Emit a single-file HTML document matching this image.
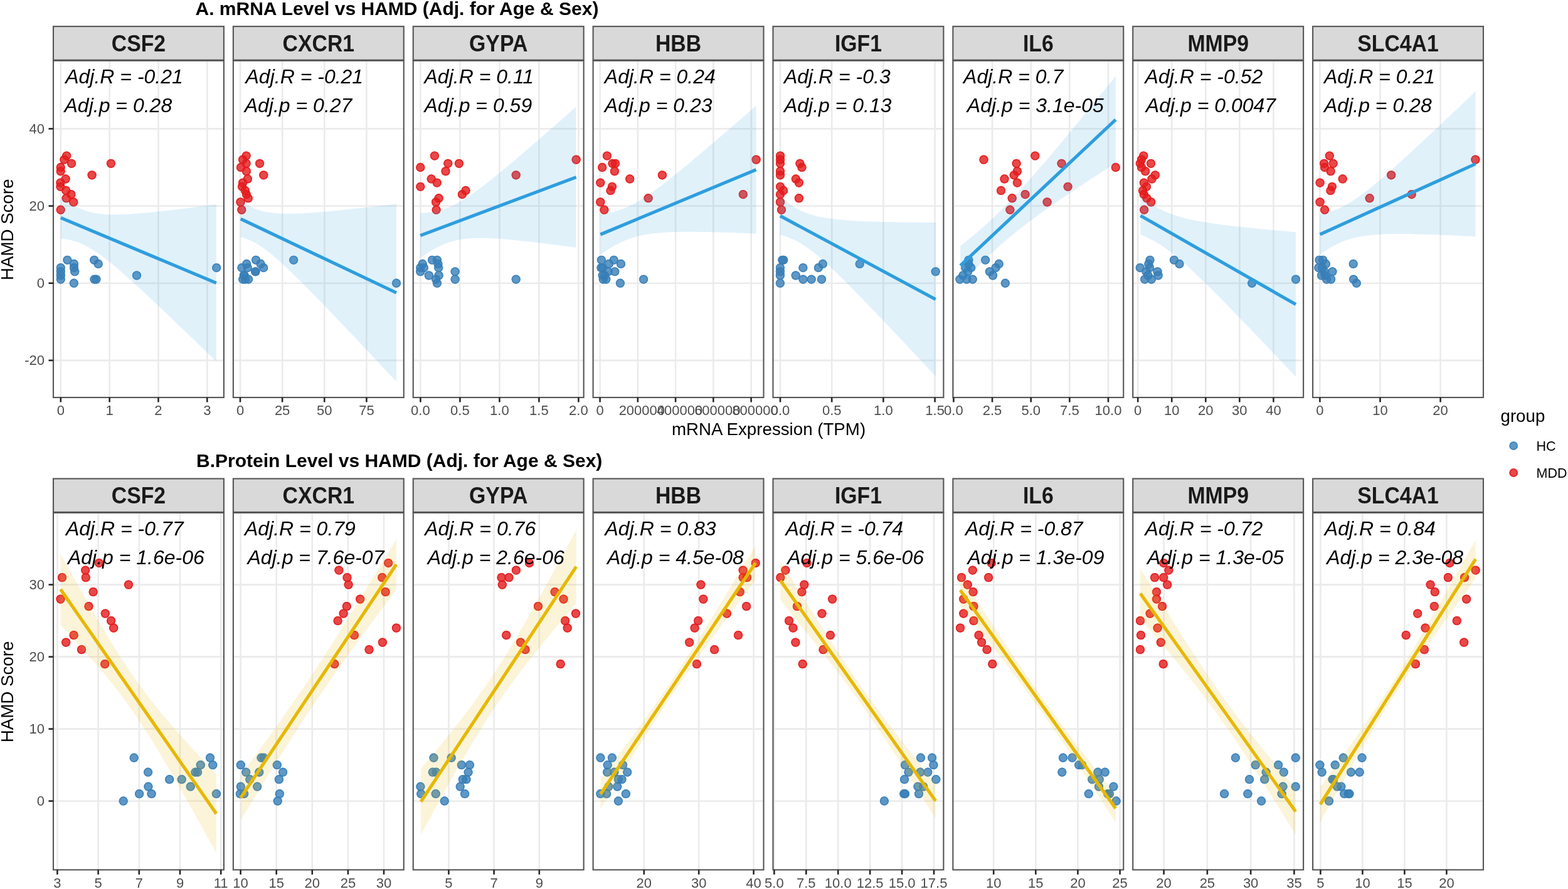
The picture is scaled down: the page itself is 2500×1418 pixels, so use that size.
<!DOCTYPE html><html><head><meta charset="utf-8"><title>mRNA and Protein Level vs HAMD</title><style>html,body{margin:0;padding:0;background:#fff;overflow:hidden}svg{display:block}text{font-family:"Liberation Sans",Arial,Helvetica,sans-serif}</style></head><body>
<svg width="2500" height="1418" viewBox="0 0 2500 1418">
<rect width="2500" height="1418" fill="#fff"/>
<text x="311.5" y="24.2" font-size="30" font-weight="bold" fill="#000">A. mRNA Level vs HAMD (Adj. for Age &amp; Sex)</text>
<text x="313" y="745" font-size="30" font-weight="bold" fill="#000">B.Protein Level vs HAMD (Adj. for Age &amp; Sex)</text>
<clipPath id="cA0"><rect x="85" y="96.8" width="271.9" height="537.2"/></clipPath>
<rect x="85" y="96.8" width="271.9" height="537.2" fill="#fff"/>
<g clip-path="url(#cA0)">
<line x1="85" x2="356.9" y1="205.38" y2="205.38" stroke="#EBEBEB" stroke-width="2.6"/>
<line x1="85" x2="356.9" y1="328.54" y2="328.54" stroke="#EBEBEB" stroke-width="2.6"/>
<line x1="85" x2="356.9" y1="451.7" y2="451.7" stroke="#EBEBEB" stroke-width="2.6"/>
<line x1="85" x2="356.9" y1="574.86" y2="574.86" stroke="#EBEBEB" stroke-width="2.6"/>
<line x1="96.8" x2="96.8" y1="96.8" y2="634" stroke="#EBEBEB" stroke-width="2.6"/>
<line x1="174.63" x2="174.63" y1="96.8" y2="634" stroke="#EBEBEB" stroke-width="2.6"/>
<line x1="252.46" x2="252.46" y1="96.8" y2="634" stroke="#EBEBEB" stroke-width="2.6"/>
<line x1="330.29" x2="330.29" y1="96.8" y2="634" stroke="#EBEBEB" stroke-width="2.6"/>
<circle cx="106.2" cy="248.49" r="7.1" fill="#E41A1C" fill-opacity="0.8"/><circle cx="106.2" cy="248.49" r="6.25" fill="none" stroke="#E41A1C" stroke-opacity="0.8" stroke-width="1.7"/>
<circle cx="102.4" cy="254.64" r="7.1" fill="#E41A1C" fill-opacity="0.8"/><circle cx="102.4" cy="254.64" r="6.25" fill="none" stroke="#E41A1C" stroke-opacity="0.8" stroke-width="1.7"/>
<circle cx="114" cy="260.8" r="7.1" fill="#E41A1C" fill-opacity="0.8"/><circle cx="114" cy="260.8" r="6.25" fill="none" stroke="#E41A1C" stroke-opacity="0.8" stroke-width="1.7"/>
<circle cx="176.9" cy="260.8" r="7.1" fill="#E41A1C" fill-opacity="0.8"/><circle cx="176.9" cy="260.8" r="6.25" fill="none" stroke="#E41A1C" stroke-opacity="0.8" stroke-width="1.7"/>
<circle cx="96.7" cy="266.96" r="7.1" fill="#E41A1C" fill-opacity="0.8"/><circle cx="96.7" cy="266.96" r="6.25" fill="none" stroke="#E41A1C" stroke-opacity="0.8" stroke-width="1.7"/>
<circle cx="96.7" cy="273.12" r="7.1" fill="#E41A1C" fill-opacity="0.8"/><circle cx="96.7" cy="273.12" r="6.25" fill="none" stroke="#E41A1C" stroke-opacity="0.8" stroke-width="1.7"/>
<circle cx="146.6" cy="279.28" r="7.1" fill="#E41A1C" fill-opacity="0.8"/><circle cx="146.6" cy="279.28" r="6.25" fill="none" stroke="#E41A1C" stroke-opacity="0.8" stroke-width="1.7"/>
<circle cx="104.6" cy="285.43" r="7.1" fill="#E41A1C" fill-opacity="0.8"/><circle cx="104.6" cy="285.43" r="6.25" fill="none" stroke="#E41A1C" stroke-opacity="0.8" stroke-width="1.7"/>
<circle cx="96.4" cy="291.59" r="7.1" fill="#E41A1C" fill-opacity="0.8"/><circle cx="96.4" cy="291.59" r="6.25" fill="none" stroke="#E41A1C" stroke-opacity="0.8" stroke-width="1.7"/>
<circle cx="96.4" cy="297.75" r="7.1" fill="#E41A1C" fill-opacity="0.8"/><circle cx="96.4" cy="297.75" r="6.25" fill="none" stroke="#E41A1C" stroke-opacity="0.8" stroke-width="1.7"/>
<circle cx="105.3" cy="303.91" r="7.1" fill="#E41A1C" fill-opacity="0.8"/><circle cx="105.3" cy="303.91" r="6.25" fill="none" stroke="#E41A1C" stroke-opacity="0.8" stroke-width="1.7"/>
<circle cx="113.4" cy="310.07" r="7.1" fill="#E41A1C" fill-opacity="0.8"/><circle cx="113.4" cy="310.07" r="6.25" fill="none" stroke="#E41A1C" stroke-opacity="0.8" stroke-width="1.7"/>
<circle cx="105.7" cy="316.22" r="7.1" fill="#E41A1C" fill-opacity="0.8"/><circle cx="105.7" cy="316.22" r="6.25" fill="none" stroke="#E41A1C" stroke-opacity="0.8" stroke-width="1.7"/>
<circle cx="117.2" cy="322.38" r="7.1" fill="#E41A1C" fill-opacity="0.8"/><circle cx="117.2" cy="322.38" r="6.25" fill="none" stroke="#E41A1C" stroke-opacity="0.8" stroke-width="1.7"/>
<circle cx="96.7" cy="334.7" r="7.1" fill="#E41A1C" fill-opacity="0.8"/><circle cx="96.7" cy="334.7" r="6.25" fill="none" stroke="#E41A1C" stroke-opacity="0.8" stroke-width="1.7"/>
<circle cx="96.8" cy="427.07" r="7.1" fill="#377EB8" fill-opacity="0.8"/><circle cx="96.8" cy="427.07" r="6.25" fill="none" stroke="#377EB8" stroke-opacity="0.8" stroke-width="1.7"/>
<circle cx="96.8" cy="433.23" r="7.1" fill="#377EB8" fill-opacity="0.8"/><circle cx="96.8" cy="433.23" r="6.25" fill="none" stroke="#377EB8" stroke-opacity="0.8" stroke-width="1.7"/>
<circle cx="96.8" cy="439.38" r="7.1" fill="#377EB8" fill-opacity="0.8"/><circle cx="96.8" cy="439.38" r="6.25" fill="none" stroke="#377EB8" stroke-opacity="0.8" stroke-width="1.7"/>
<circle cx="96.8" cy="445.54" r="7.1" fill="#377EB8" fill-opacity="0.8"/><circle cx="96.8" cy="445.54" r="6.25" fill="none" stroke="#377EB8" stroke-opacity="0.8" stroke-width="1.7"/>
<circle cx="107.4" cy="414.75" r="7.1" fill="#377EB8" fill-opacity="0.8"/><circle cx="107.4" cy="414.75" r="6.25" fill="none" stroke="#377EB8" stroke-opacity="0.8" stroke-width="1.7"/>
<circle cx="118" cy="420.91" r="7.1" fill="#377EB8" fill-opacity="0.8"/><circle cx="118" cy="420.91" r="6.25" fill="none" stroke="#377EB8" stroke-opacity="0.8" stroke-width="1.7"/>
<circle cx="118" cy="427.07" r="7.1" fill="#377EB8" fill-opacity="0.8"/><circle cx="118" cy="427.07" r="6.25" fill="none" stroke="#377EB8" stroke-opacity="0.8" stroke-width="1.7"/>
<circle cx="119.2" cy="433.23" r="7.1" fill="#377EB8" fill-opacity="0.8"/><circle cx="119.2" cy="433.23" r="6.25" fill="none" stroke="#377EB8" stroke-opacity="0.8" stroke-width="1.7"/>
<circle cx="117.8" cy="451.7" r="7.1" fill="#377EB8" fill-opacity="0.8"/><circle cx="117.8" cy="451.7" r="6.25" fill="none" stroke="#377EB8" stroke-opacity="0.8" stroke-width="1.7"/>
<circle cx="150.2" cy="414.75" r="7.1" fill="#377EB8" fill-opacity="0.8"/><circle cx="150.2" cy="414.75" r="6.25" fill="none" stroke="#377EB8" stroke-opacity="0.8" stroke-width="1.7"/>
<circle cx="156.7" cy="420.91" r="7.1" fill="#377EB8" fill-opacity="0.8"/><circle cx="156.7" cy="420.91" r="6.25" fill="none" stroke="#377EB8" stroke-opacity="0.8" stroke-width="1.7"/>
<circle cx="150.5" cy="445.54" r="7.1" fill="#377EB8" fill-opacity="0.8"/><circle cx="150.5" cy="445.54" r="6.25" fill="none" stroke="#377EB8" stroke-opacity="0.8" stroke-width="1.7"/>
<circle cx="153.5" cy="445.54" r="7.1" fill="#377EB8" fill-opacity="0.8"/><circle cx="153.5" cy="445.54" r="6.25" fill="none" stroke="#377EB8" stroke-opacity="0.8" stroke-width="1.7"/>
<circle cx="218" cy="439.38" r="7.1" fill="#377EB8" fill-opacity="0.8"/><circle cx="218" cy="439.38" r="6.25" fill="none" stroke="#377EB8" stroke-opacity="0.8" stroke-width="1.7"/>
<circle cx="345.2" cy="427.07" r="7.1" fill="#377EB8" fill-opacity="0.8"/><circle cx="345.2" cy="427.07" r="6.25" fill="none" stroke="#377EB8" stroke-opacity="0.8" stroke-width="1.7"/>
<path d="M96.85,314.4 L100.98,317.37 L105.11,320.2 L109.25,322.9 L113.38,325.43 L117.51,327.79 L121.64,329.97 L125.78,331.96 L129.91,333.75 L134.04,335.34 L138.18,336.73 L142.31,337.94 L146.44,338.97 L150.57,339.83 L154.7,340.54 L158.84,341.11 L162.97,341.55 L167.1,341.89 L171.24,342.13 L175.37,342.29 L179.5,342.37 L183.63,342.38 L187.76,342.33 L191.9,342.23 L196.03,342.09 L200.16,341.91 L204.3,341.69 L208.43,341.44 L212.56,341.16 L216.69,340.85 L220.82,340.52 L224.96,340.18 L229.09,339.81 L233.22,339.43 L237.36,339.03 L241.49,338.62 L245.62,338.19 L249.75,337.76 L253.88,337.31 L258.02,336.86 L262.15,336.39 L266.28,335.92 L270.42,335.44 L274.55,334.96 L278.68,334.46 L282.81,333.96 L286.94,333.46 L291.08,332.95 L295.21,332.44 L299.34,331.92 L303.48,331.4 L307.61,330.87 L311.74,330.34 L315.87,329.81 L320,329.27 L324.14,328.73 L328.27,328.19 L332.4,327.65 L336.53,327.1 L340.67,326.55 L344.8,326 L344.8,576.6 L340.67,572.59 L336.53,568.57 L332.4,564.56 L328.27,560.55 L324.14,556.55 L320,552.55 L315.87,548.55 L311.74,544.55 L307.61,540.56 L303.48,536.57 L299.34,532.58 L295.21,528.6 L291.08,524.62 L286.94,520.65 L282.81,516.69 L278.68,512.72 L274.55,508.77 L270.42,504.82 L266.28,500.88 L262.15,496.94 L258.02,493.01 L253.88,489.09 L249.75,485.19 L245.62,481.29 L241.49,477.4 L237.36,473.52 L233.22,469.66 L229.09,465.82 L224.96,461.99 L220.82,458.18 L216.69,454.38 L212.56,450.62 L208.43,446.87 L204.3,443.16 L200.16,439.48 L196.03,435.83 L191.9,432.22 L187.76,428.66 L183.63,425.15 L179.5,421.7 L175.37,418.32 L171.24,415.01 L167.1,411.78 L162.97,408.66 L158.84,405.64 L154.7,402.75 L150.57,400 L146.44,397.39 L142.31,394.96 L138.18,392.7 L134.04,390.63 L129.91,388.76 L125.78,387.08 L121.64,385.61 L117.51,384.32 L113.38,383.22 L109.25,382.29 L105.11,381.52 L100.98,380.9 L96.85,380.4Z" fill="#2E9EDE" fill-opacity="0.15"/>
<line x1="96.85" y1="347.4" x2="344.8" y2="451.3" stroke="#2E9EDE" stroke-width="5.2"/>
</g>
<text x="104.2" y="132.5" font-size="32" font-style="italic" fill="#000">Adj.R = -0.21</text>
<text x="102.5" y="179" font-size="32" font-style="italic" fill="#000">Adj.p = 0.28</text>
<rect x="85" y="96.8" width="271.9" height="537.2" fill="none" stroke="#555555" stroke-width="2.1"/>
<rect x="85" y="42.15" width="271.9" height="53.65" fill="#D9D9D9" stroke="#555555" stroke-width="2.1"/>
<text transform="translate(220.95,81.75) scale(0.926,1)" font-size="36.5" font-weight="bold" fill="#1A1A1A" text-anchor="middle">CSF2</text>
<line x1="96.8" x2="96.8" y1="634" y2="641.5" stroke="#262626" stroke-width="2.6"/>
<text x="96.8" y="662.2" font-size="22" fill="#4D4D4D" text-anchor="middle">0</text>
<line x1="174.63" x2="174.63" y1="634" y2="641.5" stroke="#262626" stroke-width="2.6"/>
<text x="174.63" y="662.2" font-size="22" fill="#4D4D4D" text-anchor="middle">1</text>
<line x1="252.46" x2="252.46" y1="634" y2="641.5" stroke="#262626" stroke-width="2.6"/>
<text x="252.46" y="662.2" font-size="22" fill="#4D4D4D" text-anchor="middle">2</text>
<line x1="330.29" x2="330.29" y1="634" y2="641.5" stroke="#262626" stroke-width="2.6"/>
<text x="330.29" y="662.2" font-size="22" fill="#4D4D4D" text-anchor="middle">3</text>
<clipPath id="cA1"><rect x="371.87" y="96.8" width="271.9" height="537.2"/></clipPath>
<rect x="371.87" y="96.8" width="271.9" height="537.2" fill="#fff"/>
<g clip-path="url(#cA1)">
<line x1="371.87" x2="643.77" y1="205.38" y2="205.38" stroke="#EBEBEB" stroke-width="2.6"/>
<line x1="371.87" x2="643.77" y1="328.54" y2="328.54" stroke="#EBEBEB" stroke-width="2.6"/>
<line x1="371.87" x2="643.77" y1="451.7" y2="451.7" stroke="#EBEBEB" stroke-width="2.6"/>
<line x1="371.87" x2="643.77" y1="574.86" y2="574.86" stroke="#EBEBEB" stroke-width="2.6"/>
<line x1="383" x2="383" y1="96.8" y2="634" stroke="#EBEBEB" stroke-width="2.6"/>
<line x1="450.13" x2="450.13" y1="96.8" y2="634" stroke="#EBEBEB" stroke-width="2.6"/>
<line x1="517.26" x2="517.26" y1="96.8" y2="634" stroke="#EBEBEB" stroke-width="2.6"/>
<line x1="584.4" x2="584.4" y1="96.8" y2="634" stroke="#EBEBEB" stroke-width="2.6"/>
<circle cx="392.6" cy="248.49" r="7.1" fill="#E41A1C" fill-opacity="0.8"/><circle cx="392.6" cy="248.49" r="6.25" fill="none" stroke="#E41A1C" stroke-opacity="0.8" stroke-width="1.7"/>
<circle cx="387.1" cy="254.64" r="7.1" fill="#E41A1C" fill-opacity="0.8"/><circle cx="387.1" cy="254.64" r="6.25" fill="none" stroke="#E41A1C" stroke-opacity="0.8" stroke-width="1.7"/>
<circle cx="392.6" cy="260.8" r="7.1" fill="#E41A1C" fill-opacity="0.8"/><circle cx="392.6" cy="260.8" r="6.25" fill="none" stroke="#E41A1C" stroke-opacity="0.8" stroke-width="1.7"/>
<circle cx="414.1" cy="260.8" r="7.1" fill="#E41A1C" fill-opacity="0.8"/><circle cx="414.1" cy="260.8" r="6.25" fill="none" stroke="#E41A1C" stroke-opacity="0.8" stroke-width="1.7"/>
<circle cx="384" cy="266.96" r="7.1" fill="#E41A1C" fill-opacity="0.8"/><circle cx="384" cy="266.96" r="6.25" fill="none" stroke="#E41A1C" stroke-opacity="0.8" stroke-width="1.7"/>
<circle cx="392.9" cy="273.12" r="7.1" fill="#E41A1C" fill-opacity="0.8"/><circle cx="392.9" cy="273.12" r="6.25" fill="none" stroke="#E41A1C" stroke-opacity="0.8" stroke-width="1.7"/>
<circle cx="420.3" cy="279.28" r="7.1" fill="#E41A1C" fill-opacity="0.8"/><circle cx="420.3" cy="279.28" r="6.25" fill="none" stroke="#E41A1C" stroke-opacity="0.8" stroke-width="1.7"/>
<circle cx="394.9" cy="285.43" r="7.1" fill="#E41A1C" fill-opacity="0.8"/><circle cx="394.9" cy="285.43" r="6.25" fill="none" stroke="#E41A1C" stroke-opacity="0.8" stroke-width="1.7"/>
<circle cx="387.1" cy="291.59" r="7.1" fill="#E41A1C" fill-opacity="0.8"/><circle cx="387.1" cy="291.59" r="6.25" fill="none" stroke="#E41A1C" stroke-opacity="0.8" stroke-width="1.7"/>
<circle cx="386" cy="297.75" r="7.1" fill="#E41A1C" fill-opacity="0.8"/><circle cx="386" cy="297.75" r="6.25" fill="none" stroke="#E41A1C" stroke-opacity="0.8" stroke-width="1.7"/>
<circle cx="391" cy="303.91" r="7.1" fill="#E41A1C" fill-opacity="0.8"/><circle cx="391" cy="303.91" r="6.25" fill="none" stroke="#E41A1C" stroke-opacity="0.8" stroke-width="1.7"/>
<circle cx="392.9" cy="310.07" r="7.1" fill="#E41A1C" fill-opacity="0.8"/><circle cx="392.9" cy="310.07" r="6.25" fill="none" stroke="#E41A1C" stroke-opacity="0.8" stroke-width="1.7"/>
<circle cx="395.7" cy="316.22" r="7.1" fill="#E41A1C" fill-opacity="0.8"/><circle cx="395.7" cy="316.22" r="6.25" fill="none" stroke="#E41A1C" stroke-opacity="0.8" stroke-width="1.7"/>
<circle cx="383.5" cy="322.38" r="7.1" fill="#E41A1C" fill-opacity="0.8"/><circle cx="383.5" cy="322.38" r="6.25" fill="none" stroke="#E41A1C" stroke-opacity="0.8" stroke-width="1.7"/>
<circle cx="385.3" cy="334.7" r="7.1" fill="#E41A1C" fill-opacity="0.8"/><circle cx="385.3" cy="334.7" r="6.25" fill="none" stroke="#E41A1C" stroke-opacity="0.8" stroke-width="1.7"/>
<circle cx="393.2" cy="420.91" r="7.1" fill="#377EB8" fill-opacity="0.8"/><circle cx="393.2" cy="420.91" r="6.25" fill="none" stroke="#377EB8" stroke-opacity="0.8" stroke-width="1.7"/>
<circle cx="385.5" cy="427.07" r="7.1" fill="#377EB8" fill-opacity="0.8"/><circle cx="385.5" cy="427.07" r="6.25" fill="none" stroke="#377EB8" stroke-opacity="0.8" stroke-width="1.7"/>
<circle cx="394.9" cy="427.07" r="7.1" fill="#377EB8" fill-opacity="0.8"/><circle cx="394.9" cy="427.07" r="6.25" fill="none" stroke="#377EB8" stroke-opacity="0.8" stroke-width="1.7"/>
<circle cx="408" cy="414.75" r="7.1" fill="#377EB8" fill-opacity="0.8"/><circle cx="408" cy="414.75" r="6.25" fill="none" stroke="#377EB8" stroke-opacity="0.8" stroke-width="1.7"/>
<circle cx="415.6" cy="420.91" r="7.1" fill="#377EB8" fill-opacity="0.8"/><circle cx="415.6" cy="420.91" r="6.25" fill="none" stroke="#377EB8" stroke-opacity="0.8" stroke-width="1.7"/>
<circle cx="420.2" cy="427.07" r="7.1" fill="#377EB8" fill-opacity="0.8"/><circle cx="420.2" cy="427.07" r="6.25" fill="none" stroke="#377EB8" stroke-opacity="0.8" stroke-width="1.7"/>
<circle cx="407.3" cy="433.23" r="7.1" fill="#377EB8" fill-opacity="0.8"/><circle cx="407.3" cy="433.23" r="6.25" fill="none" stroke="#377EB8" stroke-opacity="0.8" stroke-width="1.7"/>
<circle cx="407.3" cy="433.23" r="7.1" fill="#377EB8" fill-opacity="0.8"/><circle cx="407.3" cy="433.23" r="6.25" fill="none" stroke="#377EB8" stroke-opacity="0.8" stroke-width="1.7"/>
<circle cx="388.9" cy="439.38" r="7.1" fill="#377EB8" fill-opacity="0.8"/><circle cx="388.9" cy="439.38" r="6.25" fill="none" stroke="#377EB8" stroke-opacity="0.8" stroke-width="1.7"/>
<circle cx="389.5" cy="439.38" r="7.1" fill="#377EB8" fill-opacity="0.8"/><circle cx="389.5" cy="439.38" r="6.25" fill="none" stroke="#377EB8" stroke-opacity="0.8" stroke-width="1.7"/>
<circle cx="387.2" cy="445.54" r="7.1" fill="#377EB8" fill-opacity="0.8"/><circle cx="387.2" cy="445.54" r="6.25" fill="none" stroke="#377EB8" stroke-opacity="0.8" stroke-width="1.7"/>
<circle cx="391" cy="445.54" r="7.1" fill="#377EB8" fill-opacity="0.8"/><circle cx="391" cy="445.54" r="6.25" fill="none" stroke="#377EB8" stroke-opacity="0.8" stroke-width="1.7"/>
<circle cx="396.1" cy="445.54" r="7.1" fill="#377EB8" fill-opacity="0.8"/><circle cx="396.1" cy="445.54" r="6.25" fill="none" stroke="#377EB8" stroke-opacity="0.8" stroke-width="1.7"/>
<circle cx="468.2" cy="414.75" r="7.1" fill="#377EB8" fill-opacity="0.8"/><circle cx="468.2" cy="414.75" r="6.25" fill="none" stroke="#377EB8" stroke-opacity="0.8" stroke-width="1.7"/>
<circle cx="632" cy="451.7" r="7.1" fill="#377EB8" fill-opacity="0.8"/><circle cx="632" cy="451.7" r="6.25" fill="none" stroke="#377EB8" stroke-opacity="0.8" stroke-width="1.7"/>
<path d="M383.7,320.2 L387.84,322.98 L391.98,325.55 L396.12,327.91 L400.25,330.05 L404.39,331.95 L408.53,333.63 L412.67,335.08 L416.81,336.33 L420.94,337.38 L425.08,338.26 L429.22,338.98 L433.36,339.55 L437.5,340 L441.64,340.35 L445.77,340.6 L449.91,340.77 L454.05,340.86 L458.19,340.89 L462.33,340.87 L466.47,340.8 L470.61,340.69 L474.74,340.54 L478.88,340.36 L483.02,340.15 L487.16,339.92 L491.3,339.66 L495.44,339.38 L499.57,339.09 L503.71,338.77 L507.85,338.44 L511.99,338.1 L516.13,337.75 L520.26,337.39 L524.4,337.01 L528.54,336.63 L532.68,336.23 L536.82,335.83 L540.96,335.43 L545.1,335.01 L549.23,334.59 L553.37,334.17 L557.51,333.74 L561.65,333.3 L565.79,332.86 L569.92,332.42 L574.06,331.97 L578.2,331.52 L582.34,331.06 L586.48,330.6 L590.62,330.14 L594.75,329.68 L598.89,329.21 L603.03,328.74 L607.17,328.27 L611.31,327.8 L615.45,327.32 L619.59,326.84 L623.72,326.36 L627.86,325.88 L632,325.4 L632,608.6 L627.86,604.19 L623.72,599.78 L619.59,595.38 L615.45,590.97 L611.31,586.57 L607.17,582.17 L603.03,577.77 L598.89,573.37 L594.75,568.98 L590.62,564.59 L586.48,560.2 L582.34,555.82 L578.2,551.44 L574.06,547.06 L569.92,542.68 L565.79,538.31 L561.65,533.94 L557.51,529.58 L553.37,525.23 L549.23,520.87 L545.1,516.53 L540.96,512.19 L536.82,507.85 L532.68,503.53 L528.54,499.21 L524.4,494.9 L520.26,490.59 L516.13,486.3 L511.99,482.02 L507.85,477.76 L503.71,473.5 L499.57,469.26 L495.44,465.04 L491.3,460.83 L487.16,456.65 L483.02,452.49 L478.88,448.35 L474.74,444.24 L470.61,440.17 L466.47,436.13 L462.33,432.13 L458.19,428.19 L454.05,424.29 L449.91,420.46 L445.77,416.7 L441.64,413.02 L437.5,409.44 L433.36,405.97 L429.22,402.62 L425.08,399.41 L420.94,396.36 L416.81,393.48 L412.67,390.8 L408.53,388.33 L404.39,386.08 L400.25,384.06 L396.12,382.27 L391.98,380.7 L387.84,379.35 L383.7,378.2Z" fill="#2E9EDE" fill-opacity="0.15"/>
<line x1="383.7" y1="349.2" x2="632" y2="467" stroke="#2E9EDE" stroke-width="5.2"/>
</g>
<text x="391.5" y="132.5" font-size="32" font-style="italic" fill="#000">Adj.R = -0.21</text>
<text x="389.7" y="179" font-size="32" font-style="italic" fill="#000">Adj.p = 0.27</text>
<rect x="371.87" y="96.8" width="271.9" height="537.2" fill="none" stroke="#555555" stroke-width="2.1"/>
<rect x="371.87" y="42.15" width="271.9" height="53.65" fill="#D9D9D9" stroke="#555555" stroke-width="2.1"/>
<text transform="translate(507.82,81.75) scale(0.926,1)" font-size="36.5" font-weight="bold" fill="#1A1A1A" text-anchor="middle">CXCR1</text>
<line x1="383" x2="383" y1="634" y2="641.5" stroke="#262626" stroke-width="2.6"/>
<text x="383" y="662.2" font-size="22" fill="#4D4D4D" text-anchor="middle">0</text>
<line x1="450.13" x2="450.13" y1="634" y2="641.5" stroke="#262626" stroke-width="2.6"/>
<text x="450.13" y="662.2" font-size="22" fill="#4D4D4D" text-anchor="middle">25</text>
<line x1="517.26" x2="517.26" y1="634" y2="641.5" stroke="#262626" stroke-width="2.6"/>
<text x="517.26" y="662.2" font-size="22" fill="#4D4D4D" text-anchor="middle">50</text>
<line x1="584.4" x2="584.4" y1="634" y2="641.5" stroke="#262626" stroke-width="2.6"/>
<text x="584.4" y="662.2" font-size="22" fill="#4D4D4D" text-anchor="middle">75</text>
<clipPath id="cA2"><rect x="658.74" y="96.8" width="271.9" height="537.2"/></clipPath>
<rect x="658.74" y="96.8" width="271.9" height="537.2" fill="#fff"/>
<g clip-path="url(#cA2)">
<line x1="658.74" x2="930.64" y1="205.38" y2="205.38" stroke="#EBEBEB" stroke-width="2.6"/>
<line x1="658.74" x2="930.64" y1="328.54" y2="328.54" stroke="#EBEBEB" stroke-width="2.6"/>
<line x1="658.74" x2="930.64" y1="451.7" y2="451.7" stroke="#EBEBEB" stroke-width="2.6"/>
<line x1="658.74" x2="930.64" y1="574.86" y2="574.86" stroke="#EBEBEB" stroke-width="2.6"/>
<line x1="670.4" x2="670.4" y1="96.8" y2="634" stroke="#EBEBEB" stroke-width="2.6"/>
<line x1="733.4" x2="733.4" y1="96.8" y2="634" stroke="#EBEBEB" stroke-width="2.6"/>
<line x1="796.4" x2="796.4" y1="96.8" y2="634" stroke="#EBEBEB" stroke-width="2.6"/>
<line x1="859.4" x2="859.4" y1="96.8" y2="634" stroke="#EBEBEB" stroke-width="2.6"/>
<line x1="922.4" x2="922.4" y1="96.8" y2="634" stroke="#EBEBEB" stroke-width="2.6"/>
<circle cx="692.9" cy="248.49" r="7.1" fill="#E41A1C" fill-opacity="0.8"/><circle cx="692.9" cy="248.49" r="6.25" fill="none" stroke="#E41A1C" stroke-opacity="0.8" stroke-width="1.7"/>
<circle cx="670.3" cy="266.96" r="7.1" fill="#E41A1C" fill-opacity="0.8"/><circle cx="670.3" cy="266.96" r="6.25" fill="none" stroke="#E41A1C" stroke-opacity="0.8" stroke-width="1.7"/>
<circle cx="714.3" cy="260.8" r="7.1" fill="#E41A1C" fill-opacity="0.8"/><circle cx="714.3" cy="260.8" r="6.25" fill="none" stroke="#E41A1C" stroke-opacity="0.8" stroke-width="1.7"/>
<circle cx="731.9" cy="260.8" r="7.1" fill="#E41A1C" fill-opacity="0.8"/><circle cx="731.9" cy="260.8" r="6.25" fill="none" stroke="#E41A1C" stroke-opacity="0.8" stroke-width="1.7"/>
<circle cx="710.5" cy="273.12" r="7.1" fill="#E41A1C" fill-opacity="0.8"/><circle cx="710.5" cy="273.12" r="6.25" fill="none" stroke="#E41A1C" stroke-opacity="0.8" stroke-width="1.7"/>
<circle cx="687.7" cy="285.43" r="7.1" fill="#E41A1C" fill-opacity="0.8"/><circle cx="687.7" cy="285.43" r="6.25" fill="none" stroke="#E41A1C" stroke-opacity="0.8" stroke-width="1.7"/>
<circle cx="696.7" cy="291.59" r="7.1" fill="#E41A1C" fill-opacity="0.8"/><circle cx="696.7" cy="291.59" r="6.25" fill="none" stroke="#E41A1C" stroke-opacity="0.8" stroke-width="1.7"/>
<circle cx="670.3" cy="297.75" r="7.1" fill="#E41A1C" fill-opacity="0.8"/><circle cx="670.3" cy="297.75" r="6.25" fill="none" stroke="#E41A1C" stroke-opacity="0.8" stroke-width="1.7"/>
<circle cx="742.5" cy="303.91" r="7.1" fill="#E41A1C" fill-opacity="0.8"/><circle cx="742.5" cy="303.91" r="6.25" fill="none" stroke="#E41A1C" stroke-opacity="0.8" stroke-width="1.7"/>
<circle cx="736.9" cy="310.07" r="7.1" fill="#E41A1C" fill-opacity="0.8"/><circle cx="736.9" cy="310.07" r="6.25" fill="none" stroke="#E41A1C" stroke-opacity="0.8" stroke-width="1.7"/>
<circle cx="699.6" cy="316.22" r="7.1" fill="#E41A1C" fill-opacity="0.8"/><circle cx="699.6" cy="316.22" r="6.25" fill="none" stroke="#E41A1C" stroke-opacity="0.8" stroke-width="1.7"/>
<circle cx="695.1" cy="322.38" r="7.1" fill="#E41A1C" fill-opacity="0.8"/><circle cx="695.1" cy="322.38" r="6.25" fill="none" stroke="#E41A1C" stroke-opacity="0.8" stroke-width="1.7"/>
<circle cx="695.6" cy="334.7" r="7.1" fill="#E41A1C" fill-opacity="0.8"/><circle cx="695.6" cy="334.7" r="6.25" fill="none" stroke="#E41A1C" stroke-opacity="0.8" stroke-width="1.7"/>
<circle cx="822.7" cy="279.28" r="7.1" fill="#E41A1C" fill-opacity="0.8"/><circle cx="822.7" cy="279.28" r="6.25" fill="none" stroke="#E41A1C" stroke-opacity="0.8" stroke-width="1.7"/>
<circle cx="918.6" cy="254.64" r="7.1" fill="#E41A1C" fill-opacity="0.8"/><circle cx="918.6" cy="254.64" r="6.25" fill="none" stroke="#E41A1C" stroke-opacity="0.8" stroke-width="1.7"/>
<circle cx="673.7" cy="420.91" r="7.1" fill="#377EB8" fill-opacity="0.8"/><circle cx="673.7" cy="420.91" r="6.25" fill="none" stroke="#377EB8" stroke-opacity="0.8" stroke-width="1.7"/>
<circle cx="670.3" cy="427.07" r="7.1" fill="#377EB8" fill-opacity="0.8"/><circle cx="670.3" cy="427.07" r="6.25" fill="none" stroke="#377EB8" stroke-opacity="0.8" stroke-width="1.7"/>
<circle cx="675.9" cy="427.07" r="7.1" fill="#377EB8" fill-opacity="0.8"/><circle cx="675.9" cy="427.07" r="6.25" fill="none" stroke="#377EB8" stroke-opacity="0.8" stroke-width="1.7"/>
<circle cx="670.3" cy="433.23" r="7.1" fill="#377EB8" fill-opacity="0.8"/><circle cx="670.3" cy="433.23" r="6.25" fill="none" stroke="#377EB8" stroke-opacity="0.8" stroke-width="1.7"/>
<circle cx="689" cy="414.75" r="7.1" fill="#377EB8" fill-opacity="0.8"/><circle cx="689" cy="414.75" r="6.25" fill="none" stroke="#377EB8" stroke-opacity="0.8" stroke-width="1.7"/>
<circle cx="696.9" cy="414.75" r="7.1" fill="#377EB8" fill-opacity="0.8"/><circle cx="696.9" cy="414.75" r="6.25" fill="none" stroke="#377EB8" stroke-opacity="0.8" stroke-width="1.7"/>
<circle cx="698.5" cy="420.91" r="7.1" fill="#377EB8" fill-opacity="0.8"/><circle cx="698.5" cy="420.91" r="6.25" fill="none" stroke="#377EB8" stroke-opacity="0.8" stroke-width="1.7"/>
<circle cx="699.2" cy="427.07" r="7.1" fill="#377EB8" fill-opacity="0.8"/><circle cx="699.2" cy="427.07" r="6.25" fill="none" stroke="#377EB8" stroke-opacity="0.8" stroke-width="1.7"/>
<circle cx="683.8" cy="439.38" r="7.1" fill="#377EB8" fill-opacity="0.8"/><circle cx="683.8" cy="439.38" r="6.25" fill="none" stroke="#377EB8" stroke-opacity="0.8" stroke-width="1.7"/>
<circle cx="699.6" cy="439.38" r="7.1" fill="#377EB8" fill-opacity="0.8"/><circle cx="699.6" cy="439.38" r="6.25" fill="none" stroke="#377EB8" stroke-opacity="0.8" stroke-width="1.7"/>
<circle cx="695.1" cy="445.54" r="7.1" fill="#377EB8" fill-opacity="0.8"/><circle cx="695.1" cy="445.54" r="6.25" fill="none" stroke="#377EB8" stroke-opacity="0.8" stroke-width="1.7"/>
<circle cx="696.9" cy="451.7" r="7.1" fill="#377EB8" fill-opacity="0.8"/><circle cx="696.9" cy="451.7" r="6.25" fill="none" stroke="#377EB8" stroke-opacity="0.8" stroke-width="1.7"/>
<circle cx="725.6" cy="433.23" r="7.1" fill="#377EB8" fill-opacity="0.8"/><circle cx="725.6" cy="433.23" r="6.25" fill="none" stroke="#377EB8" stroke-opacity="0.8" stroke-width="1.7"/>
<circle cx="725.6" cy="445.54" r="7.1" fill="#377EB8" fill-opacity="0.8"/><circle cx="725.6" cy="445.54" r="6.25" fill="none" stroke="#377EB8" stroke-opacity="0.8" stroke-width="1.7"/>
<circle cx="822.7" cy="445.54" r="7.1" fill="#377EB8" fill-opacity="0.8"/><circle cx="822.7" cy="445.54" r="6.25" fill="none" stroke="#377EB8" stroke-opacity="0.8" stroke-width="1.7"/>
<path d="M670.3,340.1 L674.44,339.84 L678.58,339.5 L682.71,339.05 L686.85,338.48 L690.99,337.79 L695.13,336.96 L699.27,335.99 L703.41,334.85 L707.54,333.56 L711.68,332.1 L715.82,330.47 L719.96,328.67 L724.1,326.71 L728.24,324.6 L732.38,322.33 L736.51,319.93 L740.65,317.4 L744.79,314.76 L748.93,312.01 L753.07,309.17 L757.2,306.25 L761.34,303.25 L765.48,300.19 L769.62,297.06 L773.76,293.89 L777.9,290.67 L782.03,287.4 L786.17,284.1 L790.31,280.76 L794.45,277.4 L798.59,274 L802.73,270.59 L806.87,267.15 L811,263.69 L815.14,260.21 L819.28,256.72 L823.42,253.21 L827.56,249.69 L831.69,246.16 L835.83,242.62 L839.97,239.06 L844.11,235.5 L848.25,231.92 L852.39,228.34 L856.52,224.75 L860.66,221.16 L864.8,217.56 L868.94,213.95 L873.08,210.33 L877.22,206.71 L881.36,203.09 L885.49,199.46 L889.63,195.83 L893.77,192.19 L897.91,188.55 L902.05,184.91 L906.19,181.26 L910.32,177.61 L914.46,173.96 L918.6,170.3 L918.6,394.9 L914.46,394.34 L910.32,393.79 L906.19,393.24 L902.05,392.69 L897.91,392.15 L893.77,391.61 L889.63,391.07 L885.49,390.54 L881.36,390.01 L877.22,389.49 L873.08,388.97 L868.94,388.45 L864.8,387.94 L860.66,387.44 L856.52,386.95 L852.39,386.46 L848.25,385.98 L844.11,385.5 L839.97,385.04 L835.83,384.58 L831.69,384.14 L827.56,383.71 L823.42,383.29 L819.28,382.88 L815.14,382.49 L811,382.11 L806.87,381.75 L802.73,381.41 L798.59,381.1 L794.45,380.8 L790.31,380.54 L786.17,380.3 L782.03,380.1 L777.9,379.93 L773.76,379.81 L769.62,379.74 L765.48,379.71 L761.34,379.75 L757.2,379.85 L753.07,380.03 L748.93,380.29 L744.79,380.64 L740.65,381.1 L736.51,381.67 L732.38,382.37 L728.24,383.2 L724.1,384.19 L719.96,385.33 L715.82,386.63 L711.68,388.1 L707.54,389.74 L703.41,391.55 L699.27,393.51 L695.13,395.64 L690.99,397.91 L686.85,400.32 L682.71,402.85 L678.58,405.5 L674.44,408.26 L670.3,411.1Z" fill="#2E9EDE" fill-opacity="0.15"/>
<line x1="670.3" y1="375.6" x2="918.6" y2="282.6" stroke="#2E9EDE" stroke-width="5.2"/>
</g>
<text x="676.5" y="132.5" font-size="32" font-style="italic" fill="#000">Adj.R = 0.11</text>
<text x="676.5" y="179" font-size="32" font-style="italic" fill="#000">Adj.p = 0.59</text>
<rect x="658.74" y="96.8" width="271.9" height="537.2" fill="none" stroke="#555555" stroke-width="2.1"/>
<rect x="658.74" y="42.15" width="271.9" height="53.65" fill="#D9D9D9" stroke="#555555" stroke-width="2.1"/>
<text transform="translate(794.69,81.75) scale(0.926,1)" font-size="36.5" font-weight="bold" fill="#1A1A1A" text-anchor="middle">GYPA</text>
<line x1="670.4" x2="670.4" y1="634" y2="641.5" stroke="#262626" stroke-width="2.6"/>
<text x="670.4" y="662.2" font-size="22" fill="#4D4D4D" text-anchor="middle">0.0</text>
<line x1="733.4" x2="733.4" y1="634" y2="641.5" stroke="#262626" stroke-width="2.6"/>
<text x="733.4" y="662.2" font-size="22" fill="#4D4D4D" text-anchor="middle">0.5</text>
<line x1="796.4" x2="796.4" y1="634" y2="641.5" stroke="#262626" stroke-width="2.6"/>
<text x="796.4" y="662.2" font-size="22" fill="#4D4D4D" text-anchor="middle">1.0</text>
<line x1="859.4" x2="859.4" y1="634" y2="641.5" stroke="#262626" stroke-width="2.6"/>
<text x="859.4" y="662.2" font-size="22" fill="#4D4D4D" text-anchor="middle">1.5</text>
<line x1="922.4" x2="922.4" y1="634" y2="641.5" stroke="#262626" stroke-width="2.6"/>
<text x="922.4" y="662.2" font-size="22" fill="#4D4D4D" text-anchor="middle">2.0</text>
<clipPath id="cA3"><rect x="945.61" y="96.8" width="271.9" height="537.2"/></clipPath>
<rect x="945.61" y="96.8" width="271.9" height="537.2" fill="#fff"/>
<g clip-path="url(#cA3)">
<line x1="945.61" x2="1217.51" y1="205.38" y2="205.38" stroke="#EBEBEB" stroke-width="2.6"/>
<line x1="945.61" x2="1217.51" y1="328.54" y2="328.54" stroke="#EBEBEB" stroke-width="2.6"/>
<line x1="945.61" x2="1217.51" y1="451.7" y2="451.7" stroke="#EBEBEB" stroke-width="2.6"/>
<line x1="945.61" x2="1217.51" y1="574.86" y2="574.86" stroke="#EBEBEB" stroke-width="2.6"/>
<line x1="956.6" x2="956.6" y1="96.8" y2="634" stroke="#EBEBEB" stroke-width="2.6"/>
<line x1="1016.85" x2="1016.85" y1="96.8" y2="634" stroke="#EBEBEB" stroke-width="2.6"/>
<line x1="1077.1" x2="1077.1" y1="96.8" y2="634" stroke="#EBEBEB" stroke-width="2.6"/>
<line x1="1137.35" x2="1137.35" y1="96.8" y2="634" stroke="#EBEBEB" stroke-width="2.6"/>
<line x1="1197.6" x2="1197.6" y1="96.8" y2="634" stroke="#EBEBEB" stroke-width="2.6"/>
<circle cx="967.9" cy="248.49" r="7.1" fill="#E41A1C" fill-opacity="0.8"/><circle cx="967.9" cy="248.49" r="6.25" fill="none" stroke="#E41A1C" stroke-opacity="0.8" stroke-width="1.7"/>
<circle cx="976.5" cy="260.8" r="7.1" fill="#E41A1C" fill-opacity="0.8"/><circle cx="976.5" cy="260.8" r="6.25" fill="none" stroke="#E41A1C" stroke-opacity="0.8" stroke-width="1.7"/>
<circle cx="981" cy="260.8" r="7.1" fill="#E41A1C" fill-opacity="0.8"/><circle cx="981" cy="260.8" r="6.25" fill="none" stroke="#E41A1C" stroke-opacity="0.8" stroke-width="1.7"/>
<circle cx="960.2" cy="266.96" r="7.1" fill="#E41A1C" fill-opacity="0.8"/><circle cx="960.2" cy="266.96" r="6.25" fill="none" stroke="#E41A1C" stroke-opacity="0.8" stroke-width="1.7"/>
<circle cx="979.9" cy="273.12" r="7.1" fill="#E41A1C" fill-opacity="0.8"/><circle cx="979.9" cy="273.12" r="6.25" fill="none" stroke="#E41A1C" stroke-opacity="0.8" stroke-width="1.7"/>
<circle cx="1004.2" cy="285.43" r="7.1" fill="#E41A1C" fill-opacity="0.8"/><circle cx="1004.2" cy="285.43" r="6.25" fill="none" stroke="#E41A1C" stroke-opacity="0.8" stroke-width="1.7"/>
<circle cx="1055.9" cy="279.28" r="7.1" fill="#E41A1C" fill-opacity="0.8"/><circle cx="1055.9" cy="279.28" r="6.25" fill="none" stroke="#E41A1C" stroke-opacity="0.8" stroke-width="1.7"/>
<circle cx="957.3" cy="291.59" r="7.1" fill="#E41A1C" fill-opacity="0.8"/><circle cx="957.3" cy="291.59" r="6.25" fill="none" stroke="#E41A1C" stroke-opacity="0.8" stroke-width="1.7"/>
<circle cx="976" cy="297.75" r="7.1" fill="#E41A1C" fill-opacity="0.8"/><circle cx="976" cy="297.75" r="6.25" fill="none" stroke="#E41A1C" stroke-opacity="0.8" stroke-width="1.7"/>
<circle cx="973.5" cy="303.91" r="7.1" fill="#E41A1C" fill-opacity="0.8"/><circle cx="973.5" cy="303.91" r="6.25" fill="none" stroke="#E41A1C" stroke-opacity="0.8" stroke-width="1.7"/>
<circle cx="1033.6" cy="316.22" r="7.1" fill="#E41A1C" fill-opacity="0.8"/><circle cx="1033.6" cy="316.22" r="6.25" fill="none" stroke="#E41A1C" stroke-opacity="0.8" stroke-width="1.7"/>
<circle cx="957.3" cy="322.38" r="7.1" fill="#E41A1C" fill-opacity="0.8"/><circle cx="957.3" cy="322.38" r="6.25" fill="none" stroke="#E41A1C" stroke-opacity="0.8" stroke-width="1.7"/>
<circle cx="963.4" cy="334.7" r="7.1" fill="#E41A1C" fill-opacity="0.8"/><circle cx="963.4" cy="334.7" r="6.25" fill="none" stroke="#E41A1C" stroke-opacity="0.8" stroke-width="1.7"/>
<circle cx="1205.6" cy="254.64" r="7.1" fill="#E41A1C" fill-opacity="0.8"/><circle cx="1205.6" cy="254.64" r="6.25" fill="none" stroke="#E41A1C" stroke-opacity="0.8" stroke-width="1.7"/>
<circle cx="1184.8" cy="310.07" r="7.1" fill="#E41A1C" fill-opacity="0.8"/><circle cx="1184.8" cy="310.07" r="6.25" fill="none" stroke="#E41A1C" stroke-opacity="0.8" stroke-width="1.7"/>
<circle cx="958.9" cy="414.75" r="7.1" fill="#377EB8" fill-opacity="0.8"/><circle cx="958.9" cy="414.75" r="6.25" fill="none" stroke="#377EB8" stroke-opacity="0.8" stroke-width="1.7"/>
<circle cx="978.7" cy="414.75" r="7.1" fill="#377EB8" fill-opacity="0.8"/><circle cx="978.7" cy="414.75" r="6.25" fill="none" stroke="#377EB8" stroke-opacity="0.8" stroke-width="1.7"/>
<circle cx="970.8" cy="420.91" r="7.1" fill="#377EB8" fill-opacity="0.8"/><circle cx="970.8" cy="420.91" r="6.25" fill="none" stroke="#377EB8" stroke-opacity="0.8" stroke-width="1.7"/>
<circle cx="990" cy="420.91" r="7.1" fill="#377EB8" fill-opacity="0.8"/><circle cx="990" cy="420.91" r="6.25" fill="none" stroke="#377EB8" stroke-opacity="0.8" stroke-width="1.7"/>
<circle cx="958.4" cy="427.07" r="7.1" fill="#377EB8" fill-opacity="0.8"/><circle cx="958.4" cy="427.07" r="6.25" fill="none" stroke="#377EB8" stroke-opacity="0.8" stroke-width="1.7"/>
<circle cx="960.7" cy="427.07" r="7.1" fill="#377EB8" fill-opacity="0.8"/><circle cx="960.7" cy="427.07" r="6.25" fill="none" stroke="#377EB8" stroke-opacity="0.8" stroke-width="1.7"/>
<circle cx="969.7" cy="433.23" r="7.1" fill="#377EB8" fill-opacity="0.8"/><circle cx="969.7" cy="433.23" r="6.25" fill="none" stroke="#377EB8" stroke-opacity="0.8" stroke-width="1.7"/>
<circle cx="980.3" cy="433.23" r="7.1" fill="#377EB8" fill-opacity="0.8"/><circle cx="980.3" cy="433.23" r="6.25" fill="none" stroke="#377EB8" stroke-opacity="0.8" stroke-width="1.7"/>
<circle cx="964.1" cy="439.38" r="7.1" fill="#377EB8" fill-opacity="0.8"/><circle cx="964.1" cy="439.38" r="6.25" fill="none" stroke="#377EB8" stroke-opacity="0.8" stroke-width="1.7"/>
<circle cx="960.7" cy="439.38" r="7.1" fill="#377EB8" fill-opacity="0.8"/><circle cx="960.7" cy="439.38" r="6.25" fill="none" stroke="#377EB8" stroke-opacity="0.8" stroke-width="1.7"/>
<circle cx="961.8" cy="445.54" r="7.1" fill="#377EB8" fill-opacity="0.8"/><circle cx="961.8" cy="445.54" r="6.25" fill="none" stroke="#377EB8" stroke-opacity="0.8" stroke-width="1.7"/>
<circle cx="966.3" cy="445.54" r="7.1" fill="#377EB8" fill-opacity="0.8"/><circle cx="966.3" cy="445.54" r="6.25" fill="none" stroke="#377EB8" stroke-opacity="0.8" stroke-width="1.7"/>
<circle cx="988.9" cy="451.7" r="7.1" fill="#377EB8" fill-opacity="0.8"/><circle cx="988.9" cy="451.7" r="6.25" fill="none" stroke="#377EB8" stroke-opacity="0.8" stroke-width="1.7"/>
<circle cx="1026.1" cy="445.54" r="7.1" fill="#377EB8" fill-opacity="0.8"/><circle cx="1026.1" cy="445.54" r="6.25" fill="none" stroke="#377EB8" stroke-opacity="0.8" stroke-width="1.7"/>
<path d="M957.3,342 L961.44,341.38 L965.58,340.66 L969.71,339.85 L973.85,338.94 L977.99,337.91 L982.13,336.75 L986.27,335.47 L990.41,334.04 L994.54,332.47 L998.68,330.75 L1002.82,328.89 L1006.96,326.88 L1011.1,324.73 L1015.24,322.45 L1019.37,320.05 L1023.51,317.53 L1027.65,314.9 L1031.79,312.17 L1035.93,309.35 L1040.07,306.46 L1044.2,303.49 L1048.34,300.46 L1052.48,297.38 L1056.62,294.24 L1060.76,291.06 L1064.9,287.83 L1069.03,284.57 L1073.17,281.28 L1077.31,277.95 L1081.45,274.6 L1085.59,271.23 L1089.73,267.83 L1093.87,264.42 L1098,260.99 L1102.14,257.54 L1106.28,254.08 L1110.42,250.6 L1114.56,247.11 L1118.69,243.61 L1122.83,240.1 L1126.97,236.58 L1131.11,233.05 L1135.25,229.52 L1139.39,225.97 L1143.52,222.42 L1147.66,218.87 L1151.8,215.31 L1155.94,211.74 L1160.08,208.16 L1164.22,204.59 L1168.36,201 L1172.49,197.42 L1176.63,193.83 L1180.77,190.23 L1184.91,186.63 L1189.05,183.03 L1193.18,179.43 L1197.32,175.82 L1201.46,172.21 L1205.6,168.6 L1205.6,372.6 L1201.46,372.43 L1197.32,372.27 L1193.18,372.11 L1189.05,371.95 L1184.91,371.8 L1180.77,371.65 L1176.63,371.5 L1172.49,371.36 L1168.36,371.22 L1164.22,371.08 L1160.08,370.95 L1155.94,370.82 L1151.8,370.7 L1147.66,370.59 L1143.52,370.48 L1139.39,370.37 L1135.25,370.28 L1131.11,370.19 L1126.97,370.1 L1122.83,370.03 L1118.69,369.97 L1114.56,369.92 L1110.42,369.87 L1106.28,369.84 L1102.14,369.83 L1098,369.83 L1093.87,369.84 L1089.73,369.87 L1085.59,369.92 L1081.45,370 L1077.31,370.09 L1073.17,370.22 L1069.03,370.37 L1064.9,370.56 L1060.76,370.78 L1056.62,371.04 L1052.48,371.35 L1048.34,371.71 L1044.2,372.13 L1040.07,372.61 L1035.93,373.16 L1031.79,373.79 L1027.65,374.51 L1023.51,375.33 L1019.37,376.25 L1015.24,377.29 L1011.1,378.46 L1006.96,379.76 L1002.82,381.2 L998.68,382.78 L994.54,384.51 L990.41,386.39 L986.27,388.41 L982.13,390.57 L977.99,392.86 L973.85,395.27 L969.71,397.81 L965.58,400.44 L961.44,403.18 L957.3,406Z" fill="#2E9EDE" fill-opacity="0.15"/>
<line x1="957.3" y1="374" x2="1205.6" y2="270.6" stroke="#2E9EDE" stroke-width="5.2"/>
</g>
<text x="963.8" y="132.5" font-size="32" font-style="italic" fill="#000">Adj.R = 0.24</text>
<text x="963.8" y="179" font-size="32" font-style="italic" fill="#000">Adj.p = 0.23</text>
<rect x="945.61" y="96.8" width="271.9" height="537.2" fill="none" stroke="#555555" stroke-width="2.1"/>
<rect x="945.61" y="42.15" width="271.9" height="53.65" fill="#D9D9D9" stroke="#555555" stroke-width="2.1"/>
<text transform="translate(1081.56,81.75) scale(0.926,1)" font-size="36.5" font-weight="bold" fill="#1A1A1A" text-anchor="middle">HBB</text>
<line x1="956.6" x2="956.6" y1="634" y2="641.5" stroke="#262626" stroke-width="2.6"/>
<text x="956.6" y="662.2" font-size="22" fill="#4D4D4D" text-anchor="middle">0</text>
<line x1="1016.85" x2="1016.85" y1="634" y2="641.5" stroke="#262626" stroke-width="2.6"/>
<text x="1023.35" y="662.2" font-size="22" fill="#4D4D4D" text-anchor="middle">200000</text>
<line x1="1077.1" x2="1077.1" y1="634" y2="641.5" stroke="#262626" stroke-width="2.6"/>
<text x="1083.6" y="662.2" font-size="22" fill="#4D4D4D" text-anchor="middle">400000</text>
<line x1="1137.35" x2="1137.35" y1="634" y2="641.5" stroke="#262626" stroke-width="2.6"/>
<text x="1143.85" y="662.2" font-size="22" fill="#4D4D4D" text-anchor="middle">600000</text>
<line x1="1197.6" x2="1197.6" y1="634" y2="641.5" stroke="#262626" stroke-width="2.6"/>
<text x="1204.1" y="662.2" font-size="22" fill="#4D4D4D" text-anchor="middle">800000</text>
<clipPath id="cA4"><rect x="1232.48" y="96.8" width="271.9" height="537.2"/></clipPath>
<rect x="1232.48" y="96.8" width="271.9" height="537.2" fill="#fff"/>
<g clip-path="url(#cA4)">
<line x1="1232.48" x2="1504.38" y1="205.38" y2="205.38" stroke="#EBEBEB" stroke-width="2.6"/>
<line x1="1232.48" x2="1504.38" y1="328.54" y2="328.54" stroke="#EBEBEB" stroke-width="2.6"/>
<line x1="1232.48" x2="1504.38" y1="451.7" y2="451.7" stroke="#EBEBEB" stroke-width="2.6"/>
<line x1="1232.48" x2="1504.38" y1="574.86" y2="574.86" stroke="#EBEBEB" stroke-width="2.6"/>
<line x1="1244" x2="1244" y1="96.8" y2="634" stroke="#EBEBEB" stroke-width="2.6"/>
<line x1="1326.2" x2="1326.2" y1="96.8" y2="634" stroke="#EBEBEB" stroke-width="2.6"/>
<line x1="1408.4" x2="1408.4" y1="96.8" y2="634" stroke="#EBEBEB" stroke-width="2.6"/>
<line x1="1490.6" x2="1490.6" y1="96.8" y2="634" stroke="#EBEBEB" stroke-width="2.6"/>
<circle cx="1244" cy="248.49" r="7.1" fill="#E41A1C" fill-opacity="0.8"/><circle cx="1244" cy="248.49" r="6.25" fill="none" stroke="#E41A1C" stroke-opacity="0.8" stroke-width="1.7"/>
<circle cx="1244" cy="254.64" r="7.1" fill="#E41A1C" fill-opacity="0.8"/><circle cx="1244" cy="254.64" r="6.25" fill="none" stroke="#E41A1C" stroke-opacity="0.8" stroke-width="1.7"/>
<circle cx="1244" cy="260.8" r="7.1" fill="#E41A1C" fill-opacity="0.8"/><circle cx="1244" cy="260.8" r="6.25" fill="none" stroke="#E41A1C" stroke-opacity="0.8" stroke-width="1.7"/>
<circle cx="1244" cy="273.12" r="7.1" fill="#E41A1C" fill-opacity="0.8"/><circle cx="1244" cy="273.12" r="6.25" fill="none" stroke="#E41A1C" stroke-opacity="0.8" stroke-width="1.7"/>
<circle cx="1244" cy="279.28" r="7.1" fill="#E41A1C" fill-opacity="0.8"/><circle cx="1244" cy="279.28" r="6.25" fill="none" stroke="#E41A1C" stroke-opacity="0.8" stroke-width="1.7"/>
<circle cx="1275.4" cy="260.8" r="7.1" fill="#E41A1C" fill-opacity="0.8"/><circle cx="1275.4" cy="260.8" r="6.25" fill="none" stroke="#E41A1C" stroke-opacity="0.8" stroke-width="1.7"/>
<circle cx="1278.5" cy="266.96" r="7.1" fill="#E41A1C" fill-opacity="0.8"/><circle cx="1278.5" cy="266.96" r="6.25" fill="none" stroke="#E41A1C" stroke-opacity="0.8" stroke-width="1.7"/>
<circle cx="1268.9" cy="285.43" r="7.1" fill="#E41A1C" fill-opacity="0.8"/><circle cx="1268.9" cy="285.43" r="6.25" fill="none" stroke="#E41A1C" stroke-opacity="0.8" stroke-width="1.7"/>
<circle cx="1273.9" cy="291.59" r="7.1" fill="#E41A1C" fill-opacity="0.8"/><circle cx="1273.9" cy="291.59" r="6.25" fill="none" stroke="#E41A1C" stroke-opacity="0.8" stroke-width="1.7"/>
<circle cx="1244" cy="297.75" r="7.1" fill="#E41A1C" fill-opacity="0.8"/><circle cx="1244" cy="297.75" r="6.25" fill="none" stroke="#E41A1C" stroke-opacity="0.8" stroke-width="1.7"/>
<circle cx="1249.1" cy="303.91" r="7.1" fill="#E41A1C" fill-opacity="0.8"/><circle cx="1249.1" cy="303.91" r="6.25" fill="none" stroke="#E41A1C" stroke-opacity="0.8" stroke-width="1.7"/>
<circle cx="1244" cy="310.07" r="7.1" fill="#E41A1C" fill-opacity="0.8"/><circle cx="1244" cy="310.07" r="6.25" fill="none" stroke="#E41A1C" stroke-opacity="0.8" stroke-width="1.7"/>
<circle cx="1273.9" cy="316.22" r="7.1" fill="#E41A1C" fill-opacity="0.8"/><circle cx="1273.9" cy="316.22" r="6.25" fill="none" stroke="#E41A1C" stroke-opacity="0.8" stroke-width="1.7"/>
<circle cx="1244" cy="322.38" r="7.1" fill="#E41A1C" fill-opacity="0.8"/><circle cx="1244" cy="322.38" r="6.25" fill="none" stroke="#E41A1C" stroke-opacity="0.8" stroke-width="1.7"/>
<circle cx="1246" cy="334.7" r="7.1" fill="#E41A1C" fill-opacity="0.8"/><circle cx="1246" cy="334.7" r="6.25" fill="none" stroke="#E41A1C" stroke-opacity="0.8" stroke-width="1.7"/>
<circle cx="1247.3" cy="414.75" r="7.1" fill="#377EB8" fill-opacity="0.8"/><circle cx="1247.3" cy="414.75" r="6.25" fill="none" stroke="#377EB8" stroke-opacity="0.8" stroke-width="1.7"/>
<circle cx="1249.3" cy="414.75" r="7.1" fill="#377EB8" fill-opacity="0.8"/><circle cx="1249.3" cy="414.75" r="6.25" fill="none" stroke="#377EB8" stroke-opacity="0.8" stroke-width="1.7"/>
<circle cx="1243.9" cy="427.07" r="7.1" fill="#377EB8" fill-opacity="0.8"/><circle cx="1243.9" cy="427.07" r="6.25" fill="none" stroke="#377EB8" stroke-opacity="0.8" stroke-width="1.7"/>
<circle cx="1243.9" cy="433.23" r="7.1" fill="#377EB8" fill-opacity="0.8"/><circle cx="1243.9" cy="433.23" r="6.25" fill="none" stroke="#377EB8" stroke-opacity="0.8" stroke-width="1.7"/>
<circle cx="1243.9" cy="439.38" r="7.1" fill="#377EB8" fill-opacity="0.8"/><circle cx="1243.9" cy="439.38" r="6.25" fill="none" stroke="#377EB8" stroke-opacity="0.8" stroke-width="1.7"/>
<circle cx="1243.9" cy="451.7" r="7.1" fill="#377EB8" fill-opacity="0.8"/><circle cx="1243.9" cy="451.7" r="6.25" fill="none" stroke="#377EB8" stroke-opacity="0.8" stroke-width="1.7"/>
<circle cx="1280.4" cy="427.07" r="7.1" fill="#377EB8" fill-opacity="0.8"/><circle cx="1280.4" cy="427.07" r="6.25" fill="none" stroke="#377EB8" stroke-opacity="0.8" stroke-width="1.7"/>
<circle cx="1268.7" cy="439.38" r="7.1" fill="#377EB8" fill-opacity="0.8"/><circle cx="1268.7" cy="439.38" r="6.25" fill="none" stroke="#377EB8" stroke-opacity="0.8" stroke-width="1.7"/>
<circle cx="1280.4" cy="445.54" r="7.1" fill="#377EB8" fill-opacity="0.8"/><circle cx="1280.4" cy="445.54" r="6.25" fill="none" stroke="#377EB8" stroke-opacity="0.8" stroke-width="1.7"/>
<circle cx="1293.7" cy="445.54" r="7.1" fill="#377EB8" fill-opacity="0.8"/><circle cx="1293.7" cy="445.54" r="6.25" fill="none" stroke="#377EB8" stroke-opacity="0.8" stroke-width="1.7"/>
<circle cx="1310" cy="445.54" r="7.1" fill="#377EB8" fill-opacity="0.8"/><circle cx="1310" cy="445.54" r="6.25" fill="none" stroke="#377EB8" stroke-opacity="0.8" stroke-width="1.7"/>
<circle cx="1304.9" cy="427.07" r="7.1" fill="#377EB8" fill-opacity="0.8"/><circle cx="1304.9" cy="427.07" r="6.25" fill="none" stroke="#377EB8" stroke-opacity="0.8" stroke-width="1.7"/>
<circle cx="1311.8" cy="420.91" r="7.1" fill="#377EB8" fill-opacity="0.8"/><circle cx="1311.8" cy="420.91" r="6.25" fill="none" stroke="#377EB8" stroke-opacity="0.8" stroke-width="1.7"/>
<circle cx="1370.7" cy="420.91" r="7.1" fill="#377EB8" fill-opacity="0.8"/><circle cx="1370.7" cy="420.91" r="6.25" fill="none" stroke="#377EB8" stroke-opacity="0.8" stroke-width="1.7"/>
<circle cx="1491.7" cy="433.23" r="7.1" fill="#377EB8" fill-opacity="0.8"/><circle cx="1491.7" cy="433.23" r="6.25" fill="none" stroke="#377EB8" stroke-opacity="0.8" stroke-width="1.7"/>
<path d="M1244,314.4 L1248.13,317.67 L1252.26,320.8 L1256.38,323.78 L1260.51,326.59 L1264.64,329.22 L1268.77,331.67 L1272.9,333.92 L1277.03,335.98 L1281.15,337.84 L1285.28,339.53 L1289.41,341.04 L1293.54,342.4 L1297.67,343.61 L1301.8,344.69 L1305.92,345.65 L1310.05,346.51 L1314.18,347.27 L1318.31,347.96 L1322.44,348.57 L1326.57,349.12 L1330.69,349.62 L1334.82,350.07 L1338.95,350.48 L1343.08,350.85 L1347.21,351.18 L1351.34,351.49 L1355.46,351.77 L1359.59,352.03 L1363.72,352.26 L1367.85,352.48 L1371.98,352.68 L1376.11,352.86 L1380.24,353.03 L1384.36,353.19 L1388.49,353.34 L1392.62,353.47 L1396.75,353.6 L1400.88,353.72 L1405.01,353.83 L1409.13,353.93 L1413.26,354.02 L1417.39,354.11 L1421.52,354.19 L1425.65,354.27 L1429.78,354.34 L1433.9,354.41 L1438.03,354.47 L1442.16,354.53 L1446.29,354.59 L1450.42,354.64 L1454.55,354.69 L1458.67,354.73 L1462.8,354.77 L1466.93,354.81 L1471.06,354.85 L1475.19,354.88 L1479.32,354.92 L1483.44,354.95 L1487.57,354.97 L1491.7,355 L1491.7,600 L1487.57,595.59 L1483.44,591.18 L1479.32,586.77 L1475.19,582.37 L1471.06,577.97 L1466.93,573.57 L1462.8,569.17 L1458.67,564.77 L1454.55,560.38 L1450.42,555.99 L1446.29,551.61 L1442.16,547.23 L1438.03,542.85 L1433.9,538.48 L1429.78,534.11 L1425.65,529.74 L1421.52,525.38 L1417.39,521.03 L1413.26,516.68 L1409.13,512.34 L1405.01,508 L1400.88,503.68 L1396.75,499.36 L1392.62,495.05 L1388.49,490.75 L1384.36,486.45 L1380.24,482.18 L1376.11,477.91 L1371.98,473.66 L1367.85,469.42 L1363.72,465.2 L1359.59,461 L1355.46,456.82 L1351.34,452.66 L1347.21,448.53 L1343.08,444.43 L1338.95,440.36 L1334.82,436.34 L1330.69,432.35 L1326.57,428.41 L1322.44,424.52 L1318.31,420.7 L1314.18,416.95 L1310.05,413.28 L1305.92,409.7 L1301.8,406.23 L1297.67,402.87 L1293.54,399.64 L1289.41,396.56 L1285.28,393.64 L1281.15,390.89 L1277.03,388.32 L1272.9,385.94 L1268.77,383.75 L1264.64,381.76 L1260.51,379.95 L1256.38,378.33 L1252.26,376.87 L1248.13,375.56 L1244,374.4Z" fill="#2E9EDE" fill-opacity="0.15"/>
<line x1="1244" y1="344.4" x2="1491.7" y2="477.5" stroke="#2E9EDE" stroke-width="5.2"/>
</g>
<text x="1249.9" y="132.5" font-size="32" font-style="italic" fill="#000">Adj.R = -0.3</text>
<text x="1249.9" y="179" font-size="32" font-style="italic" fill="#000">Adj.p = 0.13</text>
<rect x="1232.48" y="96.8" width="271.9" height="537.2" fill="none" stroke="#555555" stroke-width="2.1"/>
<rect x="1232.48" y="42.15" width="271.9" height="53.65" fill="#D9D9D9" stroke="#555555" stroke-width="2.1"/>
<text transform="translate(1368.43,81.75) scale(0.926,1)" font-size="36.5" font-weight="bold" fill="#1A1A1A" text-anchor="middle">IGF1</text>
<line x1="1244" x2="1244" y1="634" y2="641.5" stroke="#262626" stroke-width="2.6"/>
<text x="1244" y="662.2" font-size="22" fill="#4D4D4D" text-anchor="middle">0.0</text>
<line x1="1326.2" x2="1326.2" y1="634" y2="641.5" stroke="#262626" stroke-width="2.6"/>
<text x="1326.2" y="662.2" font-size="22" fill="#4D4D4D" text-anchor="middle">0.5</text>
<line x1="1408.4" x2="1408.4" y1="634" y2="641.5" stroke="#262626" stroke-width="2.6"/>
<text x="1408.4" y="662.2" font-size="22" fill="#4D4D4D" text-anchor="middle">1.0</text>
<line x1="1490.6" x2="1490.6" y1="634" y2="641.5" stroke="#262626" stroke-width="2.6"/>
<text x="1490.6" y="662.2" font-size="22" fill="#4D4D4D" text-anchor="middle">1.5</text>
<clipPath id="cA5"><rect x="1519.35" y="96.8" width="271.9" height="537.2"/></clipPath>
<rect x="1519.35" y="96.8" width="271.9" height="537.2" fill="#fff"/>
<g clip-path="url(#cA5)">
<line x1="1519.35" x2="1791.25" y1="205.38" y2="205.38" stroke="#EBEBEB" stroke-width="2.6"/>
<line x1="1519.35" x2="1791.25" y1="328.54" y2="328.54" stroke="#EBEBEB" stroke-width="2.6"/>
<line x1="1519.35" x2="1791.25" y1="451.7" y2="451.7" stroke="#EBEBEB" stroke-width="2.6"/>
<line x1="1519.35" x2="1791.25" y1="574.86" y2="574.86" stroke="#EBEBEB" stroke-width="2.6"/>
<line x1="1520.4" x2="1520.4" y1="96.8" y2="634" stroke="#EBEBEB" stroke-width="2.6"/>
<line x1="1582.05" x2="1582.05" y1="96.8" y2="634" stroke="#EBEBEB" stroke-width="2.6"/>
<line x1="1643.7" x2="1643.7" y1="96.8" y2="634" stroke="#EBEBEB" stroke-width="2.6"/>
<line x1="1705.35" x2="1705.35" y1="96.8" y2="634" stroke="#EBEBEB" stroke-width="2.6"/>
<line x1="1767" x2="1767" y1="96.8" y2="634" stroke="#EBEBEB" stroke-width="2.6"/>
<circle cx="1568.5" cy="254.64" r="7.1" fill="#E41A1C" fill-opacity="0.8"/><circle cx="1568.5" cy="254.64" r="6.25" fill="none" stroke="#E41A1C" stroke-opacity="0.8" stroke-width="1.7"/>
<circle cx="1650.3" cy="248.49" r="7.1" fill="#E41A1C" fill-opacity="0.8"/><circle cx="1650.3" cy="248.49" r="6.25" fill="none" stroke="#E41A1C" stroke-opacity="0.8" stroke-width="1.7"/>
<circle cx="1620.6" cy="260.8" r="7.1" fill="#E41A1C" fill-opacity="0.8"/><circle cx="1620.6" cy="260.8" r="6.25" fill="none" stroke="#E41A1C" stroke-opacity="0.8" stroke-width="1.7"/>
<circle cx="1692.5" cy="260.8" r="7.1" fill="#E41A1C" fill-opacity="0.8"/><circle cx="1692.5" cy="260.8" r="6.25" fill="none" stroke="#E41A1C" stroke-opacity="0.8" stroke-width="1.7"/>
<circle cx="1621.9" cy="273.12" r="7.1" fill="#E41A1C" fill-opacity="0.8"/><circle cx="1621.9" cy="273.12" r="6.25" fill="none" stroke="#E41A1C" stroke-opacity="0.8" stroke-width="1.7"/>
<circle cx="1616.8" cy="279.28" r="7.1" fill="#E41A1C" fill-opacity="0.8"/><circle cx="1616.8" cy="279.28" r="6.25" fill="none" stroke="#E41A1C" stroke-opacity="0.8" stroke-width="1.7"/>
<circle cx="1601.5" cy="285.43" r="7.1" fill="#E41A1C" fill-opacity="0.8"/><circle cx="1601.5" cy="285.43" r="6.25" fill="none" stroke="#E41A1C" stroke-opacity="0.8" stroke-width="1.7"/>
<circle cx="1778.8" cy="266.96" r="7.1" fill="#E41A1C" fill-opacity="0.8"/><circle cx="1778.8" cy="266.96" r="6.25" fill="none" stroke="#E41A1C" stroke-opacity="0.8" stroke-width="1.7"/>
<circle cx="1621.9" cy="291.59" r="7.1" fill="#E41A1C" fill-opacity="0.8"/><circle cx="1621.9" cy="291.59" r="6.25" fill="none" stroke="#E41A1C" stroke-opacity="0.8" stroke-width="1.7"/>
<circle cx="1596" cy="303.91" r="7.1" fill="#E41A1C" fill-opacity="0.8"/><circle cx="1596" cy="303.91" r="6.25" fill="none" stroke="#E41A1C" stroke-opacity="0.8" stroke-width="1.7"/>
<circle cx="1634.6" cy="310.07" r="7.1" fill="#E41A1C" fill-opacity="0.8"/><circle cx="1634.6" cy="310.07" r="6.25" fill="none" stroke="#E41A1C" stroke-opacity="0.8" stroke-width="1.7"/>
<circle cx="1702.6" cy="297.75" r="7.1" fill="#E41A1C" fill-opacity="0.8"/><circle cx="1702.6" cy="297.75" r="6.25" fill="none" stroke="#E41A1C" stroke-opacity="0.8" stroke-width="1.7"/>
<circle cx="1613.7" cy="316.22" r="7.1" fill="#E41A1C" fill-opacity="0.8"/><circle cx="1613.7" cy="316.22" r="6.25" fill="none" stroke="#E41A1C" stroke-opacity="0.8" stroke-width="1.7"/>
<circle cx="1669.6" cy="322.38" r="7.1" fill="#E41A1C" fill-opacity="0.8"/><circle cx="1669.6" cy="322.38" r="6.25" fill="none" stroke="#E41A1C" stroke-opacity="0.8" stroke-width="1.7"/>
<circle cx="1610.4" cy="334.7" r="7.1" fill="#E41A1C" fill-opacity="0.8"/><circle cx="1610.4" cy="334.7" r="6.25" fill="none" stroke="#E41A1C" stroke-opacity="0.8" stroke-width="1.7"/>
<circle cx="1544.4" cy="414.75" r="7.1" fill="#377EB8" fill-opacity="0.8"/><circle cx="1544.4" cy="414.75" r="6.25" fill="none" stroke="#377EB8" stroke-opacity="0.8" stroke-width="1.7"/>
<circle cx="1571.1" cy="414.75" r="7.1" fill="#377EB8" fill-opacity="0.8"/><circle cx="1571.1" cy="414.75" r="6.25" fill="none" stroke="#377EB8" stroke-opacity="0.8" stroke-width="1.7"/>
<circle cx="1592.7" cy="420.91" r="7.1" fill="#377EB8" fill-opacity="0.8"/><circle cx="1592.7" cy="420.91" r="6.25" fill="none" stroke="#377EB8" stroke-opacity="0.8" stroke-width="1.7"/>
<circle cx="1548.2" cy="427.07" r="7.1" fill="#377EB8" fill-opacity="0.8"/><circle cx="1548.2" cy="427.07" r="6.25" fill="none" stroke="#377EB8" stroke-opacity="0.8" stroke-width="1.7"/>
<circle cx="1539.3" cy="427.07" r="7.1" fill="#377EB8" fill-opacity="0.8"/><circle cx="1539.3" cy="427.07" r="6.25" fill="none" stroke="#377EB8" stroke-opacity="0.8" stroke-width="1.7"/>
<circle cx="1587.6" cy="427.07" r="7.1" fill="#377EB8" fill-opacity="0.8"/><circle cx="1587.6" cy="427.07" r="6.25" fill="none" stroke="#377EB8" stroke-opacity="0.8" stroke-width="1.7"/>
<circle cx="1544.4" cy="420.91" r="7.1" fill="#377EB8" fill-opacity="0.8"/><circle cx="1544.4" cy="420.91" r="6.25" fill="none" stroke="#377EB8" stroke-opacity="0.8" stroke-width="1.7"/>
<circle cx="1543.1" cy="433.23" r="7.1" fill="#377EB8" fill-opacity="0.8"/><circle cx="1543.1" cy="433.23" r="6.25" fill="none" stroke="#377EB8" stroke-opacity="0.8" stroke-width="1.7"/>
<circle cx="1577.9" cy="433.23" r="7.1" fill="#377EB8" fill-opacity="0.8"/><circle cx="1577.9" cy="433.23" r="6.25" fill="none" stroke="#377EB8" stroke-opacity="0.8" stroke-width="1.7"/>
<circle cx="1535.5" cy="439.38" r="7.1" fill="#377EB8" fill-opacity="0.8"/><circle cx="1535.5" cy="439.38" r="6.25" fill="none" stroke="#377EB8" stroke-opacity="0.8" stroke-width="1.7"/>
<circle cx="1583" cy="439.38" r="7.1" fill="#377EB8" fill-opacity="0.8"/><circle cx="1583" cy="439.38" r="6.25" fill="none" stroke="#377EB8" stroke-opacity="0.8" stroke-width="1.7"/>
<circle cx="1530.4" cy="445.54" r="7.1" fill="#377EB8" fill-opacity="0.8"/><circle cx="1530.4" cy="445.54" r="6.25" fill="none" stroke="#377EB8" stroke-opacity="0.8" stroke-width="1.7"/>
<circle cx="1541.3" cy="445.54" r="7.1" fill="#377EB8" fill-opacity="0.8"/><circle cx="1541.3" cy="445.54" r="6.25" fill="none" stroke="#377EB8" stroke-opacity="0.8" stroke-width="1.7"/>
<circle cx="1550.7" cy="445.54" r="7.1" fill="#377EB8" fill-opacity="0.8"/><circle cx="1550.7" cy="445.54" r="6.25" fill="none" stroke="#377EB8" stroke-opacity="0.8" stroke-width="1.7"/>
<circle cx="1602.8" cy="451.7" r="7.1" fill="#377EB8" fill-opacity="0.8"/><circle cx="1602.8" cy="451.7" r="6.25" fill="none" stroke="#377EB8" stroke-opacity="0.8" stroke-width="1.7"/>
<path d="M1531.2,392.2 L1535.33,388.98 L1539.45,385.72 L1543.58,382.42 L1547.71,379.06 L1551.83,375.65 L1555.96,372.18 L1560.09,368.66 L1564.21,365.08 L1568.34,361.44 L1572.47,357.73 L1576.59,353.96 L1580.72,350.12 L1584.85,346.22 L1588.97,342.25 L1593.1,338.21 L1597.23,334.12 L1601.35,329.96 L1605.48,325.74 L1609.61,321.46 L1613.73,317.13 L1617.86,312.74 L1621.99,308.3 L1626.11,303.81 L1630.24,299.28 L1634.37,294.71 L1638.49,290.09 L1642.62,285.44 L1646.75,280.76 L1650.87,276.04 L1655,271.29 L1659.13,266.52 L1663.25,261.72 L1667.38,256.89 L1671.51,252.05 L1675.63,247.18 L1679.76,242.29 L1683.89,237.38 L1688.01,232.46 L1692.14,227.53 L1696.27,222.57 L1700.39,217.61 L1704.52,212.63 L1708.65,207.64 L1712.77,202.64 L1716.9,197.63 L1721.03,192.61 L1725.15,187.58 L1729.28,182.54 L1733.41,177.5 L1737.53,172.45 L1741.66,167.39 L1745.79,162.32 L1749.91,157.25 L1754.04,152.17 L1758.17,147.09 L1762.29,142 L1766.42,136.91 L1770.55,131.81 L1774.67,126.71 L1778.8,121.6 L1778.8,260 L1774.67,262.66 L1770.55,265.32 L1766.42,267.98 L1762.29,270.65 L1758.17,273.33 L1754.04,276.01 L1749.91,278.69 L1745.79,281.38 L1741.66,284.08 L1737.53,286.79 L1733.41,289.5 L1729.28,292.22 L1725.15,294.94 L1721.03,297.68 L1716.9,300.42 L1712.77,303.17 L1708.65,305.93 L1704.52,308.71 L1700.39,311.49 L1696.27,314.29 L1692.14,317.1 L1688.01,319.93 L1683.89,322.77 L1679.76,325.63 L1675.63,328.51 L1671.51,331.4 L1667.38,334.32 L1663.25,337.26 L1659.13,340.22 L1655,343.21 L1650.87,346.22 L1646.75,349.27 L1642.62,352.35 L1638.49,355.46 L1634.37,358.61 L1630.24,361.8 L1626.11,365.03 L1621.99,368.31 L1617.86,371.63 L1613.73,375.01 L1609.61,378.44 L1605.48,381.92 L1601.35,385.47 L1597.23,389.07 L1593.1,392.74 L1588.97,396.47 L1584.85,400.26 L1580.72,404.12 L1576.59,408.05 L1572.47,412.04 L1568.34,416.09 L1564.21,420.21 L1560.09,424.4 L1555.96,428.64 L1551.83,432.94 L1547.71,437.29 L1543.58,441.69 L1539.45,446.15 L1535.33,450.65 L1531.2,455.2Z" fill="#2E9EDE" fill-opacity="0.15"/>
<line x1="1531.2" y1="423.7" x2="1778.8" y2="190.8" stroke="#2E9EDE" stroke-width="5.2"/>
</g>
<text x="1536.1" y="132.5" font-size="32" font-style="italic" fill="#000">Adj.R = 0.7</text>
<text x="1541.8" y="179" font-size="32" font-style="italic" fill="#000">Adj.p = 3.1e-05</text>
<rect x="1519.35" y="96.8" width="271.9" height="537.2" fill="none" stroke="#555555" stroke-width="2.1"/>
<rect x="1519.35" y="42.15" width="271.9" height="53.65" fill="#D9D9D9" stroke="#555555" stroke-width="2.1"/>
<text transform="translate(1655.3,81.75) scale(0.926,1)" font-size="36.5" font-weight="bold" fill="#1A1A1A" text-anchor="middle">IL6</text>
<line x1="1520.4" x2="1520.4" y1="634" y2="641.5" stroke="#262626" stroke-width="2.6"/>
<text x="1520.4" y="662.2" font-size="22" fill="#4D4D4D" text-anchor="middle">0.0</text>
<line x1="1582.05" x2="1582.05" y1="634" y2="641.5" stroke="#262626" stroke-width="2.6"/>
<text x="1582.05" y="662.2" font-size="22" fill="#4D4D4D" text-anchor="middle">2.5</text>
<line x1="1643.7" x2="1643.7" y1="634" y2="641.5" stroke="#262626" stroke-width="2.6"/>
<text x="1643.7" y="662.2" font-size="22" fill="#4D4D4D" text-anchor="middle">5.0</text>
<line x1="1705.35" x2="1705.35" y1="634" y2="641.5" stroke="#262626" stroke-width="2.6"/>
<text x="1705.35" y="662.2" font-size="22" fill="#4D4D4D" text-anchor="middle">7.5</text>
<line x1="1767" x2="1767" y1="634" y2="641.5" stroke="#262626" stroke-width="2.6"/>
<text x="1767" y="662.2" font-size="22" fill="#4D4D4D" text-anchor="middle">10.0</text>
<clipPath id="cA6"><rect x="1806.22" y="96.8" width="271.9" height="537.2"/></clipPath>
<rect x="1806.22" y="96.8" width="271.9" height="537.2" fill="#fff"/>
<g clip-path="url(#cA6)">
<line x1="1806.22" x2="2078.12" y1="205.38" y2="205.38" stroke="#EBEBEB" stroke-width="2.6"/>
<line x1="1806.22" x2="2078.12" y1="328.54" y2="328.54" stroke="#EBEBEB" stroke-width="2.6"/>
<line x1="1806.22" x2="2078.12" y1="451.7" y2="451.7" stroke="#EBEBEB" stroke-width="2.6"/>
<line x1="1806.22" x2="2078.12" y1="574.86" y2="574.86" stroke="#EBEBEB" stroke-width="2.6"/>
<line x1="1814.2" x2="1814.2" y1="96.8" y2="634" stroke="#EBEBEB" stroke-width="2.6"/>
<line x1="1868.25" x2="1868.25" y1="96.8" y2="634" stroke="#EBEBEB" stroke-width="2.6"/>
<line x1="1922.3" x2="1922.3" y1="96.8" y2="634" stroke="#EBEBEB" stroke-width="2.6"/>
<line x1="1976.35" x2="1976.35" y1="96.8" y2="634" stroke="#EBEBEB" stroke-width="2.6"/>
<line x1="2030.4" x2="2030.4" y1="96.8" y2="634" stroke="#EBEBEB" stroke-width="2.6"/>
<circle cx="1823.3" cy="248.49" r="7.1" fill="#E41A1C" fill-opacity="0.8"/><circle cx="1823.3" cy="248.49" r="6.25" fill="none" stroke="#E41A1C" stroke-opacity="0.8" stroke-width="1.7"/>
<circle cx="1820" cy="254.64" r="7.1" fill="#E41A1C" fill-opacity="0.8"/><circle cx="1820" cy="254.64" r="6.25" fill="none" stroke="#E41A1C" stroke-opacity="0.8" stroke-width="1.7"/>
<circle cx="1817.8" cy="260.8" r="7.1" fill="#E41A1C" fill-opacity="0.8"/><circle cx="1817.8" cy="260.8" r="6.25" fill="none" stroke="#E41A1C" stroke-opacity="0.8" stroke-width="1.7"/>
<circle cx="1835" cy="260.8" r="7.1" fill="#E41A1C" fill-opacity="0.8"/><circle cx="1835" cy="260.8" r="6.25" fill="none" stroke="#E41A1C" stroke-opacity="0.8" stroke-width="1.7"/>
<circle cx="1820" cy="266.96" r="7.1" fill="#E41A1C" fill-opacity="0.8"/><circle cx="1820" cy="266.96" r="6.25" fill="none" stroke="#E41A1C" stroke-opacity="0.8" stroke-width="1.7"/>
<circle cx="1826.1" cy="273.12" r="7.1" fill="#E41A1C" fill-opacity="0.8"/><circle cx="1826.1" cy="273.12" r="6.25" fill="none" stroke="#E41A1C" stroke-opacity="0.8" stroke-width="1.7"/>
<circle cx="1841.8" cy="279.28" r="7.1" fill="#E41A1C" fill-opacity="0.8"/><circle cx="1841.8" cy="279.28" r="6.25" fill="none" stroke="#E41A1C" stroke-opacity="0.8" stroke-width="1.7"/>
<circle cx="1836.5" cy="285.43" r="7.1" fill="#E41A1C" fill-opacity="0.8"/><circle cx="1836.5" cy="285.43" r="6.25" fill="none" stroke="#E41A1C" stroke-opacity="0.8" stroke-width="1.7"/>
<circle cx="1823.8" cy="291.59" r="7.1" fill="#E41A1C" fill-opacity="0.8"/><circle cx="1823.8" cy="291.59" r="6.25" fill="none" stroke="#E41A1C" stroke-opacity="0.8" stroke-width="1.7"/>
<circle cx="1828" cy="297.75" r="7.1" fill="#E41A1C" fill-opacity="0.8"/><circle cx="1828" cy="297.75" r="6.25" fill="none" stroke="#E41A1C" stroke-opacity="0.8" stroke-width="1.7"/>
<circle cx="1822.1" cy="303.91" r="7.1" fill="#E41A1C" fill-opacity="0.8"/><circle cx="1822.1" cy="303.91" r="6.25" fill="none" stroke="#E41A1C" stroke-opacity="0.8" stroke-width="1.7"/>
<circle cx="1823.8" cy="310.07" r="7.1" fill="#E41A1C" fill-opacity="0.8"/><circle cx="1823.8" cy="310.07" r="6.25" fill="none" stroke="#E41A1C" stroke-opacity="0.8" stroke-width="1.7"/>
<circle cx="1828.4" cy="316.22" r="7.1" fill="#E41A1C" fill-opacity="0.8"/><circle cx="1828.4" cy="316.22" r="6.25" fill="none" stroke="#E41A1C" stroke-opacity="0.8" stroke-width="1.7"/>
<circle cx="1835.2" cy="322.38" r="7.1" fill="#E41A1C" fill-opacity="0.8"/><circle cx="1835.2" cy="322.38" r="6.25" fill="none" stroke="#E41A1C" stroke-opacity="0.8" stroke-width="1.7"/>
<circle cx="1824.2" cy="334.7" r="7.1" fill="#E41A1C" fill-opacity="0.8"/><circle cx="1824.2" cy="334.7" r="6.25" fill="none" stroke="#E41A1C" stroke-opacity="0.8" stroke-width="1.7"/>
<circle cx="1817.7" cy="427.07" r="7.1" fill="#377EB8" fill-opacity="0.8"/><circle cx="1817.7" cy="427.07" r="6.25" fill="none" stroke="#377EB8" stroke-opacity="0.8" stroke-width="1.7"/>
<circle cx="1833.5" cy="414.75" r="7.1" fill="#377EB8" fill-opacity="0.8"/><circle cx="1833.5" cy="414.75" r="6.25" fill="none" stroke="#377EB8" stroke-opacity="0.8" stroke-width="1.7"/>
<circle cx="1831.3" cy="420.91" r="7.1" fill="#377EB8" fill-opacity="0.8"/><circle cx="1831.3" cy="420.91" r="6.25" fill="none" stroke="#377EB8" stroke-opacity="0.8" stroke-width="1.7"/>
<circle cx="1833.1" cy="427.07" r="7.1" fill="#377EB8" fill-opacity="0.8"/><circle cx="1833.1" cy="427.07" r="6.25" fill="none" stroke="#377EB8" stroke-opacity="0.8" stroke-width="1.7"/>
<circle cx="1827.4" cy="433.23" r="7.1" fill="#377EB8" fill-opacity="0.8"/><circle cx="1827.4" cy="433.23" r="6.25" fill="none" stroke="#377EB8" stroke-opacity="0.8" stroke-width="1.7"/>
<circle cx="1845.5" cy="433.23" r="7.1" fill="#377EB8" fill-opacity="0.8"/><circle cx="1845.5" cy="433.23" r="6.25" fill="none" stroke="#377EB8" stroke-opacity="0.8" stroke-width="1.7"/>
<circle cx="1846.6" cy="439.38" r="7.1" fill="#377EB8" fill-opacity="0.8"/><circle cx="1846.6" cy="439.38" r="6.25" fill="none" stroke="#377EB8" stroke-opacity="0.8" stroke-width="1.7"/>
<circle cx="1830.4" cy="439.38" r="7.1" fill="#377EB8" fill-opacity="0.8"/><circle cx="1830.4" cy="439.38" r="6.25" fill="none" stroke="#377EB8" stroke-opacity="0.8" stroke-width="1.7"/>
<circle cx="1825.2" cy="445.54" r="7.1" fill="#377EB8" fill-opacity="0.8"/><circle cx="1825.2" cy="445.54" r="6.25" fill="none" stroke="#377EB8" stroke-opacity="0.8" stroke-width="1.7"/>
<circle cx="1835.8" cy="445.54" r="7.1" fill="#377EB8" fill-opacity="0.8"/><circle cx="1835.8" cy="445.54" r="6.25" fill="none" stroke="#377EB8" stroke-opacity="0.8" stroke-width="1.7"/>
<circle cx="1871.9" cy="414.75" r="7.1" fill="#377EB8" fill-opacity="0.8"/><circle cx="1871.9" cy="414.75" r="6.25" fill="none" stroke="#377EB8" stroke-opacity="0.8" stroke-width="1.7"/>
<circle cx="1880.5" cy="420.91" r="7.1" fill="#377EB8" fill-opacity="0.8"/><circle cx="1880.5" cy="420.91" r="6.25" fill="none" stroke="#377EB8" stroke-opacity="0.8" stroke-width="1.7"/>
<circle cx="1996.1" cy="451.7" r="7.1" fill="#377EB8" fill-opacity="0.8"/><circle cx="1996.1" cy="451.7" r="6.25" fill="none" stroke="#377EB8" stroke-opacity="0.8" stroke-width="1.7"/>
<circle cx="2066" cy="445.54" r="7.1" fill="#377EB8" fill-opacity="0.8"/><circle cx="2066" cy="445.54" r="6.25" fill="none" stroke="#377EB8" stroke-opacity="0.8" stroke-width="1.7"/>
<path d="M1818.4,313.5 L1822.53,316.62 L1826.65,319.61 L1830.78,322.47 L1834.91,325.18 L1839.03,327.74 L1843.16,330.16 L1847.29,332.42 L1851.41,334.53 L1855.54,336.5 L1859.67,338.32 L1863.79,340.01 L1867.92,341.58 L1872.05,343.03 L1876.17,344.37 L1880.3,345.62 L1884.43,346.79 L1888.55,347.87 L1892.68,348.88 L1896.81,349.84 L1900.93,350.73 L1905.06,351.57 L1909.19,352.37 L1913.31,353.13 L1917.44,353.85 L1921.57,354.54 L1925.69,355.2 L1929.82,355.84 L1933.95,356.45 L1938.07,357.03 L1942.2,357.6 L1946.33,358.15 L1950.45,358.68 L1954.58,359.2 L1958.71,359.71 L1962.83,360.2 L1966.96,360.68 L1971.09,361.15 L1975.21,361.61 L1979.34,362.07 L1983.47,362.51 L1987.59,362.95 L1991.72,363.38 L1995.85,363.8 L1999.97,364.22 L2004.1,364.63 L2008.23,365.03 L2012.35,365.43 L2016.48,365.83 L2020.61,366.22 L2024.73,366.61 L2028.86,366.99 L2032.99,367.37 L2037.11,367.75 L2041.24,368.12 L2045.37,368.49 L2049.49,368.86 L2053.62,369.22 L2057.75,369.58 L2061.87,369.94 L2066,370.3 L2066,600.9 L2061.87,596.54 L2057.75,592.18 L2053.62,587.82 L2049.49,583.46 L2045.37,579.11 L2041.24,574.76 L2037.11,570.41 L2032.99,566.07 L2028.86,561.73 L2024.73,557.39 L2020.61,553.06 L2016.48,548.73 L2012.35,544.41 L2008.23,540.09 L2004.1,535.77 L1999.97,531.46 L1995.85,527.16 L1991.72,522.86 L1987.59,518.57 L1983.47,514.29 L1979.34,510.01 L1975.21,505.75 L1971.09,501.49 L1966.96,497.24 L1962.83,493 L1958.71,488.77 L1954.58,484.56 L1950.45,480.36 L1946.33,476.17 L1942.2,472 L1938.07,467.85 L1933.95,463.71 L1929.82,459.6 L1925.69,455.52 L1921.57,451.46 L1917.44,447.43 L1913.31,443.43 L1909.19,439.47 L1905.06,435.55 L1900.93,431.67 L1896.81,427.84 L1892.68,424.08 L1888.55,420.37 L1884.43,416.73 L1880.3,413.18 L1876.17,409.71 L1872.05,406.33 L1867.92,403.06 L1863.79,399.91 L1859.67,396.88 L1855.54,393.98 L1851.41,391.23 L1847.29,388.62 L1843.16,386.16 L1839.03,383.86 L1834.91,381.7 L1830.78,379.69 L1826.65,377.83 L1822.53,376.1 L1818.4,374.5Z" fill="#2E9EDE" fill-opacity="0.15"/>
<line x1="1818.4" y1="344" x2="2066" y2="485.6" stroke="#2E9EDE" stroke-width="5.2"/>
</g>
<text x="1825.6" y="132.5" font-size="32" font-style="italic" fill="#000">Adj.R = -0.52</text>
<text x="1826.8" y="179" font-size="32" font-style="italic" fill="#000">Adj.p = 0.0047</text>
<rect x="1806.22" y="96.8" width="271.9" height="537.2" fill="none" stroke="#555555" stroke-width="2.1"/>
<rect x="1806.22" y="42.15" width="271.9" height="53.65" fill="#D9D9D9" stroke="#555555" stroke-width="2.1"/>
<text transform="translate(1942.17,81.75) scale(0.926,1)" font-size="36.5" font-weight="bold" fill="#1A1A1A" text-anchor="middle">MMP9</text>
<line x1="1814.2" x2="1814.2" y1="634" y2="641.5" stroke="#262626" stroke-width="2.6"/>
<text x="1814.2" y="662.2" font-size="22" fill="#4D4D4D" text-anchor="middle">0</text>
<line x1="1868.25" x2="1868.25" y1="634" y2="641.5" stroke="#262626" stroke-width="2.6"/>
<text x="1868.25" y="662.2" font-size="22" fill="#4D4D4D" text-anchor="middle">10</text>
<line x1="1922.3" x2="1922.3" y1="634" y2="641.5" stroke="#262626" stroke-width="2.6"/>
<text x="1922.3" y="662.2" font-size="22" fill="#4D4D4D" text-anchor="middle">20</text>
<line x1="1976.35" x2="1976.35" y1="634" y2="641.5" stroke="#262626" stroke-width="2.6"/>
<text x="1976.35" y="662.2" font-size="22" fill="#4D4D4D" text-anchor="middle">30</text>
<line x1="2030.4" x2="2030.4" y1="634" y2="641.5" stroke="#262626" stroke-width="2.6"/>
<text x="2030.4" y="662.2" font-size="22" fill="#4D4D4D" text-anchor="middle">40</text>
<clipPath id="cA7"><rect x="2093.09" y="96.8" width="271.9" height="537.2"/></clipPath>
<rect x="2093.09" y="96.8" width="271.9" height="537.2" fill="#fff"/>
<g clip-path="url(#cA7)">
<line x1="2093.09" x2="2364.99" y1="205.38" y2="205.38" stroke="#EBEBEB" stroke-width="2.6"/>
<line x1="2093.09" x2="2364.99" y1="328.54" y2="328.54" stroke="#EBEBEB" stroke-width="2.6"/>
<line x1="2093.09" x2="2364.99" y1="451.7" y2="451.7" stroke="#EBEBEB" stroke-width="2.6"/>
<line x1="2093.09" x2="2364.99" y1="574.86" y2="574.86" stroke="#EBEBEB" stroke-width="2.6"/>
<line x1="2104.4" x2="2104.4" y1="96.8" y2="634" stroke="#EBEBEB" stroke-width="2.6"/>
<line x1="2200.5" x2="2200.5" y1="96.8" y2="634" stroke="#EBEBEB" stroke-width="2.6"/>
<line x1="2296.6" x2="2296.6" y1="96.8" y2="634" stroke="#EBEBEB" stroke-width="2.6"/>
<circle cx="2119.8" cy="248.49" r="7.1" fill="#E41A1C" fill-opacity="0.8"/><circle cx="2119.8" cy="248.49" r="6.25" fill="none" stroke="#E41A1C" stroke-opacity="0.8" stroke-width="1.7"/>
<circle cx="2111.1" cy="260.8" r="7.1" fill="#E41A1C" fill-opacity="0.8"/><circle cx="2111.1" cy="260.8" r="6.25" fill="none" stroke="#E41A1C" stroke-opacity="0.8" stroke-width="1.7"/>
<circle cx="2125.6" cy="260.8" r="7.1" fill="#E41A1C" fill-opacity="0.8"/><circle cx="2125.6" cy="260.8" r="6.25" fill="none" stroke="#E41A1C" stroke-opacity="0.8" stroke-width="1.7"/>
<circle cx="2112.1" cy="266.96" r="7.1" fill="#E41A1C" fill-opacity="0.8"/><circle cx="2112.1" cy="266.96" r="6.25" fill="none" stroke="#E41A1C" stroke-opacity="0.8" stroke-width="1.7"/>
<circle cx="2121.6" cy="273.12" r="7.1" fill="#E41A1C" fill-opacity="0.8"/><circle cx="2121.6" cy="273.12" r="6.25" fill="none" stroke="#E41A1C" stroke-opacity="0.8" stroke-width="1.7"/>
<circle cx="2140.7" cy="285.43" r="7.1" fill="#E41A1C" fill-opacity="0.8"/><circle cx="2140.7" cy="285.43" r="6.25" fill="none" stroke="#E41A1C" stroke-opacity="0.8" stroke-width="1.7"/>
<circle cx="2104.6" cy="291.59" r="7.1" fill="#E41A1C" fill-opacity="0.8"/><circle cx="2104.6" cy="291.59" r="6.25" fill="none" stroke="#E41A1C" stroke-opacity="0.8" stroke-width="1.7"/>
<circle cx="2123.9" cy="297.75" r="7.1" fill="#E41A1C" fill-opacity="0.8"/><circle cx="2123.9" cy="297.75" r="6.25" fill="none" stroke="#E41A1C" stroke-opacity="0.8" stroke-width="1.7"/>
<circle cx="2121.4" cy="303.91" r="7.1" fill="#E41A1C" fill-opacity="0.8"/><circle cx="2121.4" cy="303.91" r="6.25" fill="none" stroke="#E41A1C" stroke-opacity="0.8" stroke-width="1.7"/>
<circle cx="2104.6" cy="322.38" r="7.1" fill="#E41A1C" fill-opacity="0.8"/><circle cx="2104.6" cy="322.38" r="6.25" fill="none" stroke="#E41A1C" stroke-opacity="0.8" stroke-width="1.7"/>
<circle cx="2112.1" cy="334.7" r="7.1" fill="#E41A1C" fill-opacity="0.8"/><circle cx="2112.1" cy="334.7" r="6.25" fill="none" stroke="#E41A1C" stroke-opacity="0.8" stroke-width="1.7"/>
<circle cx="2218.2" cy="279.28" r="7.1" fill="#E41A1C" fill-opacity="0.8"/><circle cx="2218.2" cy="279.28" r="6.25" fill="none" stroke="#E41A1C" stroke-opacity="0.8" stroke-width="1.7"/>
<circle cx="2183.7" cy="316.22" r="7.1" fill="#E41A1C" fill-opacity="0.8"/><circle cx="2183.7" cy="316.22" r="6.25" fill="none" stroke="#E41A1C" stroke-opacity="0.8" stroke-width="1.7"/>
<circle cx="2250.7" cy="310.07" r="7.1" fill="#E41A1C" fill-opacity="0.8"/><circle cx="2250.7" cy="310.07" r="6.25" fill="none" stroke="#E41A1C" stroke-opacity="0.8" stroke-width="1.7"/>
<circle cx="2352.4" cy="254.64" r="7.1" fill="#E41A1C" fill-opacity="0.8"/><circle cx="2352.4" cy="254.64" r="6.25" fill="none" stroke="#E41A1C" stroke-opacity="0.8" stroke-width="1.7"/>
<circle cx="2103.5" cy="414.75" r="7.1" fill="#377EB8" fill-opacity="0.8"/><circle cx="2103.5" cy="414.75" r="6.25" fill="none" stroke="#377EB8" stroke-opacity="0.8" stroke-width="1.7"/>
<circle cx="2109.3" cy="414.75" r="7.1" fill="#377EB8" fill-opacity="0.8"/><circle cx="2109.3" cy="414.75" r="6.25" fill="none" stroke="#377EB8" stroke-opacity="0.8" stroke-width="1.7"/>
<circle cx="2113.9" cy="420.91" r="7.1" fill="#377EB8" fill-opacity="0.8"/><circle cx="2113.9" cy="420.91" r="6.25" fill="none" stroke="#377EB8" stroke-opacity="0.8" stroke-width="1.7"/>
<circle cx="2102.3" cy="427.07" r="7.1" fill="#377EB8" fill-opacity="0.8"/><circle cx="2102.3" cy="427.07" r="6.25" fill="none" stroke="#377EB8" stroke-opacity="0.8" stroke-width="1.7"/>
<circle cx="2108.1" cy="427.07" r="7.1" fill="#377EB8" fill-opacity="0.8"/><circle cx="2108.1" cy="427.07" r="6.25" fill="none" stroke="#377EB8" stroke-opacity="0.8" stroke-width="1.7"/>
<circle cx="2111.6" cy="433.23" r="7.1" fill="#377EB8" fill-opacity="0.8"/><circle cx="2111.6" cy="433.23" r="6.25" fill="none" stroke="#377EB8" stroke-opacity="0.8" stroke-width="1.7"/>
<circle cx="2124.4" cy="433.23" r="7.1" fill="#377EB8" fill-opacity="0.8"/><circle cx="2124.4" cy="433.23" r="6.25" fill="none" stroke="#377EB8" stroke-opacity="0.8" stroke-width="1.7"/>
<circle cx="2107" cy="439.38" r="7.1" fill="#377EB8" fill-opacity="0.8"/><circle cx="2107" cy="439.38" r="6.25" fill="none" stroke="#377EB8" stroke-opacity="0.8" stroke-width="1.7"/>
<circle cx="2112.8" cy="439.38" r="7.1" fill="#377EB8" fill-opacity="0.8"/><circle cx="2112.8" cy="439.38" r="6.25" fill="none" stroke="#377EB8" stroke-opacity="0.8" stroke-width="1.7"/>
<circle cx="2115.1" cy="445.54" r="7.1" fill="#377EB8" fill-opacity="0.8"/><circle cx="2115.1" cy="445.54" r="6.25" fill="none" stroke="#377EB8" stroke-opacity="0.8" stroke-width="1.7"/>
<circle cx="2122.1" cy="445.54" r="7.1" fill="#377EB8" fill-opacity="0.8"/><circle cx="2122.1" cy="445.54" r="6.25" fill="none" stroke="#377EB8" stroke-opacity="0.8" stroke-width="1.7"/>
<circle cx="2157.7" cy="420.91" r="7.1" fill="#377EB8" fill-opacity="0.8"/><circle cx="2157.7" cy="420.91" r="6.25" fill="none" stroke="#377EB8" stroke-opacity="0.8" stroke-width="1.7"/>
<circle cx="2158.1" cy="445.54" r="7.1" fill="#377EB8" fill-opacity="0.8"/><circle cx="2158.1" cy="445.54" r="6.25" fill="none" stroke="#377EB8" stroke-opacity="0.8" stroke-width="1.7"/>
<circle cx="2162.8" cy="451.7" r="7.1" fill="#377EB8" fill-opacity="0.8"/><circle cx="2162.8" cy="451.7" r="6.25" fill="none" stroke="#377EB8" stroke-opacity="0.8" stroke-width="1.7"/>
<path d="M2104.6,341.8 L2108.73,340.94 L2112.86,339.97 L2116.99,338.87 L2121.12,337.63 L2125.25,336.23 L2129.38,334.69 L2133.51,332.98 L2137.64,331.11 L2141.77,329.07 L2145.9,326.87 L2150.03,324.51 L2154.16,322.01 L2158.29,319.36 L2162.42,316.59 L2166.55,313.7 L2170.68,310.71 L2174.81,307.61 L2178.94,304.43 L2183.07,301.18 L2187.2,297.85 L2191.33,294.46 L2195.46,291.02 L2199.59,287.53 L2203.72,283.99 L2207.85,280.42 L2211.98,276.81 L2216.11,273.17 L2220.24,269.5 L2224.37,265.81 L2228.5,262.1 L2232.63,258.36 L2236.76,254.6 L2240.89,250.83 L2245.02,247.05 L2249.15,243.25 L2253.28,239.43 L2257.41,235.61 L2261.54,231.77 L2265.67,227.93 L2269.8,224.07 L2273.93,220.21 L2278.06,216.34 L2282.19,212.46 L2286.32,208.57 L2290.45,204.68 L2294.58,200.79 L2298.71,196.88 L2302.84,192.98 L2306.97,189.07 L2311.1,185.15 L2315.23,181.23 L2319.36,177.31 L2323.49,173.38 L2327.62,169.45 L2331.75,165.51 L2335.88,161.58 L2340.01,157.64 L2344.14,153.69 L2348.27,149.75 L2352.4,145.8 L2352.4,377.2 L2348.27,377 L2344.14,376.79 L2340.01,376.59 L2335.88,376.4 L2331.75,376.2 L2327.62,376.01 L2323.49,375.83 L2319.36,375.64 L2315.23,375.46 L2311.1,375.28 L2306.97,375.11 L2302.84,374.94 L2298.71,374.78 L2294.58,374.62 L2290.45,374.47 L2286.32,374.32 L2282.19,374.18 L2278.06,374.04 L2273.93,373.92 L2269.8,373.8 L2265.67,373.68 L2261.54,373.58 L2257.41,373.49 L2253.28,373.41 L2249.15,373.34 L2245.02,373.28 L2240.89,373.24 L2236.76,373.21 L2232.63,373.2 L2228.5,373.2 L2224.37,373.23 L2220.24,373.28 L2216.11,373.36 L2211.98,373.46 L2207.85,373.6 L2203.72,373.77 L2199.59,373.98 L2195.46,374.23 L2191.33,374.53 L2187.2,374.88 L2183.07,375.3 L2178.94,375.79 L2174.81,376.35 L2170.68,377 L2166.55,377.75 L2162.42,378.6 L2158.29,379.57 L2154.16,380.67 L2150.03,381.91 L2145.9,383.3 L2141.77,384.84 L2137.64,386.55 L2133.51,388.42 L2129.38,390.45 L2125.25,392.65 L2121.12,395 L2116.99,397.5 L2112.86,400.14 L2108.73,402.91 L2104.6,405.8Z" fill="#2E9EDE" fill-opacity="0.15"/>
<line x1="2104.6" y1="373.8" x2="2352.4" y2="261.5" stroke="#2E9EDE" stroke-width="5.2"/>
</g>
<text x="2111" y="132.5" font-size="32" font-style="italic" fill="#000">Adj.R = 0.21</text>
<text x="2111" y="179" font-size="32" font-style="italic" fill="#000">Adj.p = 0.28</text>
<rect x="2093.09" y="96.8" width="271.9" height="537.2" fill="none" stroke="#555555" stroke-width="2.1"/>
<rect x="2093.09" y="42.15" width="271.9" height="53.65" fill="#D9D9D9" stroke="#555555" stroke-width="2.1"/>
<text transform="translate(2229.04,81.75) scale(0.926,1)" font-size="36.5" font-weight="bold" fill="#1A1A1A" text-anchor="middle">SLC4A1</text>
<line x1="2104.4" x2="2104.4" y1="634" y2="641.5" stroke="#262626" stroke-width="2.6"/>
<text x="2104.4" y="662.2" font-size="22" fill="#4D4D4D" text-anchor="middle">0</text>
<line x1="2200.5" x2="2200.5" y1="634" y2="641.5" stroke="#262626" stroke-width="2.6"/>
<text x="2200.5" y="662.2" font-size="22" fill="#4D4D4D" text-anchor="middle">10</text>
<line x1="2296.6" x2="2296.6" y1="634" y2="641.5" stroke="#262626" stroke-width="2.6"/>
<text x="2296.6" y="662.2" font-size="22" fill="#4D4D4D" text-anchor="middle">20</text>
<line x1="77.5" x2="85" y1="205.38" y2="205.38" stroke="#262626" stroke-width="2.6"/>
<text x="71" y="212.58" font-size="22" fill="#4D4D4D" text-anchor="end">40</text>
<line x1="77.5" x2="85" y1="328.54" y2="328.54" stroke="#262626" stroke-width="2.6"/>
<text x="71" y="335.74" font-size="22" fill="#4D4D4D" text-anchor="end">20</text>
<line x1="77.5" x2="85" y1="451.7" y2="451.7" stroke="#262626" stroke-width="2.6"/>
<text x="71" y="458.9" font-size="22" fill="#4D4D4D" text-anchor="end">0</text>
<line x1="77.5" x2="85" y1="574.86" y2="574.86" stroke="#262626" stroke-width="2.6"/>
<text x="71" y="582.06" font-size="22" fill="#4D4D4D" text-anchor="end">-20</text>
<clipPath id="cB0"><rect x="85" y="817.9" width="271.9" height="569.5"/></clipPath>
<rect x="85" y="817.9" width="271.9" height="569.5" fill="#fff"/>
<g clip-path="url(#cB0)">
<line x1="85" x2="356.9" y1="932.61" y2="932.61" stroke="#EBEBEB" stroke-width="2.6"/>
<line x1="85" x2="356.9" y1="1047.64" y2="1047.64" stroke="#EBEBEB" stroke-width="2.6"/>
<line x1="85" x2="356.9" y1="1162.67" y2="1162.67" stroke="#EBEBEB" stroke-width="2.6"/>
<line x1="85" x2="356.9" y1="1277.7" y2="1277.7" stroke="#EBEBEB" stroke-width="2.6"/>
<line x1="91.4" x2="91.4" y1="817.9" y2="1387.4" stroke="#EBEBEB" stroke-width="2.6"/>
<line x1="156.6" x2="156.6" y1="817.9" y2="1387.4" stroke="#EBEBEB" stroke-width="2.6"/>
<line x1="221.8" x2="221.8" y1="817.9" y2="1387.4" stroke="#EBEBEB" stroke-width="2.6"/>
<line x1="287" x2="287" y1="817.9" y2="1387.4" stroke="#EBEBEB" stroke-width="2.6"/>
<line x1="352.2" x2="352.2" y1="817.9" y2="1387.4" stroke="#EBEBEB" stroke-width="2.6"/>
<circle cx="157.9" cy="898.1" r="7.1" fill="#E41A1C" fill-opacity="0.8"/><circle cx="157.9" cy="898.1" r="6.25" fill="none" stroke="#E41A1C" stroke-opacity="0.8" stroke-width="1.7"/>
<circle cx="136.2" cy="909.6" r="7.1" fill="#E41A1C" fill-opacity="0.8"/><circle cx="136.2" cy="909.6" r="6.25" fill="none" stroke="#E41A1C" stroke-opacity="0.8" stroke-width="1.7"/>
<circle cx="99" cy="921.11" r="7.1" fill="#E41A1C" fill-opacity="0.8"/><circle cx="99" cy="921.11" r="6.25" fill="none" stroke="#E41A1C" stroke-opacity="0.8" stroke-width="1.7"/>
<circle cx="136.8" cy="921.11" r="7.1" fill="#E41A1C" fill-opacity="0.8"/><circle cx="136.8" cy="921.11" r="6.25" fill="none" stroke="#E41A1C" stroke-opacity="0.8" stroke-width="1.7"/>
<circle cx="205" cy="932.61" r="7.1" fill="#E41A1C" fill-opacity="0.8"/><circle cx="205" cy="932.61" r="6.25" fill="none" stroke="#E41A1C" stroke-opacity="0.8" stroke-width="1.7"/>
<circle cx="148.6" cy="944.11" r="7.1" fill="#E41A1C" fill-opacity="0.8"/><circle cx="148.6" cy="944.11" r="6.25" fill="none" stroke="#E41A1C" stroke-opacity="0.8" stroke-width="1.7"/>
<circle cx="96.5" cy="955.62" r="7.1" fill="#E41A1C" fill-opacity="0.8"/><circle cx="96.5" cy="955.62" r="6.25" fill="none" stroke="#E41A1C" stroke-opacity="0.8" stroke-width="1.7"/>
<circle cx="141.5" cy="967.12" r="7.1" fill="#E41A1C" fill-opacity="0.8"/><circle cx="141.5" cy="967.12" r="6.25" fill="none" stroke="#E41A1C" stroke-opacity="0.8" stroke-width="1.7"/>
<circle cx="167.8" cy="978.62" r="7.1" fill="#E41A1C" fill-opacity="0.8"/><circle cx="167.8" cy="978.62" r="6.25" fill="none" stroke="#E41A1C" stroke-opacity="0.8" stroke-width="1.7"/>
<circle cx="177.1" cy="990.12" r="7.1" fill="#E41A1C" fill-opacity="0.8"/><circle cx="177.1" cy="990.12" r="6.25" fill="none" stroke="#E41A1C" stroke-opacity="0.8" stroke-width="1.7"/>
<circle cx="181.2" cy="1001.63" r="7.1" fill="#E41A1C" fill-opacity="0.8"/><circle cx="181.2" cy="1001.63" r="6.25" fill="none" stroke="#E41A1C" stroke-opacity="0.8" stroke-width="1.7"/>
<circle cx="117.6" cy="1013.13" r="7.1" fill="#E41A1C" fill-opacity="0.8"/><circle cx="117.6" cy="1013.13" r="6.25" fill="none" stroke="#E41A1C" stroke-opacity="0.8" stroke-width="1.7"/>
<circle cx="105.2" cy="1024.63" r="7.1" fill="#E41A1C" fill-opacity="0.8"/><circle cx="105.2" cy="1024.63" r="6.25" fill="none" stroke="#E41A1C" stroke-opacity="0.8" stroke-width="1.7"/>
<circle cx="130" cy="1036.14" r="7.1" fill="#E41A1C" fill-opacity="0.8"/><circle cx="130" cy="1036.14" r="6.25" fill="none" stroke="#E41A1C" stroke-opacity="0.8" stroke-width="1.7"/>
<circle cx="167.2" cy="1059.14" r="7.1" fill="#E41A1C" fill-opacity="0.8"/><circle cx="167.2" cy="1059.14" r="6.25" fill="none" stroke="#E41A1C" stroke-opacity="0.8" stroke-width="1.7"/>
<circle cx="213.7" cy="1208.68" r="7.1" fill="#377EB8" fill-opacity="0.8"/><circle cx="213.7" cy="1208.68" r="6.25" fill="none" stroke="#377EB8" stroke-opacity="0.8" stroke-width="1.7"/>
<circle cx="335" cy="1208.68" r="7.1" fill="#377EB8" fill-opacity="0.8"/><circle cx="335" cy="1208.68" r="6.25" fill="none" stroke="#377EB8" stroke-opacity="0.8" stroke-width="1.7"/>
<circle cx="319.8" cy="1220.18" r="7.1" fill="#377EB8" fill-opacity="0.8"/><circle cx="319.8" cy="1220.18" r="6.25" fill="none" stroke="#377EB8" stroke-opacity="0.8" stroke-width="1.7"/>
<circle cx="339.3" cy="1220.18" r="7.1" fill="#377EB8" fill-opacity="0.8"/><circle cx="339.3" cy="1220.18" r="6.25" fill="none" stroke="#377EB8" stroke-opacity="0.8" stroke-width="1.7"/>
<circle cx="236.1" cy="1231.69" r="7.1" fill="#377EB8" fill-opacity="0.8"/><circle cx="236.1" cy="1231.69" r="6.25" fill="none" stroke="#377EB8" stroke-opacity="0.8" stroke-width="1.7"/>
<circle cx="311.4" cy="1231.69" r="7.1" fill="#377EB8" fill-opacity="0.8"/><circle cx="311.4" cy="1231.69" r="6.25" fill="none" stroke="#377EB8" stroke-opacity="0.8" stroke-width="1.7"/>
<circle cx="315.1" cy="1231.69" r="7.1" fill="#377EB8" fill-opacity="0.8"/><circle cx="315.1" cy="1231.69" r="6.25" fill="none" stroke="#377EB8" stroke-opacity="0.8" stroke-width="1.7"/>
<circle cx="270.2" cy="1243.19" r="7.1" fill="#377EB8" fill-opacity="0.8"/><circle cx="270.2" cy="1243.19" r="6.25" fill="none" stroke="#377EB8" stroke-opacity="0.8" stroke-width="1.7"/>
<circle cx="289.7" cy="1243.19" r="7.1" fill="#377EB8" fill-opacity="0.8"/><circle cx="289.7" cy="1243.19" r="6.25" fill="none" stroke="#377EB8" stroke-opacity="0.8" stroke-width="1.7"/>
<circle cx="236.4" cy="1254.69" r="7.1" fill="#377EB8" fill-opacity="0.8"/><circle cx="236.4" cy="1254.69" r="6.25" fill="none" stroke="#377EB8" stroke-opacity="0.8" stroke-width="1.7"/>
<circle cx="303.7" cy="1254.69" r="7.1" fill="#377EB8" fill-opacity="0.8"/><circle cx="303.7" cy="1254.69" r="6.25" fill="none" stroke="#377EB8" stroke-opacity="0.8" stroke-width="1.7"/>
<circle cx="222.1" cy="1266.2" r="7.1" fill="#377EB8" fill-opacity="0.8"/><circle cx="222.1" cy="1266.2" r="6.25" fill="none" stroke="#377EB8" stroke-opacity="0.8" stroke-width="1.7"/>
<circle cx="241.6" cy="1266.2" r="7.1" fill="#377EB8" fill-opacity="0.8"/><circle cx="241.6" cy="1266.2" r="6.25" fill="none" stroke="#377EB8" stroke-opacity="0.8" stroke-width="1.7"/>
<circle cx="344.9" cy="1266.2" r="7.1" fill="#377EB8" fill-opacity="0.8"/><circle cx="344.9" cy="1266.2" r="6.25" fill="none" stroke="#377EB8" stroke-opacity="0.8" stroke-width="1.7"/>
<circle cx="196.7" cy="1277.7" r="7.1" fill="#377EB8" fill-opacity="0.8"/><circle cx="196.7" cy="1277.7" r="6.25" fill="none" stroke="#377EB8" stroke-opacity="0.8" stroke-width="1.7"/>
<path d="M96.5,883.4 L100.64,890.87 L104.78,898.32 L108.92,905.76 L113.06,913.18 L117.2,920.58 L121.34,927.96 L125.48,935.32 L129.62,942.65 L133.76,949.95 L137.9,957.23 L142.04,964.47 L146.18,971.68 L150.32,978.85 L154.46,985.98 L158.6,993.06 L162.74,1000.08 L166.88,1007.06 L171.02,1013.97 L175.16,1020.81 L179.3,1027.59 L183.44,1034.28 L187.58,1040.9 L191.72,1047.42 L195.86,1053.85 L200,1060.19 L204.14,1066.42 L208.28,1072.55 L212.42,1078.57 L216.56,1084.48 L220.7,1090.29 L224.84,1095.99 L228.98,1101.59 L233.12,1107.1 L237.26,1112.51 L241.4,1117.83 L245.54,1123.07 L249.68,1128.23 L253.82,1133.32 L257.96,1138.34 L262.1,1143.31 L266.24,1148.21 L270.38,1153.07 L274.52,1157.87 L278.66,1162.64 L282.8,1167.37 L286.94,1172.06 L291.08,1176.71 L295.22,1181.34 L299.36,1185.94 L303.5,1190.52 L307.64,1195.07 L311.78,1199.61 L315.92,1204.12 L320.06,1208.62 L324.2,1213.1 L328.34,1217.56 L332.48,1222.02 L336.62,1226.46 L340.76,1230.88 L344.9,1235.3 L344.9,1360.7 L340.76,1353.18 L336.62,1345.68 L332.48,1338.18 L328.34,1330.7 L324.2,1323.23 L320.06,1315.78 L315.92,1308.34 L311.78,1300.93 L307.64,1293.53 L303.5,1286.15 L299.36,1278.79 L295.22,1271.46 L291.08,1264.15 L286.94,1256.88 L282.8,1249.63 L278.66,1242.43 L274.52,1235.26 L270.38,1228.13 L266.24,1221.05 L262.1,1214.03 L257.96,1207.06 L253.82,1200.15 L249.68,1193.3 L245.54,1186.53 L241.4,1179.84 L237.26,1173.22 L233.12,1166.7 L228.98,1160.27 L224.84,1153.94 L220.7,1147.71 L216.56,1141.59 L212.42,1135.57 L208.28,1129.65 L204.14,1123.85 L200,1118.15 L195.86,1112.55 L191.72,1107.05 L187.58,1101.64 L183.44,1096.32 L179.3,1091.08 L175.16,1085.92 L171.02,1080.83 L166.88,1075.81 L162.74,1070.85 L158.6,1065.94 L154.46,1061.09 L150.32,1056.28 L146.18,1051.52 L142.04,1046.79 L137.9,1042.1 L133.76,1037.45 L129.62,1032.82 L125.48,1028.22 L121.34,1023.64 L117.2,1019.09 L113.06,1014.56 L108.92,1010.04 L104.78,1005.55 L100.64,1001.07 L96.5,996.6Z" fill="#E7B800" fill-opacity="0.15"/>
<line x1="96.5" y1="940" x2="344.9" y2="1298" stroke="#E7B800" stroke-width="5.2"/>
</g>
<text x="104.9" y="854.2" font-size="32" font-style="italic" fill="#000">Adj.R = -0.77</text>
<text x="107.9" y="899.8" font-size="32" font-style="italic" fill="#000">Adj.p = 1.6e-06</text>
<rect x="85" y="817.9" width="271.9" height="569.5" fill="none" stroke="#555555" stroke-width="2.1"/>
<rect x="85" y="763.5" width="271.9" height="53.4" fill="#D9D9D9" stroke="#555555" stroke-width="2.1"/>
<text transform="translate(220.95,803.1) scale(0.926,1)" font-size="36.5" font-weight="bold" fill="#1A1A1A" text-anchor="middle">CSF2</text>
<line x1="91.4" x2="91.4" y1="1387.4" y2="1394.9" stroke="#262626" stroke-width="2.6"/>
<text x="91.4" y="1415.6" font-size="22" fill="#4D4D4D" text-anchor="middle">3</text>
<line x1="156.6" x2="156.6" y1="1387.4" y2="1394.9" stroke="#262626" stroke-width="2.6"/>
<text x="156.6" y="1415.6" font-size="22" fill="#4D4D4D" text-anchor="middle">5</text>
<line x1="221.8" x2="221.8" y1="1387.4" y2="1394.9" stroke="#262626" stroke-width="2.6"/>
<text x="221.8" y="1415.6" font-size="22" fill="#4D4D4D" text-anchor="middle">7</text>
<line x1="287" x2="287" y1="1387.4" y2="1394.9" stroke="#262626" stroke-width="2.6"/>
<text x="287" y="1415.6" font-size="22" fill="#4D4D4D" text-anchor="middle">9</text>
<line x1="352.2" x2="352.2" y1="1387.4" y2="1394.9" stroke="#262626" stroke-width="2.6"/>
<text x="352.2" y="1415.6" font-size="22" fill="#4D4D4D" text-anchor="middle">11</text>
<clipPath id="cB1"><rect x="371.87" y="817.9" width="271.9" height="569.5"/></clipPath>
<rect x="371.87" y="817.9" width="271.9" height="569.5" fill="#fff"/>
<g clip-path="url(#cB1)">
<line x1="371.87" x2="643.77" y1="932.61" y2="932.61" stroke="#EBEBEB" stroke-width="2.6"/>
<line x1="371.87" x2="643.77" y1="1047.64" y2="1047.64" stroke="#EBEBEB" stroke-width="2.6"/>
<line x1="371.87" x2="643.77" y1="1162.67" y2="1162.67" stroke="#EBEBEB" stroke-width="2.6"/>
<line x1="371.87" x2="643.77" y1="1277.7" y2="1277.7" stroke="#EBEBEB" stroke-width="2.6"/>
<line x1="383.6" x2="383.6" y1="817.9" y2="1387.4" stroke="#EBEBEB" stroke-width="2.6"/>
<line x1="440.7" x2="440.7" y1="817.9" y2="1387.4" stroke="#EBEBEB" stroke-width="2.6"/>
<line x1="497.8" x2="497.8" y1="817.9" y2="1387.4" stroke="#EBEBEB" stroke-width="2.6"/>
<line x1="554.9" x2="554.9" y1="817.9" y2="1387.4" stroke="#EBEBEB" stroke-width="2.6"/>
<line x1="612" x2="612" y1="817.9" y2="1387.4" stroke="#EBEBEB" stroke-width="2.6"/>
<circle cx="619.2" cy="898.1" r="7.1" fill="#E41A1C" fill-opacity="0.8"/><circle cx="619.2" cy="898.1" r="6.25" fill="none" stroke="#E41A1C" stroke-opacity="0.8" stroke-width="1.7"/>
<circle cx="540.4" cy="909.6" r="7.1" fill="#E41A1C" fill-opacity="0.8"/><circle cx="540.4" cy="909.6" r="6.25" fill="none" stroke="#E41A1C" stroke-opacity="0.8" stroke-width="1.7"/>
<circle cx="553.5" cy="921.11" r="7.1" fill="#E41A1C" fill-opacity="0.8"/><circle cx="553.5" cy="921.11" r="6.25" fill="none" stroke="#E41A1C" stroke-opacity="0.8" stroke-width="1.7"/>
<circle cx="609.3" cy="921.11" r="7.1" fill="#E41A1C" fill-opacity="0.8"/><circle cx="609.3" cy="921.11" r="6.25" fill="none" stroke="#E41A1C" stroke-opacity="0.8" stroke-width="1.7"/>
<circle cx="555.6" cy="932.61" r="7.1" fill="#E41A1C" fill-opacity="0.8"/><circle cx="555.6" cy="932.61" r="6.25" fill="none" stroke="#E41A1C" stroke-opacity="0.8" stroke-width="1.7"/>
<circle cx="614.6" cy="944.11" r="7.1" fill="#E41A1C" fill-opacity="0.8"/><circle cx="614.6" cy="944.11" r="6.25" fill="none" stroke="#E41A1C" stroke-opacity="0.8" stroke-width="1.7"/>
<circle cx="574.2" cy="955.62" r="7.1" fill="#E41A1C" fill-opacity="0.8"/><circle cx="574.2" cy="955.62" r="6.25" fill="none" stroke="#E41A1C" stroke-opacity="0.8" stroke-width="1.7"/>
<circle cx="552.8" cy="967.12" r="7.1" fill="#E41A1C" fill-opacity="0.8"/><circle cx="552.8" cy="967.12" r="6.25" fill="none" stroke="#E41A1C" stroke-opacity="0.8" stroke-width="1.7"/>
<circle cx="547.6" cy="978.62" r="7.1" fill="#E41A1C" fill-opacity="0.8"/><circle cx="547.6" cy="978.62" r="6.25" fill="none" stroke="#E41A1C" stroke-opacity="0.8" stroke-width="1.7"/>
<circle cx="538.6" cy="990.12" r="7.1" fill="#E41A1C" fill-opacity="0.8"/><circle cx="538.6" cy="990.12" r="6.25" fill="none" stroke="#E41A1C" stroke-opacity="0.8" stroke-width="1.7"/>
<circle cx="631.9" cy="1001.63" r="7.1" fill="#E41A1C" fill-opacity="0.8"/><circle cx="631.9" cy="1001.63" r="6.25" fill="none" stroke="#E41A1C" stroke-opacity="0.8" stroke-width="1.7"/>
<circle cx="564.9" cy="1013.13" r="7.1" fill="#E41A1C" fill-opacity="0.8"/><circle cx="564.9" cy="1013.13" r="6.25" fill="none" stroke="#E41A1C" stroke-opacity="0.8" stroke-width="1.7"/>
<circle cx="609.9" cy="1024.63" r="7.1" fill="#E41A1C" fill-opacity="0.8"/><circle cx="609.9" cy="1024.63" r="6.25" fill="none" stroke="#E41A1C" stroke-opacity="0.8" stroke-width="1.7"/>
<circle cx="588.5" cy="1036.14" r="7.1" fill="#E41A1C" fill-opacity="0.8"/><circle cx="588.5" cy="1036.14" r="6.25" fill="none" stroke="#E41A1C" stroke-opacity="0.8" stroke-width="1.7"/>
<circle cx="533.3" cy="1059.14" r="7.1" fill="#E41A1C" fill-opacity="0.8"/><circle cx="533.3" cy="1059.14" r="6.25" fill="none" stroke="#E41A1C" stroke-opacity="0.8" stroke-width="1.7"/>
<circle cx="416.5" cy="1208.68" r="7.1" fill="#377EB8" fill-opacity="0.8"/><circle cx="416.5" cy="1208.68" r="6.25" fill="none" stroke="#377EB8" stroke-opacity="0.8" stroke-width="1.7"/>
<circle cx="420.5" cy="1208.68" r="7.1" fill="#377EB8" fill-opacity="0.8"/><circle cx="420.5" cy="1208.68" r="6.25" fill="none" stroke="#377EB8" stroke-opacity="0.8" stroke-width="1.7"/>
<circle cx="383.8" cy="1220.18" r="7.1" fill="#377EB8" fill-opacity="0.8"/><circle cx="383.8" cy="1220.18" r="6.25" fill="none" stroke="#377EB8" stroke-opacity="0.8" stroke-width="1.7"/>
<circle cx="441.8" cy="1220.18" r="7.1" fill="#377EB8" fill-opacity="0.8"/><circle cx="441.8" cy="1220.18" r="6.25" fill="none" stroke="#377EB8" stroke-opacity="0.8" stroke-width="1.7"/>
<circle cx="392.2" cy="1231.69" r="7.1" fill="#377EB8" fill-opacity="0.8"/><circle cx="392.2" cy="1231.69" r="6.25" fill="none" stroke="#377EB8" stroke-opacity="0.8" stroke-width="1.7"/>
<circle cx="413.3" cy="1231.69" r="7.1" fill="#377EB8" fill-opacity="0.8"/><circle cx="413.3" cy="1231.69" r="6.25" fill="none" stroke="#377EB8" stroke-opacity="0.8" stroke-width="1.7"/>
<circle cx="451.1" cy="1231.69" r="7.1" fill="#377EB8" fill-opacity="0.8"/><circle cx="451.1" cy="1231.69" r="6.25" fill="none" stroke="#377EB8" stroke-opacity="0.8" stroke-width="1.7"/>
<circle cx="398.4" cy="1243.19" r="7.1" fill="#377EB8" fill-opacity="0.8"/><circle cx="398.4" cy="1243.19" r="6.25" fill="none" stroke="#377EB8" stroke-opacity="0.8" stroke-width="1.7"/>
<circle cx="444.9" cy="1243.19" r="7.1" fill="#377EB8" fill-opacity="0.8"/><circle cx="444.9" cy="1243.19" r="6.25" fill="none" stroke="#377EB8" stroke-opacity="0.8" stroke-width="1.7"/>
<circle cx="383.8" cy="1254.69" r="7.1" fill="#377EB8" fill-opacity="0.8"/><circle cx="383.8" cy="1254.69" r="6.25" fill="none" stroke="#377EB8" stroke-opacity="0.8" stroke-width="1.7"/>
<circle cx="410.2" cy="1254.69" r="7.1" fill="#377EB8" fill-opacity="0.8"/><circle cx="410.2" cy="1254.69" r="6.25" fill="none" stroke="#377EB8" stroke-opacity="0.8" stroke-width="1.7"/>
<circle cx="382.9" cy="1266.2" r="7.1" fill="#377EB8" fill-opacity="0.8"/><circle cx="382.9" cy="1266.2" r="6.25" fill="none" stroke="#377EB8" stroke-opacity="0.8" stroke-width="1.7"/>
<circle cx="389.1" cy="1266.2" r="7.1" fill="#377EB8" fill-opacity="0.8"/><circle cx="389.1" cy="1266.2" r="6.25" fill="none" stroke="#377EB8" stroke-opacity="0.8" stroke-width="1.7"/>
<circle cx="445.8" cy="1266.2" r="7.1" fill="#377EB8" fill-opacity="0.8"/><circle cx="445.8" cy="1266.2" r="6.25" fill="none" stroke="#377EB8" stroke-opacity="0.8" stroke-width="1.7"/>
<circle cx="442.7" cy="1277.7" r="7.1" fill="#377EB8" fill-opacity="0.8"/><circle cx="442.7" cy="1277.7" r="6.25" fill="none" stroke="#377EB8" stroke-opacity="0.8" stroke-width="1.7"/>
<path d="M383.8,1236.9 L387.94,1231.32 L392.07,1225.72 L396.2,1220.11 L400.34,1214.49 L404.48,1208.85 L408.61,1203.19 L412.75,1197.52 L416.88,1191.83 L421.01,1186.11 L425.15,1180.38 L429.29,1174.63 L433.42,1168.86 L437.56,1163.06 L441.69,1157.24 L445.82,1151.39 L449.96,1145.52 L454.1,1139.63 L458.23,1133.7 L462.37,1127.75 L466.5,1121.76 L470.63,1115.75 L474.77,1109.7 L478.9,1103.63 L483.04,1097.52 L487.18,1091.38 L491.31,1085.21 L495.44,1079.01 L499.58,1072.77 L503.71,1066.5 L507.85,1060.2 L511.99,1053.87 L516.12,1047.5 L520.25,1041.11 L524.39,1034.68 L528.52,1028.23 L532.66,1021.75 L536.79,1015.24 L540.93,1008.7 L545.06,1002.14 L549.2,995.55 L553.34,988.94 L557.47,982.31 L561.61,975.65 L565.74,968.97 L569.88,962.28 L574.01,955.56 L578.14,948.83 L582.28,942.08 L586.41,935.31 L590.55,928.53 L594.68,921.73 L598.82,914.92 L602.95,908.09 L607.09,901.26 L611.23,894.41 L615.36,887.55 L619.5,880.67 L623.63,873.79 L627.76,866.9 L631.9,860 L631.9,940.6 L627.76,946.11 L623.63,951.62 L619.5,957.15 L615.36,962.68 L611.23,968.23 L607.09,973.78 L602.95,979.35 L598.82,984.94 L594.68,990.53 L590.55,996.14 L586.41,1001.76 L582.28,1007.4 L578.14,1013.06 L574.01,1018.73 L569.88,1024.42 L565.74,1030.13 L561.61,1035.86 L557.47,1041.61 L553.34,1047.39 L549.2,1053.18 L545.06,1059 L540.93,1064.85 L536.79,1070.72 L532.66,1076.61 L528.52,1082.54 L524.39,1088.49 L520.25,1094.47 L516.12,1100.48 L511.99,1106.53 L507.85,1112.6 L503.71,1118.71 L499.58,1124.84 L495.44,1131.01 L491.31,1137.22 L487.18,1143.45 L483.04,1149.72 L478.9,1156.02 L474.77,1162.35 L470.63,1168.71 L466.5,1175.11 L462.37,1181.53 L458.23,1187.98 L454.1,1194.46 L449.96,1200.97 L445.82,1207.51 L441.69,1214.07 L437.56,1220.65 L433.42,1227.26 L429.29,1233.9 L425.15,1240.55 L421.01,1247.23 L416.88,1253.92 L412.75,1260.64 L408.61,1267.37 L404.48,1274.12 L400.34,1280.89 L396.2,1287.67 L392.07,1294.46 L387.94,1301.28 L383.8,1308.1Z" fill="#E7B800" fill-opacity="0.15"/>
<line x1="383.8" y1="1272.5" x2="631.9" y2="900.3" stroke="#E7B800" stroke-width="5.2"/>
</g>
<text x="389.9" y="854.2" font-size="32" font-style="italic" fill="#000">Adj.R = 0.79</text>
<text x="394.5" y="899.8" font-size="32" font-style="italic" fill="#000">Adj.p = 7.6e-07</text>
<rect x="371.87" y="817.9" width="271.9" height="569.5" fill="none" stroke="#555555" stroke-width="2.1"/>
<rect x="371.87" y="763.5" width="271.9" height="53.4" fill="#D9D9D9" stroke="#555555" stroke-width="2.1"/>
<text transform="translate(507.82,803.1) scale(0.926,1)" font-size="36.5" font-weight="bold" fill="#1A1A1A" text-anchor="middle">CXCR1</text>
<line x1="383.6" x2="383.6" y1="1387.4" y2="1394.9" stroke="#262626" stroke-width="2.6"/>
<text x="383.6" y="1415.6" font-size="22" fill="#4D4D4D" text-anchor="middle">10</text>
<line x1="440.7" x2="440.7" y1="1387.4" y2="1394.9" stroke="#262626" stroke-width="2.6"/>
<text x="440.7" y="1415.6" font-size="22" fill="#4D4D4D" text-anchor="middle">15</text>
<line x1="497.8" x2="497.8" y1="1387.4" y2="1394.9" stroke="#262626" stroke-width="2.6"/>
<text x="497.8" y="1415.6" font-size="22" fill="#4D4D4D" text-anchor="middle">20</text>
<line x1="554.9" x2="554.9" y1="1387.4" y2="1394.9" stroke="#262626" stroke-width="2.6"/>
<text x="554.9" y="1415.6" font-size="22" fill="#4D4D4D" text-anchor="middle">25</text>
<line x1="612" x2="612" y1="1387.4" y2="1394.9" stroke="#262626" stroke-width="2.6"/>
<text x="612" y="1415.6" font-size="22" fill="#4D4D4D" text-anchor="middle">30</text>
<clipPath id="cB2"><rect x="658.74" y="817.9" width="271.9" height="569.5"/></clipPath>
<rect x="658.74" y="817.9" width="271.9" height="569.5" fill="#fff"/>
<g clip-path="url(#cB2)">
<line x1="658.74" x2="930.64" y1="932.61" y2="932.61" stroke="#EBEBEB" stroke-width="2.6"/>
<line x1="658.74" x2="930.64" y1="1047.64" y2="1047.64" stroke="#EBEBEB" stroke-width="2.6"/>
<line x1="658.74" x2="930.64" y1="1162.67" y2="1162.67" stroke="#EBEBEB" stroke-width="2.6"/>
<line x1="658.74" x2="930.64" y1="1277.7" y2="1277.7" stroke="#EBEBEB" stroke-width="2.6"/>
<line x1="715.4" x2="715.4" y1="817.9" y2="1387.4" stroke="#EBEBEB" stroke-width="2.6"/>
<line x1="787.6" x2="787.6" y1="817.9" y2="1387.4" stroke="#EBEBEB" stroke-width="2.6"/>
<line x1="859.8" x2="859.8" y1="817.9" y2="1387.4" stroke="#EBEBEB" stroke-width="2.6"/>
<circle cx="844" cy="898.1" r="7.1" fill="#E41A1C" fill-opacity="0.8"/><circle cx="844" cy="898.1" r="6.25" fill="none" stroke="#E41A1C" stroke-opacity="0.8" stroke-width="1.7"/>
<circle cx="822.9" cy="909.6" r="7.1" fill="#E41A1C" fill-opacity="0.8"/><circle cx="822.9" cy="909.6" r="6.25" fill="none" stroke="#E41A1C" stroke-opacity="0.8" stroke-width="1.7"/>
<circle cx="799.5" cy="921.11" r="7.1" fill="#E41A1C" fill-opacity="0.8"/><circle cx="799.5" cy="921.11" r="6.25" fill="none" stroke="#E41A1C" stroke-opacity="0.8" stroke-width="1.7"/>
<circle cx="811.5" cy="921.11" r="7.1" fill="#E41A1C" fill-opacity="0.8"/><circle cx="811.5" cy="921.11" r="6.25" fill="none" stroke="#E41A1C" stroke-opacity="0.8" stroke-width="1.7"/>
<circle cx="800.8" cy="932.61" r="7.1" fill="#E41A1C" fill-opacity="0.8"/><circle cx="800.8" cy="932.61" r="6.25" fill="none" stroke="#E41A1C" stroke-opacity="0.8" stroke-width="1.7"/>
<circle cx="884.6" cy="944.11" r="7.1" fill="#E41A1C" fill-opacity="0.8"/><circle cx="884.6" cy="944.11" r="6.25" fill="none" stroke="#E41A1C" stroke-opacity="0.8" stroke-width="1.7"/>
<circle cx="898.5" cy="955.62" r="7.1" fill="#E41A1C" fill-opacity="0.8"/><circle cx="898.5" cy="955.62" r="6.25" fill="none" stroke="#E41A1C" stroke-opacity="0.8" stroke-width="1.7"/>
<circle cx="858" cy="967.12" r="7.1" fill="#E41A1C" fill-opacity="0.8"/><circle cx="858" cy="967.12" r="6.25" fill="none" stroke="#E41A1C" stroke-opacity="0.8" stroke-width="1.7"/>
<circle cx="918" cy="978.62" r="7.1" fill="#E41A1C" fill-opacity="0.8"/><circle cx="918" cy="978.62" r="6.25" fill="none" stroke="#E41A1C" stroke-opacity="0.8" stroke-width="1.7"/>
<circle cx="901.1" cy="990.12" r="7.1" fill="#E41A1C" fill-opacity="0.8"/><circle cx="901.1" cy="990.12" r="6.25" fill="none" stroke="#E41A1C" stroke-opacity="0.8" stroke-width="1.7"/>
<circle cx="904.7" cy="1001.63" r="7.1" fill="#E41A1C" fill-opacity="0.8"/><circle cx="904.7" cy="1001.63" r="6.25" fill="none" stroke="#E41A1C" stroke-opacity="0.8" stroke-width="1.7"/>
<circle cx="807.3" cy="1013.13" r="7.1" fill="#E41A1C" fill-opacity="0.8"/><circle cx="807.3" cy="1013.13" r="6.25" fill="none" stroke="#E41A1C" stroke-opacity="0.8" stroke-width="1.7"/>
<circle cx="830" cy="1024.63" r="7.1" fill="#E41A1C" fill-opacity="0.8"/><circle cx="830" cy="1024.63" r="6.25" fill="none" stroke="#E41A1C" stroke-opacity="0.8" stroke-width="1.7"/>
<circle cx="837.5" cy="1036.14" r="7.1" fill="#E41A1C" fill-opacity="0.8"/><circle cx="837.5" cy="1036.14" r="6.25" fill="none" stroke="#E41A1C" stroke-opacity="0.8" stroke-width="1.7"/>
<circle cx="893.7" cy="1059.14" r="7.1" fill="#E41A1C" fill-opacity="0.8"/><circle cx="893.7" cy="1059.14" r="6.25" fill="none" stroke="#E41A1C" stroke-opacity="0.8" stroke-width="1.7"/>
<circle cx="691.5" cy="1208.68" r="7.1" fill="#377EB8" fill-opacity="0.8"/><circle cx="691.5" cy="1208.68" r="6.25" fill="none" stroke="#377EB8" stroke-opacity="0.8" stroke-width="1.7"/>
<circle cx="719.7" cy="1208.68" r="7.1" fill="#377EB8" fill-opacity="0.8"/><circle cx="719.7" cy="1208.68" r="6.25" fill="none" stroke="#377EB8" stroke-opacity="0.8" stroke-width="1.7"/>
<circle cx="735.9" cy="1220.18" r="7.1" fill="#377EB8" fill-opacity="0.8"/><circle cx="735.9" cy="1220.18" r="6.25" fill="none" stroke="#377EB8" stroke-opacity="0.8" stroke-width="1.7"/>
<circle cx="748.9" cy="1220.18" r="7.1" fill="#377EB8" fill-opacity="0.8"/><circle cx="748.9" cy="1220.18" r="6.25" fill="none" stroke="#377EB8" stroke-opacity="0.8" stroke-width="1.7"/>
<circle cx="689.8" cy="1231.69" r="7.1" fill="#377EB8" fill-opacity="0.8"/><circle cx="689.8" cy="1231.69" r="6.25" fill="none" stroke="#377EB8" stroke-opacity="0.8" stroke-width="1.7"/>
<circle cx="695.4" cy="1231.69" r="7.1" fill="#377EB8" fill-opacity="0.8"/><circle cx="695.4" cy="1231.69" r="6.25" fill="none" stroke="#377EB8" stroke-opacity="0.8" stroke-width="1.7"/>
<circle cx="746.6" cy="1231.69" r="7.1" fill="#377EB8" fill-opacity="0.8"/><circle cx="746.6" cy="1231.69" r="6.25" fill="none" stroke="#377EB8" stroke-opacity="0.8" stroke-width="1.7"/>
<circle cx="737.9" cy="1243.19" r="7.1" fill="#377EB8" fill-opacity="0.8"/><circle cx="737.9" cy="1243.19" r="6.25" fill="none" stroke="#377EB8" stroke-opacity="0.8" stroke-width="1.7"/>
<circle cx="743.4" cy="1243.19" r="7.1" fill="#377EB8" fill-opacity="0.8"/><circle cx="743.4" cy="1243.19" r="6.25" fill="none" stroke="#377EB8" stroke-opacity="0.8" stroke-width="1.7"/>
<circle cx="670.4" cy="1254.69" r="7.1" fill="#377EB8" fill-opacity="0.8"/><circle cx="670.4" cy="1254.69" r="6.25" fill="none" stroke="#377EB8" stroke-opacity="0.8" stroke-width="1.7"/>
<circle cx="733.7" cy="1254.69" r="7.1" fill="#377EB8" fill-opacity="0.8"/><circle cx="733.7" cy="1254.69" r="6.25" fill="none" stroke="#377EB8" stroke-opacity="0.8" stroke-width="1.7"/>
<circle cx="671.3" cy="1266.2" r="7.1" fill="#377EB8" fill-opacity="0.8"/><circle cx="671.3" cy="1266.2" r="6.25" fill="none" stroke="#377EB8" stroke-opacity="0.8" stroke-width="1.7"/>
<circle cx="694.7" cy="1266.2" r="7.1" fill="#377EB8" fill-opacity="0.8"/><circle cx="694.7" cy="1266.2" r="6.25" fill="none" stroke="#377EB8" stroke-opacity="0.8" stroke-width="1.7"/>
<circle cx="741.1" cy="1266.2" r="7.1" fill="#377EB8" fill-opacity="0.8"/><circle cx="741.1" cy="1266.2" r="6.25" fill="none" stroke="#377EB8" stroke-opacity="0.8" stroke-width="1.7"/>
<circle cx="708.7" cy="1277.7" r="7.1" fill="#377EB8" fill-opacity="0.8"/><circle cx="708.7" cy="1277.7" r="6.25" fill="none" stroke="#377EB8" stroke-opacity="0.8" stroke-width="1.7"/>
<path d="M671,1226.2 L675.13,1221.3 L679.26,1216.38 L683.38,1211.44 L687.51,1206.49 L691.64,1201.52 L695.77,1196.53 L699.9,1191.51 L704.03,1186.47 L708.15,1181.41 L712.28,1176.32 L716.41,1171.19 L720.54,1166.03 L724.67,1160.84 L728.8,1155.6 L732.93,1150.32 L737.05,1145 L741.18,1139.62 L745.31,1134.18 L749.44,1128.69 L753.57,1123.13 L757.7,1117.5 L761.82,1111.8 L765.95,1106.02 L770.08,1100.16 L774.21,1094.21 L778.34,1088.18 L782.47,1082.06 L786.59,1075.85 L790.72,1069.54 L794.85,1063.15 L798.98,1056.67 L803.11,1050.1 L807.24,1043.44 L811.36,1036.71 L815.49,1029.9 L819.62,1023.02 L823.75,1016.06 L827.88,1009.05 L832,1001.97 L836.13,994.85 L840.26,987.67 L844.39,980.44 L848.52,973.17 L852.65,965.86 L856.78,958.52 L860.9,951.14 L865.03,943.73 L869.16,936.29 L873.29,928.82 L877.42,921.34 L881.55,913.83 L885.67,906.3 L889.8,898.75 L893.93,891.18 L898.06,883.6 L902.19,876.01 L906.32,868.4 L910.44,860.78 L914.57,853.14 L918.7,845.5 L918.7,962.3 L914.57,967.15 L910.44,972.02 L906.32,976.89 L902.19,981.78 L898.06,986.68 L893.93,991.6 L889.8,996.53 L885.67,1001.48 L881.55,1006.44 L877.42,1011.43 L873.29,1016.44 L869.16,1021.47 L865.03,1026.53 L860.9,1031.62 L856.78,1036.73 L852.65,1041.89 L848.52,1047.07 L844.39,1052.3 L840.26,1057.57 L836.13,1062.89 L832,1068.26 L827.88,1073.68 L823.75,1079.16 L819.62,1084.7 L815.49,1090.32 L811.36,1096 L807.24,1101.77 L803.11,1107.61 L798.98,1113.54 L794.85,1119.55 L790.72,1125.65 L786.59,1131.85 L782.47,1138.13 L778.34,1144.51 L774.21,1150.97 L770.08,1157.52 L765.95,1164.16 L761.82,1170.88 L757.7,1177.67 L753.57,1184.54 L749.44,1191.48 L745.31,1198.48 L741.18,1205.54 L737.05,1212.66 L732.93,1219.83 L728.8,1227.04 L724.67,1234.3 L720.54,1241.61 L716.41,1248.94 L712.28,1256.32 L708.15,1263.72 L704.03,1271.15 L699.9,1278.61 L695.77,1286.09 L691.64,1293.6 L687.51,1301.12 L683.38,1308.67 L679.26,1316.23 L675.13,1323.81 L671,1331.4Z" fill="#E7B800" fill-opacity="0.15"/>
<line x1="671" y1="1278.8" x2="918.7" y2="903.9" stroke="#E7B800" stroke-width="5.2"/>
</g>
<text x="677.2" y="854.2" font-size="32" font-style="italic" fill="#000">Adj.R = 0.76</text>
<text x="681.8" y="899.8" font-size="32" font-style="italic" fill="#000">Adj.p = 2.6e-06</text>
<rect x="658.74" y="817.9" width="271.9" height="569.5" fill="none" stroke="#555555" stroke-width="2.1"/>
<rect x="658.74" y="763.5" width="271.9" height="53.4" fill="#D9D9D9" stroke="#555555" stroke-width="2.1"/>
<text transform="translate(794.69,803.1) scale(0.926,1)" font-size="36.5" font-weight="bold" fill="#1A1A1A" text-anchor="middle">GYPA</text>
<line x1="715.4" x2="715.4" y1="1387.4" y2="1394.9" stroke="#262626" stroke-width="2.6"/>
<text x="715.4" y="1415.6" font-size="22" fill="#4D4D4D" text-anchor="middle">5</text>
<line x1="787.6" x2="787.6" y1="1387.4" y2="1394.9" stroke="#262626" stroke-width="2.6"/>
<text x="787.6" y="1415.6" font-size="22" fill="#4D4D4D" text-anchor="middle">7</text>
<line x1="859.8" x2="859.8" y1="1387.4" y2="1394.9" stroke="#262626" stroke-width="2.6"/>
<text x="859.8" y="1415.6" font-size="22" fill="#4D4D4D" text-anchor="middle">9</text>
<clipPath id="cB3"><rect x="945.61" y="817.9" width="271.9" height="569.5"/></clipPath>
<rect x="945.61" y="817.9" width="271.9" height="569.5" fill="#fff"/>
<g clip-path="url(#cB3)">
<line x1="945.61" x2="1217.51" y1="932.61" y2="932.61" stroke="#EBEBEB" stroke-width="2.6"/>
<line x1="945.61" x2="1217.51" y1="1047.64" y2="1047.64" stroke="#EBEBEB" stroke-width="2.6"/>
<line x1="945.61" x2="1217.51" y1="1162.67" y2="1162.67" stroke="#EBEBEB" stroke-width="2.6"/>
<line x1="945.61" x2="1217.51" y1="1277.7" y2="1277.7" stroke="#EBEBEB" stroke-width="2.6"/>
<line x1="1026.8" x2="1026.8" y1="817.9" y2="1387.4" stroke="#EBEBEB" stroke-width="2.6"/>
<line x1="1114.2" x2="1114.2" y1="817.9" y2="1387.4" stroke="#EBEBEB" stroke-width="2.6"/>
<line x1="1201.6" x2="1201.6" y1="817.9" y2="1387.4" stroke="#EBEBEB" stroke-width="2.6"/>
<circle cx="1204.7" cy="898.1" r="7.1" fill="#E41A1C" fill-opacity="0.8"/><circle cx="1204.7" cy="898.1" r="6.25" fill="none" stroke="#E41A1C" stroke-opacity="0.8" stroke-width="1.7"/>
<circle cx="1184.6" cy="909.6" r="7.1" fill="#E41A1C" fill-opacity="0.8"/><circle cx="1184.6" cy="909.6" r="6.25" fill="none" stroke="#E41A1C" stroke-opacity="0.8" stroke-width="1.7"/>
<circle cx="1184.6" cy="921.11" r="7.1" fill="#E41A1C" fill-opacity="0.8"/><circle cx="1184.6" cy="921.11" r="6.25" fill="none" stroke="#E41A1C" stroke-opacity="0.8" stroke-width="1.7"/>
<circle cx="1191" cy="921.11" r="7.1" fill="#E41A1C" fill-opacity="0.8"/><circle cx="1191" cy="921.11" r="6.25" fill="none" stroke="#E41A1C" stroke-opacity="0.8" stroke-width="1.7"/>
<circle cx="1117.4" cy="932.61" r="7.1" fill="#E41A1C" fill-opacity="0.8"/><circle cx="1117.4" cy="932.61" r="6.25" fill="none" stroke="#E41A1C" stroke-opacity="0.8" stroke-width="1.7"/>
<circle cx="1179.7" cy="944.11" r="7.1" fill="#E41A1C" fill-opacity="0.8"/><circle cx="1179.7" cy="944.11" r="6.25" fill="none" stroke="#E41A1C" stroke-opacity="0.8" stroke-width="1.7"/>
<circle cx="1121.3" cy="955.62" r="7.1" fill="#E41A1C" fill-opacity="0.8"/><circle cx="1121.3" cy="955.62" r="6.25" fill="none" stroke="#E41A1C" stroke-opacity="0.8" stroke-width="1.7"/>
<circle cx="1190.1" cy="967.12" r="7.1" fill="#E41A1C" fill-opacity="0.8"/><circle cx="1190.1" cy="967.12" r="6.25" fill="none" stroke="#E41A1C" stroke-opacity="0.8" stroke-width="1.7"/>
<circle cx="1158.9" cy="978.62" r="7.1" fill="#E41A1C" fill-opacity="0.8"/><circle cx="1158.9" cy="978.62" r="6.25" fill="none" stroke="#E41A1C" stroke-opacity="0.8" stroke-width="1.7"/>
<circle cx="1113.2" cy="990.12" r="7.1" fill="#E41A1C" fill-opacity="0.8"/><circle cx="1113.2" cy="990.12" r="6.25" fill="none" stroke="#E41A1C" stroke-opacity="0.8" stroke-width="1.7"/>
<circle cx="1107.6" cy="1001.63" r="7.1" fill="#E41A1C" fill-opacity="0.8"/><circle cx="1107.6" cy="1001.63" r="6.25" fill="none" stroke="#E41A1C" stroke-opacity="0.8" stroke-width="1.7"/>
<circle cx="1177.1" cy="1013.13" r="7.1" fill="#E41A1C" fill-opacity="0.8"/><circle cx="1177.1" cy="1013.13" r="6.25" fill="none" stroke="#E41A1C" stroke-opacity="0.8" stroke-width="1.7"/>
<circle cx="1099.2" cy="1024.63" r="7.1" fill="#E41A1C" fill-opacity="0.8"/><circle cx="1099.2" cy="1024.63" r="6.25" fill="none" stroke="#E41A1C" stroke-opacity="0.8" stroke-width="1.7"/>
<circle cx="1139.1" cy="1036.14" r="7.1" fill="#E41A1C" fill-opacity="0.8"/><circle cx="1139.1" cy="1036.14" r="6.25" fill="none" stroke="#E41A1C" stroke-opacity="0.8" stroke-width="1.7"/>
<circle cx="1110.9" cy="1059.14" r="7.1" fill="#E41A1C" fill-opacity="0.8"/><circle cx="1110.9" cy="1059.14" r="6.25" fill="none" stroke="#E41A1C" stroke-opacity="0.8" stroke-width="1.7"/>
<circle cx="957.4" cy="1208.68" r="7.1" fill="#377EB8" fill-opacity="0.8"/><circle cx="957.4" cy="1208.68" r="6.25" fill="none" stroke="#377EB8" stroke-opacity="0.8" stroke-width="1.7"/>
<circle cx="975.9" cy="1208.68" r="7.1" fill="#377EB8" fill-opacity="0.8"/><circle cx="975.9" cy="1208.68" r="6.25" fill="none" stroke="#377EB8" stroke-opacity="0.8" stroke-width="1.7"/>
<circle cx="968.7" cy="1220.18" r="7.1" fill="#377EB8" fill-opacity="0.8"/><circle cx="968.7" cy="1220.18" r="6.25" fill="none" stroke="#377EB8" stroke-opacity="0.8" stroke-width="1.7"/>
<circle cx="993.1" cy="1220.18" r="7.1" fill="#377EB8" fill-opacity="0.8"/><circle cx="993.1" cy="1220.18" r="6.25" fill="none" stroke="#377EB8" stroke-opacity="0.8" stroke-width="1.7"/>
<circle cx="968.1" cy="1231.69" r="7.1" fill="#377EB8" fill-opacity="0.8"/><circle cx="968.1" cy="1231.69" r="6.25" fill="none" stroke="#377EB8" stroke-opacity="0.8" stroke-width="1.7"/>
<circle cx="979.4" cy="1231.69" r="7.1" fill="#377EB8" fill-opacity="0.8"/><circle cx="979.4" cy="1231.69" r="6.25" fill="none" stroke="#377EB8" stroke-opacity="0.8" stroke-width="1.7"/>
<circle cx="1000.2" cy="1231.69" r="7.1" fill="#377EB8" fill-opacity="0.8"/><circle cx="1000.2" cy="1231.69" r="6.25" fill="none" stroke="#377EB8" stroke-opacity="0.8" stroke-width="1.7"/>
<circle cx="985.9" cy="1243.19" r="7.1" fill="#377EB8" fill-opacity="0.8"/><circle cx="985.9" cy="1243.19" r="6.25" fill="none" stroke="#377EB8" stroke-opacity="0.8" stroke-width="1.7"/>
<circle cx="991.4" cy="1243.19" r="7.1" fill="#377EB8" fill-opacity="0.8"/><circle cx="991.4" cy="1243.19" r="6.25" fill="none" stroke="#377EB8" stroke-opacity="0.8" stroke-width="1.7"/>
<circle cx="970.3" cy="1254.69" r="7.1" fill="#377EB8" fill-opacity="0.8"/><circle cx="970.3" cy="1254.69" r="6.25" fill="none" stroke="#377EB8" stroke-opacity="0.8" stroke-width="1.7"/>
<circle cx="984.3" cy="1254.69" r="7.1" fill="#377EB8" fill-opacity="0.8"/><circle cx="984.3" cy="1254.69" r="6.25" fill="none" stroke="#377EB8" stroke-opacity="0.8" stroke-width="1.7"/>
<circle cx="957.4" cy="1266.2" r="7.1" fill="#377EB8" fill-opacity="0.8"/><circle cx="957.4" cy="1266.2" r="6.25" fill="none" stroke="#377EB8" stroke-opacity="0.8" stroke-width="1.7"/>
<circle cx="967.1" cy="1266.2" r="7.1" fill="#377EB8" fill-opacity="0.8"/><circle cx="967.1" cy="1266.2" r="6.25" fill="none" stroke="#377EB8" stroke-opacity="0.8" stroke-width="1.7"/>
<circle cx="997.9" cy="1266.2" r="7.1" fill="#377EB8" fill-opacity="0.8"/><circle cx="997.9" cy="1266.2" r="6.25" fill="none" stroke="#377EB8" stroke-opacity="0.8" stroke-width="1.7"/>
<circle cx="985.9" cy="1277.7" r="7.1" fill="#377EB8" fill-opacity="0.8"/><circle cx="985.9" cy="1277.7" r="6.25" fill="none" stroke="#377EB8" stroke-opacity="0.8" stroke-width="1.7"/>
<path d="M957.4,1243.3 L961.52,1237.78 L965.64,1232.26 L969.76,1226.73 L973.89,1221.19 L978.01,1215.64 L982.13,1210.09 L986.25,1204.52 L990.37,1198.94 L994.5,1193.35 L998.62,1187.75 L1002.74,1182.13 L1006.86,1176.5 L1010.98,1170.85 L1015.1,1165.18 L1019.23,1159.49 L1023.35,1153.77 L1027.47,1148.03 L1031.59,1142.26 L1035.71,1136.47 L1039.83,1130.64 L1043.95,1124.77 L1048.08,1118.87 L1052.2,1112.93 L1056.32,1106.95 L1060.44,1100.93 L1064.56,1094.86 L1068.68,1088.75 L1072.81,1082.59 L1076.93,1076.38 L1081.05,1070.14 L1085.17,1063.84 L1089.29,1057.51 L1093.41,1051.13 L1097.54,1044.72 L1101.66,1038.27 L1105.78,1031.79 L1109.9,1025.27 L1114.02,1018.73 L1118.14,1012.16 L1122.27,1005.56 L1126.39,998.95 L1130.51,992.31 L1134.63,985.65 L1138.75,978.98 L1142.88,972.29 L1147,965.59 L1151.12,958.88 L1155.24,952.15 L1159.36,945.41 L1163.48,938.66 L1167.61,931.91 L1171.73,925.14 L1175.85,918.37 L1179.97,911.59 L1184.09,904.81 L1188.21,898.02 L1192.34,891.22 L1196.46,884.42 L1200.58,877.61 L1204.7,870.8 L1204.7,924.8 L1200.58,930.29 L1196.46,935.78 L1192.34,941.28 L1188.21,946.78 L1184.09,952.29 L1179.97,957.81 L1175.85,963.33 L1171.73,968.86 L1167.61,974.39 L1163.48,979.94 L1159.36,985.49 L1155.24,991.05 L1151.12,996.62 L1147,1002.21 L1142.88,1007.81 L1138.75,1013.42 L1134.63,1019.05 L1130.51,1024.69 L1126.39,1030.35 L1122.27,1036.04 L1118.14,1041.74 L1114.02,1047.47 L1109.9,1053.23 L1105.78,1059.01 L1101.66,1064.83 L1097.54,1070.68 L1093.41,1076.57 L1089.29,1082.49 L1085.17,1088.46 L1081.05,1094.46 L1076.93,1100.52 L1072.81,1106.61 L1068.68,1112.75 L1064.56,1118.94 L1060.44,1125.17 L1056.32,1131.45 L1052.2,1137.77 L1048.08,1144.13 L1043.95,1150.53 L1039.83,1156.96 L1035.71,1163.43 L1031.59,1169.94 L1027.47,1176.47 L1023.35,1183.03 L1019.23,1189.61 L1015.1,1196.22 L1010.98,1202.85 L1006.86,1209.5 L1002.74,1216.17 L998.62,1222.85 L994.5,1229.55 L990.37,1236.26 L986.25,1242.98 L982.13,1249.71 L978.01,1256.46 L973.89,1263.21 L969.76,1269.97 L965.64,1276.74 L961.52,1283.52 L957.4,1290.3Z" fill="#E7B800" fill-opacity="0.15"/>
<line x1="957.4" y1="1266.8" x2="1204.7" y2="897.8" stroke="#E7B800" stroke-width="5.2"/>
</g>
<text x="964.5" y="854.2" font-size="32" font-style="italic" fill="#000">Adj.R = 0.83</text>
<text x="967.9" y="899.8" font-size="32" font-style="italic" fill="#000">Adj.p = 4.5e-08</text>
<rect x="945.61" y="817.9" width="271.9" height="569.5" fill="none" stroke="#555555" stroke-width="2.1"/>
<rect x="945.61" y="763.5" width="271.9" height="53.4" fill="#D9D9D9" stroke="#555555" stroke-width="2.1"/>
<text transform="translate(1081.56,803.1) scale(0.926,1)" font-size="36.5" font-weight="bold" fill="#1A1A1A" text-anchor="middle">HBB</text>
<line x1="1026.8" x2="1026.8" y1="1387.4" y2="1394.9" stroke="#262626" stroke-width="2.6"/>
<text x="1026.8" y="1415.6" font-size="22" fill="#4D4D4D" text-anchor="middle">20</text>
<line x1="1114.2" x2="1114.2" y1="1387.4" y2="1394.9" stroke="#262626" stroke-width="2.6"/>
<text x="1114.2" y="1415.6" font-size="22" fill="#4D4D4D" text-anchor="middle">30</text>
<line x1="1201.6" x2="1201.6" y1="1387.4" y2="1394.9" stroke="#262626" stroke-width="2.6"/>
<text x="1201.6" y="1415.6" font-size="22" fill="#4D4D4D" text-anchor="middle">40</text>
<clipPath id="cB4"><rect x="1232.48" y="817.9" width="271.9" height="569.5"/></clipPath>
<rect x="1232.48" y="817.9" width="271.9" height="569.5" fill="#fff"/>
<g clip-path="url(#cB4)">
<line x1="1232.48" x2="1504.38" y1="932.61" y2="932.61" stroke="#EBEBEB" stroke-width="2.6"/>
<line x1="1232.48" x2="1504.38" y1="1047.64" y2="1047.64" stroke="#EBEBEB" stroke-width="2.6"/>
<line x1="1232.48" x2="1504.38" y1="1162.67" y2="1162.67" stroke="#EBEBEB" stroke-width="2.6"/>
<line x1="1232.48" x2="1504.38" y1="1277.7" y2="1277.7" stroke="#EBEBEB" stroke-width="2.6"/>
<line x1="1234.4" x2="1234.4" y1="817.9" y2="1387.4" stroke="#EBEBEB" stroke-width="2.6"/>
<line x1="1285.32" x2="1285.32" y1="817.9" y2="1387.4" stroke="#EBEBEB" stroke-width="2.6"/>
<line x1="1336.24" x2="1336.24" y1="817.9" y2="1387.4" stroke="#EBEBEB" stroke-width="2.6"/>
<line x1="1387.16" x2="1387.16" y1="817.9" y2="1387.4" stroke="#EBEBEB" stroke-width="2.6"/>
<line x1="1438.08" x2="1438.08" y1="817.9" y2="1387.4" stroke="#EBEBEB" stroke-width="2.6"/>
<line x1="1489" x2="1489" y1="817.9" y2="1387.4" stroke="#EBEBEB" stroke-width="2.6"/>
<circle cx="1286.5" cy="898.1" r="7.1" fill="#E41A1C" fill-opacity="0.8"/><circle cx="1286.5" cy="898.1" r="6.25" fill="none" stroke="#E41A1C" stroke-opacity="0.8" stroke-width="1.7"/>
<circle cx="1252.4" cy="909.6" r="7.1" fill="#E41A1C" fill-opacity="0.8"/><circle cx="1252.4" cy="909.6" r="6.25" fill="none" stroke="#E41A1C" stroke-opacity="0.8" stroke-width="1.7"/>
<circle cx="1244.3" cy="921.11" r="7.1" fill="#E41A1C" fill-opacity="0.8"/><circle cx="1244.3" cy="921.11" r="6.25" fill="none" stroke="#E41A1C" stroke-opacity="0.8" stroke-width="1.7"/>
<circle cx="1282.3" cy="932.61" r="7.1" fill="#E41A1C" fill-opacity="0.8"/><circle cx="1282.3" cy="932.61" r="6.25" fill="none" stroke="#E41A1C" stroke-opacity="0.8" stroke-width="1.7"/>
<circle cx="1278.4" cy="944.11" r="7.1" fill="#E41A1C" fill-opacity="0.8"/><circle cx="1278.4" cy="944.11" r="6.25" fill="none" stroke="#E41A1C" stroke-opacity="0.8" stroke-width="1.7"/>
<circle cx="1327.1" cy="955.62" r="7.1" fill="#E41A1C" fill-opacity="0.8"/><circle cx="1327.1" cy="955.62" r="6.25" fill="none" stroke="#E41A1C" stroke-opacity="0.8" stroke-width="1.7"/>
<circle cx="1270.9" cy="967.12" r="7.1" fill="#E41A1C" fill-opacity="0.8"/><circle cx="1270.9" cy="967.12" r="6.25" fill="none" stroke="#E41A1C" stroke-opacity="0.8" stroke-width="1.7"/>
<circle cx="1310.5" cy="978.62" r="7.1" fill="#E41A1C" fill-opacity="0.8"/><circle cx="1310.5" cy="978.62" r="6.25" fill="none" stroke="#E41A1C" stroke-opacity="0.8" stroke-width="1.7"/>
<circle cx="1258" cy="990.12" r="7.1" fill="#E41A1C" fill-opacity="0.8"/><circle cx="1258" cy="990.12" r="6.25" fill="none" stroke="#E41A1C" stroke-opacity="0.8" stroke-width="1.7"/>
<circle cx="1264.5" cy="1001.63" r="7.1" fill="#E41A1C" fill-opacity="0.8"/><circle cx="1264.5" cy="1001.63" r="6.25" fill="none" stroke="#E41A1C" stroke-opacity="0.8" stroke-width="1.7"/>
<circle cx="1323.9" cy="1013.13" r="7.1" fill="#E41A1C" fill-opacity="0.8"/><circle cx="1323.9" cy="1013.13" r="6.25" fill="none" stroke="#E41A1C" stroke-opacity="0.8" stroke-width="1.7"/>
<circle cx="1268.4" cy="1024.63" r="7.1" fill="#E41A1C" fill-opacity="0.8"/><circle cx="1268.4" cy="1024.63" r="6.25" fill="none" stroke="#E41A1C" stroke-opacity="0.8" stroke-width="1.7"/>
<circle cx="1312.5" cy="1036.14" r="7.1" fill="#E41A1C" fill-opacity="0.8"/><circle cx="1312.5" cy="1036.14" r="6.25" fill="none" stroke="#E41A1C" stroke-opacity="0.8" stroke-width="1.7"/>
<circle cx="1279.7" cy="1059.14" r="7.1" fill="#E41A1C" fill-opacity="0.8"/><circle cx="1279.7" cy="1059.14" r="6.25" fill="none" stroke="#E41A1C" stroke-opacity="0.8" stroke-width="1.7"/>
<circle cx="1468" cy="1208.68" r="7.1" fill="#377EB8" fill-opacity="0.8"/><circle cx="1468" cy="1208.68" r="6.25" fill="none" stroke="#377EB8" stroke-opacity="0.8" stroke-width="1.7"/>
<circle cx="1486.1" cy="1208.68" r="7.1" fill="#377EB8" fill-opacity="0.8"/><circle cx="1486.1" cy="1208.68" r="6.25" fill="none" stroke="#377EB8" stroke-opacity="0.8" stroke-width="1.7"/>
<circle cx="1443" cy="1220.18" r="7.1" fill="#377EB8" fill-opacity="0.8"/><circle cx="1443" cy="1220.18" r="6.25" fill="none" stroke="#377EB8" stroke-opacity="0.8" stroke-width="1.7"/>
<circle cx="1488.4" cy="1220.18" r="7.1" fill="#377EB8" fill-opacity="0.8"/><circle cx="1488.4" cy="1220.18" r="6.25" fill="none" stroke="#377EB8" stroke-opacity="0.8" stroke-width="1.7"/>
<circle cx="1448.5" cy="1231.69" r="7.1" fill="#377EB8" fill-opacity="0.8"/><circle cx="1448.5" cy="1231.69" r="6.25" fill="none" stroke="#377EB8" stroke-opacity="0.8" stroke-width="1.7"/>
<circle cx="1467.3" cy="1231.69" r="7.1" fill="#377EB8" fill-opacity="0.8"/><circle cx="1467.3" cy="1231.69" r="6.25" fill="none" stroke="#377EB8" stroke-opacity="0.8" stroke-width="1.7"/>
<circle cx="1479.3" cy="1231.69" r="7.1" fill="#377EB8" fill-opacity="0.8"/><circle cx="1479.3" cy="1231.69" r="6.25" fill="none" stroke="#377EB8" stroke-opacity="0.8" stroke-width="1.7"/>
<circle cx="1442" cy="1243.19" r="7.1" fill="#377EB8" fill-opacity="0.8"/><circle cx="1442" cy="1243.19" r="6.25" fill="none" stroke="#377EB8" stroke-opacity="0.8" stroke-width="1.7"/>
<circle cx="1492.3" cy="1243.19" r="7.1" fill="#377EB8" fill-opacity="0.8"/><circle cx="1492.3" cy="1243.19" r="6.25" fill="none" stroke="#377EB8" stroke-opacity="0.8" stroke-width="1.7"/>
<circle cx="1463.4" cy="1254.69" r="7.1" fill="#377EB8" fill-opacity="0.8"/><circle cx="1463.4" cy="1254.69" r="6.25" fill="none" stroke="#377EB8" stroke-opacity="0.8" stroke-width="1.7"/>
<circle cx="1472.2" cy="1254.69" r="7.1" fill="#377EB8" fill-opacity="0.8"/><circle cx="1472.2" cy="1254.69" r="6.25" fill="none" stroke="#377EB8" stroke-opacity="0.8" stroke-width="1.7"/>
<circle cx="1441.3" cy="1266.2" r="7.1" fill="#377EB8" fill-opacity="0.8"/><circle cx="1441.3" cy="1266.2" r="6.25" fill="none" stroke="#377EB8" stroke-opacity="0.8" stroke-width="1.7"/>
<circle cx="1443" cy="1266.2" r="7.1" fill="#377EB8" fill-opacity="0.8"/><circle cx="1443" cy="1266.2" r="6.25" fill="none" stroke="#377EB8" stroke-opacity="0.8" stroke-width="1.7"/>
<circle cx="1465" cy="1266.2" r="7.1" fill="#377EB8" fill-opacity="0.8"/><circle cx="1465" cy="1266.2" r="6.25" fill="none" stroke="#377EB8" stroke-opacity="0.8" stroke-width="1.7"/>
<circle cx="1409.9" cy="1277.7" r="7.1" fill="#377EB8" fill-opacity="0.8"/><circle cx="1409.9" cy="1277.7" r="6.25" fill="none" stroke="#377EB8" stroke-opacity="0.8" stroke-width="1.7"/>
<path d="M1244.3,895 L1248.42,901.63 L1252.55,908.25 L1256.67,914.87 L1260.79,921.48 L1264.92,928.08 L1269.04,934.68 L1273.16,941.27 L1277.29,947.85 L1281.41,954.42 L1285.53,960.98 L1289.66,967.53 L1293.78,974.06 L1297.9,980.59 L1302.03,987.1 L1306.15,993.59 L1310.27,1000.06 L1314.4,1006.52 L1318.52,1012.95 L1322.64,1019.37 L1326.77,1025.75 L1330.89,1032.11 L1335.01,1038.44 L1339.14,1044.73 L1343.26,1050.99 L1347.38,1057.21 L1351.51,1063.39 L1355.63,1069.53 L1359.75,1075.62 L1363.88,1081.66 L1368,1087.65 L1372.12,1093.58 L1376.25,1099.47 L1380.37,1105.3 L1384.49,1111.07 L1388.62,1116.8 L1392.74,1122.47 L1396.86,1128.1 L1400.99,1133.68 L1405.11,1139.21 L1409.23,1144.7 L1413.36,1150.16 L1417.48,1155.58 L1421.6,1160.97 L1425.73,1166.32 L1429.85,1171.65 L1433.97,1176.95 L1438.1,1182.24 L1442.22,1187.49 L1446.34,1192.73 L1450.47,1197.96 L1454.59,1203.16 L1458.71,1208.36 L1462.84,1213.54 L1466.96,1218.7 L1471.08,1223.86 L1475.21,1229 L1479.33,1234.14 L1483.45,1239.27 L1487.58,1244.39 L1491.7,1249.5 L1491.7,1305.5 L1487.58,1298.9 L1483.45,1292.3 L1479.33,1285.71 L1475.21,1279.13 L1471.08,1272.56 L1466.96,1266 L1462.84,1259.45 L1458.71,1252.91 L1454.59,1246.39 L1450.47,1239.88 L1446.34,1233.38 L1442.22,1226.91 L1438.1,1220.45 L1433.97,1214.01 L1429.85,1207.6 L1425.73,1201.21 L1421.6,1194.85 L1417.48,1188.52 L1413.36,1182.22 L1409.23,1175.96 L1405.11,1169.74 L1400.99,1163.56 L1396.86,1157.42 L1392.74,1151.33 L1388.62,1145.28 L1384.49,1139.29 L1380.37,1133.35 L1376.25,1127.47 L1372.12,1121.63 L1368,1115.85 L1363.88,1110.13 L1359.75,1104.45 L1355.63,1098.82 L1351.51,1093.24 L1347.38,1087.7 L1343.26,1082.21 L1339.14,1076.75 L1335.01,1071.33 L1330.89,1065.94 L1326.77,1060.58 L1322.64,1055.25 L1318.52,1049.95 L1314.4,1044.66 L1310.27,1039.4 L1306.15,1034.16 L1302.03,1028.94 L1297.9,1023.73 L1293.78,1018.54 L1289.66,1013.36 L1285.53,1008.19 L1281.41,1003.03 L1277.29,997.89 L1273.16,992.75 L1269.04,987.62 L1264.92,982.5 L1260.79,977.39 L1256.67,972.28 L1252.55,967.18 L1248.42,962.09 L1244.3,957Z" fill="#E7B800" fill-opacity="0.15"/>
<line x1="1244.3" y1="926" x2="1491.7" y2="1277.5" stroke="#E7B800" stroke-width="5.2"/>
</g>
<text x="1252.5" y="854.2" font-size="32" font-style="italic" fill="#000">Adj.R = -0.74</text>
<text x="1255.2" y="899.8" font-size="32" font-style="italic" fill="#000">Adj.p = 5.6e-06</text>
<rect x="1232.48" y="817.9" width="271.9" height="569.5" fill="none" stroke="#555555" stroke-width="2.1"/>
<rect x="1232.48" y="763.5" width="271.9" height="53.4" fill="#D9D9D9" stroke="#555555" stroke-width="2.1"/>
<text transform="translate(1368.43,803.1) scale(0.926,1)" font-size="36.5" font-weight="bold" fill="#1A1A1A" text-anchor="middle">IGF1</text>
<line x1="1234.4" x2="1234.4" y1="1387.4" y2="1394.9" stroke="#262626" stroke-width="2.6"/>
<text x="1234.4" y="1415.6" font-size="22" fill="#4D4D4D" text-anchor="middle">5.0</text>
<line x1="1285.32" x2="1285.32" y1="1387.4" y2="1394.9" stroke="#262626" stroke-width="2.6"/>
<text x="1285.32" y="1415.6" font-size="22" fill="#4D4D4D" text-anchor="middle">7.5</text>
<line x1="1336.24" x2="1336.24" y1="1387.4" y2="1394.9" stroke="#262626" stroke-width="2.6"/>
<text x="1336.24" y="1415.6" font-size="22" fill="#4D4D4D" text-anchor="middle">10.0</text>
<line x1="1387.16" x2="1387.16" y1="1387.4" y2="1394.9" stroke="#262626" stroke-width="2.6"/>
<text x="1387.16" y="1415.6" font-size="22" fill="#4D4D4D" text-anchor="middle">12.5</text>
<line x1="1438.08" x2="1438.08" y1="1387.4" y2="1394.9" stroke="#262626" stroke-width="2.6"/>
<text x="1438.08" y="1415.6" font-size="22" fill="#4D4D4D" text-anchor="middle">15.0</text>
<line x1="1489" x2="1489" y1="1387.4" y2="1394.9" stroke="#262626" stroke-width="2.6"/>
<text x="1489" y="1415.6" font-size="22" fill="#4D4D4D" text-anchor="middle">17.5</text>
<clipPath id="cB5"><rect x="1519.35" y="817.9" width="271.9" height="569.5"/></clipPath>
<rect x="1519.35" y="817.9" width="271.9" height="569.5" fill="#fff"/>
<g clip-path="url(#cB5)">
<line x1="1519.35" x2="1791.25" y1="932.61" y2="932.61" stroke="#EBEBEB" stroke-width="2.6"/>
<line x1="1519.35" x2="1791.25" y1="1047.64" y2="1047.64" stroke="#EBEBEB" stroke-width="2.6"/>
<line x1="1519.35" x2="1791.25" y1="1162.67" y2="1162.67" stroke="#EBEBEB" stroke-width="2.6"/>
<line x1="1519.35" x2="1791.25" y1="1277.7" y2="1277.7" stroke="#EBEBEB" stroke-width="2.6"/>
<line x1="1584.2" x2="1584.2" y1="817.9" y2="1387.4" stroke="#EBEBEB" stroke-width="2.6"/>
<line x1="1651.33" x2="1651.33" y1="817.9" y2="1387.4" stroke="#EBEBEB" stroke-width="2.6"/>
<line x1="1718.47" x2="1718.47" y1="817.9" y2="1387.4" stroke="#EBEBEB" stroke-width="2.6"/>
<line x1="1785.6" x2="1785.6" y1="817.9" y2="1387.4" stroke="#EBEBEB" stroke-width="2.6"/>
<circle cx="1580.7" cy="898.1" r="7.1" fill="#E41A1C" fill-opacity="0.8"/><circle cx="1580.7" cy="898.1" r="6.25" fill="none" stroke="#E41A1C" stroke-opacity="0.8" stroke-width="1.7"/>
<circle cx="1550.8" cy="909.6" r="7.1" fill="#E41A1C" fill-opacity="0.8"/><circle cx="1550.8" cy="909.6" r="6.25" fill="none" stroke="#E41A1C" stroke-opacity="0.8" stroke-width="1.7"/>
<circle cx="1533" cy="921.11" r="7.1" fill="#E41A1C" fill-opacity="0.8"/><circle cx="1533" cy="921.11" r="6.25" fill="none" stroke="#E41A1C" stroke-opacity="0.8" stroke-width="1.7"/>
<circle cx="1576.1" cy="921.11" r="7.1" fill="#E41A1C" fill-opacity="0.8"/><circle cx="1576.1" cy="921.11" r="6.25" fill="none" stroke="#E41A1C" stroke-opacity="0.8" stroke-width="1.7"/>
<circle cx="1542.7" cy="932.61" r="7.1" fill="#E41A1C" fill-opacity="0.8"/><circle cx="1542.7" cy="932.61" r="6.25" fill="none" stroke="#E41A1C" stroke-opacity="0.8" stroke-width="1.7"/>
<circle cx="1551.5" cy="944.11" r="7.1" fill="#E41A1C" fill-opacity="0.8"/><circle cx="1551.5" cy="944.11" r="6.25" fill="none" stroke="#E41A1C" stroke-opacity="0.8" stroke-width="1.7"/>
<circle cx="1536.2" cy="955.62" r="7.1" fill="#E41A1C" fill-opacity="0.8"/><circle cx="1536.2" cy="955.62" r="6.25" fill="none" stroke="#E41A1C" stroke-opacity="0.8" stroke-width="1.7"/>
<circle cx="1552.4" cy="967.12" r="7.1" fill="#E41A1C" fill-opacity="0.8"/><circle cx="1552.4" cy="967.12" r="6.25" fill="none" stroke="#E41A1C" stroke-opacity="0.8" stroke-width="1.7"/>
<circle cx="1536.2" cy="978.62" r="7.1" fill="#E41A1C" fill-opacity="0.8"/><circle cx="1536.2" cy="978.62" r="6.25" fill="none" stroke="#E41A1C" stroke-opacity="0.8" stroke-width="1.7"/>
<circle cx="1552.4" cy="990.12" r="7.1" fill="#E41A1C" fill-opacity="0.8"/><circle cx="1552.4" cy="990.12" r="6.25" fill="none" stroke="#E41A1C" stroke-opacity="0.8" stroke-width="1.7"/>
<circle cx="1531" cy="1001.63" r="7.1" fill="#E41A1C" fill-opacity="0.8"/><circle cx="1531" cy="1001.63" r="6.25" fill="none" stroke="#E41A1C" stroke-opacity="0.8" stroke-width="1.7"/>
<circle cx="1560.5" cy="1013.13" r="7.1" fill="#E41A1C" fill-opacity="0.8"/><circle cx="1560.5" cy="1013.13" r="6.25" fill="none" stroke="#E41A1C" stroke-opacity="0.8" stroke-width="1.7"/>
<circle cx="1565.1" cy="1024.63" r="7.1" fill="#E41A1C" fill-opacity="0.8"/><circle cx="1565.1" cy="1024.63" r="6.25" fill="none" stroke="#E41A1C" stroke-opacity="0.8" stroke-width="1.7"/>
<circle cx="1573.5" cy="1036.14" r="7.1" fill="#E41A1C" fill-opacity="0.8"/><circle cx="1573.5" cy="1036.14" r="6.25" fill="none" stroke="#E41A1C" stroke-opacity="0.8" stroke-width="1.7"/>
<circle cx="1582.3" cy="1059.14" r="7.1" fill="#E41A1C" fill-opacity="0.8"/><circle cx="1582.3" cy="1059.14" r="6.25" fill="none" stroke="#E41A1C" stroke-opacity="0.8" stroke-width="1.7"/>
<circle cx="1694.9" cy="1208.68" r="7.1" fill="#377EB8" fill-opacity="0.8"/><circle cx="1694.9" cy="1208.68" r="6.25" fill="none" stroke="#377EB8" stroke-opacity="0.8" stroke-width="1.7"/>
<circle cx="1709.5" cy="1208.68" r="7.1" fill="#377EB8" fill-opacity="0.8"/><circle cx="1709.5" cy="1208.68" r="6.25" fill="none" stroke="#377EB8" stroke-opacity="0.8" stroke-width="1.7"/>
<circle cx="1720.2" cy="1220.18" r="7.1" fill="#377EB8" fill-opacity="0.8"/><circle cx="1720.2" cy="1220.18" r="6.25" fill="none" stroke="#377EB8" stroke-opacity="0.8" stroke-width="1.7"/>
<circle cx="1725.1" cy="1220.18" r="7.1" fill="#377EB8" fill-opacity="0.8"/><circle cx="1725.1" cy="1220.18" r="6.25" fill="none" stroke="#377EB8" stroke-opacity="0.8" stroke-width="1.7"/>
<circle cx="1693.3" cy="1231.69" r="7.1" fill="#377EB8" fill-opacity="0.8"/><circle cx="1693.3" cy="1231.69" r="6.25" fill="none" stroke="#377EB8" stroke-opacity="0.8" stroke-width="1.7"/>
<circle cx="1750.4" cy="1231.69" r="7.1" fill="#377EB8" fill-opacity="0.8"/><circle cx="1750.4" cy="1231.69" r="6.25" fill="none" stroke="#377EB8" stroke-opacity="0.8" stroke-width="1.7"/>
<circle cx="1761.8" cy="1231.69" r="7.1" fill="#377EB8" fill-opacity="0.8"/><circle cx="1761.8" cy="1231.69" r="6.25" fill="none" stroke="#377EB8" stroke-opacity="0.8" stroke-width="1.7"/>
<circle cx="1741.3" cy="1243.19" r="7.1" fill="#377EB8" fill-opacity="0.8"/><circle cx="1741.3" cy="1243.19" r="6.25" fill="none" stroke="#377EB8" stroke-opacity="0.8" stroke-width="1.7"/>
<circle cx="1752.7" cy="1243.19" r="7.1" fill="#377EB8" fill-opacity="0.8"/><circle cx="1752.7" cy="1243.19" r="6.25" fill="none" stroke="#377EB8" stroke-opacity="0.8" stroke-width="1.7"/>
<circle cx="1752" cy="1254.69" r="7.1" fill="#377EB8" fill-opacity="0.8"/><circle cx="1752" cy="1254.69" r="6.25" fill="none" stroke="#377EB8" stroke-opacity="0.8" stroke-width="1.7"/>
<circle cx="1775.4" cy="1254.69" r="7.1" fill="#377EB8" fill-opacity="0.8"/><circle cx="1775.4" cy="1254.69" r="6.25" fill="none" stroke="#377EB8" stroke-opacity="0.8" stroke-width="1.7"/>
<circle cx="1735.8" cy="1266.2" r="7.1" fill="#377EB8" fill-opacity="0.8"/><circle cx="1735.8" cy="1266.2" r="6.25" fill="none" stroke="#377EB8" stroke-opacity="0.8" stroke-width="1.7"/>
<circle cx="1766.3" cy="1266.2" r="7.1" fill="#377EB8" fill-opacity="0.8"/><circle cx="1766.3" cy="1266.2" r="6.25" fill="none" stroke="#377EB8" stroke-opacity="0.8" stroke-width="1.7"/>
<circle cx="1768.9" cy="1266.2" r="7.1" fill="#377EB8" fill-opacity="0.8"/><circle cx="1768.9" cy="1266.2" r="6.25" fill="none" stroke="#377EB8" stroke-opacity="0.8" stroke-width="1.7"/>
<circle cx="1779.6" cy="1277.7" r="7.1" fill="#377EB8" fill-opacity="0.8"/><circle cx="1779.6" cy="1277.7" r="6.25" fill="none" stroke="#377EB8" stroke-opacity="0.8" stroke-width="1.7"/>
<path d="M1531,917.3 L1535.13,923.67 L1539.26,930.03 L1543.38,936.39 L1547.51,942.74 L1551.64,949.08 L1555.77,955.42 L1559.9,961.76 L1564.03,968.08 L1568.15,974.4 L1572.28,980.71 L1576.41,987 L1580.54,993.29 L1584.67,999.57 L1588.8,1005.83 L1592.92,1012.09 L1597.05,1018.32 L1601.18,1024.54 L1605.31,1030.75 L1609.44,1036.94 L1613.57,1043.1 L1617.69,1049.25 L1621.82,1055.37 L1625.95,1061.47 L1630.08,1067.54 L1634.21,1073.59 L1638.34,1079.6 L1642.46,1085.59 L1646.59,1091.54 L1650.72,1097.46 L1654.85,1103.34 L1658.98,1109.19 L1663.11,1115.01 L1667.24,1120.78 L1671.36,1126.53 L1675.49,1132.24 L1679.62,1137.91 L1683.75,1143.55 L1687.88,1149.16 L1692.01,1154.74 L1696.13,1160.29 L1700.26,1165.81 L1704.39,1171.31 L1708.52,1176.78 L1712.65,1182.24 L1716.78,1187.67 L1720.9,1193.08 L1725.03,1198.47 L1729.16,1203.85 L1733.29,1209.22 L1737.42,1214.57 L1741.55,1219.9 L1745.67,1225.23 L1749.8,1230.54 L1753.93,1235.85 L1758.06,1241.14 L1762.19,1246.43 L1766.32,1251.71 L1770.44,1256.98 L1774.57,1262.24 L1778.7,1267.5 L1778.7,1311.5 L1774.57,1305.15 L1770.44,1298.81 L1766.32,1292.47 L1762.19,1286.15 L1758.06,1279.83 L1753.93,1273.51 L1749.8,1267.21 L1745.67,1260.92 L1741.55,1254.64 L1737.42,1248.37 L1733.29,1242.11 L1729.16,1235.87 L1725.03,1229.64 L1720.9,1223.43 L1716.78,1217.23 L1712.65,1211.06 L1708.52,1204.9 L1704.39,1198.77 L1700.26,1192.66 L1696.13,1186.58 L1692.01,1180.52 L1687.88,1174.49 L1683.75,1168.5 L1679.62,1162.53 L1675.49,1156.6 L1671.36,1150.7 L1667.24,1144.84 L1663.11,1139.01 L1658.98,1133.21 L1654.85,1127.46 L1650.72,1121.73 L1646.59,1116.05 L1642.46,1110.39 L1638.34,1104.77 L1634.21,1099.18 L1630.08,1093.62 L1625.95,1088.08 L1621.82,1082.57 L1617.69,1077.09 L1613.57,1071.63 L1609.44,1066.19 L1605.31,1060.77 L1601.18,1055.37 L1597.05,1049.98 L1592.92,1044.61 L1588.8,1039.26 L1584.67,1033.92 L1580.54,1028.59 L1576.41,1023.27 L1572.28,1017.96 L1568.15,1012.66 L1564.03,1007.37 L1559.9,1002.09 L1555.77,996.82 L1551.64,991.55 L1547.51,986.29 L1543.38,981.03 L1539.26,975.78 L1535.13,970.54 L1531,965.3Z" fill="#E7B800" fill-opacity="0.15"/>
<line x1="1531" y1="941.3" x2="1778.7" y2="1289.5" stroke="#E7B800" stroke-width="5.2"/>
</g>
<text x="1539" y="854.2" font-size="32" font-style="italic" fill="#000">Adj.R = -0.87</text>
<text x="1542.5" y="899.8" font-size="32" font-style="italic" fill="#000">Adj.p = 1.3e-09</text>
<rect x="1519.35" y="817.9" width="271.9" height="569.5" fill="none" stroke="#555555" stroke-width="2.1"/>
<rect x="1519.35" y="763.5" width="271.9" height="53.4" fill="#D9D9D9" stroke="#555555" stroke-width="2.1"/>
<text transform="translate(1655.3,803.1) scale(0.926,1)" font-size="36.5" font-weight="bold" fill="#1A1A1A" text-anchor="middle">IL6</text>
<line x1="1584.2" x2="1584.2" y1="1387.4" y2="1394.9" stroke="#262626" stroke-width="2.6"/>
<text x="1584.2" y="1415.6" font-size="22" fill="#4D4D4D" text-anchor="middle">10</text>
<line x1="1651.33" x2="1651.33" y1="1387.4" y2="1394.9" stroke="#262626" stroke-width="2.6"/>
<text x="1651.33" y="1415.6" font-size="22" fill="#4D4D4D" text-anchor="middle">15</text>
<line x1="1718.47" x2="1718.47" y1="1387.4" y2="1394.9" stroke="#262626" stroke-width="2.6"/>
<text x="1718.47" y="1415.6" font-size="22" fill="#4D4D4D" text-anchor="middle">20</text>
<line x1="1785.6" x2="1785.6" y1="1387.4" y2="1394.9" stroke="#262626" stroke-width="2.6"/>
<text x="1785.6" y="1415.6" font-size="22" fill="#4D4D4D" text-anchor="middle">25</text>
<clipPath id="cB6"><rect x="1806.22" y="817.9" width="271.9" height="569.5"/></clipPath>
<rect x="1806.22" y="817.9" width="271.9" height="569.5" fill="#fff"/>
<g clip-path="url(#cB6)">
<line x1="1806.22" x2="2078.12" y1="932.61" y2="932.61" stroke="#EBEBEB" stroke-width="2.6"/>
<line x1="1806.22" x2="2078.12" y1="1047.64" y2="1047.64" stroke="#EBEBEB" stroke-width="2.6"/>
<line x1="1806.22" x2="2078.12" y1="1162.67" y2="1162.67" stroke="#EBEBEB" stroke-width="2.6"/>
<line x1="1806.22" x2="2078.12" y1="1277.7" y2="1277.7" stroke="#EBEBEB" stroke-width="2.6"/>
<line x1="1855.6" x2="1855.6" y1="817.9" y2="1387.4" stroke="#EBEBEB" stroke-width="2.6"/>
<line x1="1924.87" x2="1924.87" y1="817.9" y2="1387.4" stroke="#EBEBEB" stroke-width="2.6"/>
<line x1="1994.13" x2="1994.13" y1="817.9" y2="1387.4" stroke="#EBEBEB" stroke-width="2.6"/>
<line x1="2063.4" x2="2063.4" y1="817.9" y2="1387.4" stroke="#EBEBEB" stroke-width="2.6"/>
<circle cx="1855.3" cy="898.1" r="7.1" fill="#E41A1C" fill-opacity="0.8"/><circle cx="1855.3" cy="898.1" r="6.25" fill="none" stroke="#E41A1C" stroke-opacity="0.8" stroke-width="1.7"/>
<circle cx="1863.4" cy="909.6" r="7.1" fill="#E41A1C" fill-opacity="0.8"/><circle cx="1863.4" cy="909.6" r="6.25" fill="none" stroke="#E41A1C" stroke-opacity="0.8" stroke-width="1.7"/>
<circle cx="1841.1" cy="921.11" r="7.1" fill="#E41A1C" fill-opacity="0.8"/><circle cx="1841.1" cy="921.11" r="6.25" fill="none" stroke="#E41A1C" stroke-opacity="0.8" stroke-width="1.7"/>
<circle cx="1855.3" cy="921.11" r="7.1" fill="#E41A1C" fill-opacity="0.8"/><circle cx="1855.3" cy="921.11" r="6.25" fill="none" stroke="#E41A1C" stroke-opacity="0.8" stroke-width="1.7"/>
<circle cx="1861.2" cy="932.61" r="7.1" fill="#E41A1C" fill-opacity="0.8"/><circle cx="1861.2" cy="932.61" r="6.25" fill="none" stroke="#E41A1C" stroke-opacity="0.8" stroke-width="1.7"/>
<circle cx="1844" cy="944.11" r="7.1" fill="#E41A1C" fill-opacity="0.8"/><circle cx="1844" cy="944.11" r="6.25" fill="none" stroke="#E41A1C" stroke-opacity="0.8" stroke-width="1.7"/>
<circle cx="1844" cy="955.62" r="7.1" fill="#E41A1C" fill-opacity="0.8"/><circle cx="1844" cy="955.62" r="6.25" fill="none" stroke="#E41A1C" stroke-opacity="0.8" stroke-width="1.7"/>
<circle cx="1853.1" cy="967.12" r="7.1" fill="#E41A1C" fill-opacity="0.8"/><circle cx="1853.1" cy="967.12" r="6.25" fill="none" stroke="#E41A1C" stroke-opacity="0.8" stroke-width="1.7"/>
<circle cx="1833.6" cy="978.62" r="7.1" fill="#E41A1C" fill-opacity="0.8"/><circle cx="1833.6" cy="978.62" r="6.25" fill="none" stroke="#E41A1C" stroke-opacity="0.8" stroke-width="1.7"/>
<circle cx="1818" cy="990.12" r="7.1" fill="#E41A1C" fill-opacity="0.8"/><circle cx="1818" cy="990.12" r="6.25" fill="none" stroke="#E41A1C" stroke-opacity="0.8" stroke-width="1.7"/>
<circle cx="1845.6" cy="1001.63" r="7.1" fill="#E41A1C" fill-opacity="0.8"/><circle cx="1845.6" cy="1001.63" r="6.25" fill="none" stroke="#E41A1C" stroke-opacity="0.8" stroke-width="1.7"/>
<circle cx="1819" cy="1013.13" r="7.1" fill="#E41A1C" fill-opacity="0.8"/><circle cx="1819" cy="1013.13" r="6.25" fill="none" stroke="#E41A1C" stroke-opacity="0.8" stroke-width="1.7"/>
<circle cx="1850.8" cy="1024.63" r="7.1" fill="#E41A1C" fill-opacity="0.8"/><circle cx="1850.8" cy="1024.63" r="6.25" fill="none" stroke="#E41A1C" stroke-opacity="0.8" stroke-width="1.7"/>
<circle cx="1818" cy="1036.14" r="7.1" fill="#E41A1C" fill-opacity="0.8"/><circle cx="1818" cy="1036.14" r="6.25" fill="none" stroke="#E41A1C" stroke-opacity="0.8" stroke-width="1.7"/>
<circle cx="1854.7" cy="1059.14" r="7.1" fill="#E41A1C" fill-opacity="0.8"/><circle cx="1854.7" cy="1059.14" r="6.25" fill="none" stroke="#E41A1C" stroke-opacity="0.8" stroke-width="1.7"/>
<circle cx="1969.9" cy="1208.68" r="7.1" fill="#377EB8" fill-opacity="0.8"/><circle cx="1969.9" cy="1208.68" r="6.25" fill="none" stroke="#377EB8" stroke-opacity="0.8" stroke-width="1.7"/>
<circle cx="2065.7" cy="1208.68" r="7.1" fill="#377EB8" fill-opacity="0.8"/><circle cx="2065.7" cy="1208.68" r="6.25" fill="none" stroke="#377EB8" stroke-opacity="0.8" stroke-width="1.7"/>
<circle cx="2001.7" cy="1220.18" r="7.1" fill="#377EB8" fill-opacity="0.8"/><circle cx="2001.7" cy="1220.18" r="6.25" fill="none" stroke="#377EB8" stroke-opacity="0.8" stroke-width="1.7"/>
<circle cx="2038.1" cy="1220.18" r="7.1" fill="#377EB8" fill-opacity="0.8"/><circle cx="2038.1" cy="1220.18" r="6.25" fill="none" stroke="#377EB8" stroke-opacity="0.8" stroke-width="1.7"/>
<circle cx="2018.6" cy="1231.69" r="7.1" fill="#377EB8" fill-opacity="0.8"/><circle cx="2018.6" cy="1231.69" r="6.25" fill="none" stroke="#377EB8" stroke-opacity="0.8" stroke-width="1.7"/>
<circle cx="2046.8" cy="1231.69" r="7.1" fill="#377EB8" fill-opacity="0.8"/><circle cx="2046.8" cy="1231.69" r="6.25" fill="none" stroke="#377EB8" stroke-opacity="0.8" stroke-width="1.7"/>
<circle cx="1992" cy="1243.19" r="7.1" fill="#377EB8" fill-opacity="0.8"/><circle cx="1992" cy="1243.19" r="6.25" fill="none" stroke="#377EB8" stroke-opacity="0.8" stroke-width="1.7"/>
<circle cx="2016.3" cy="1243.19" r="7.1" fill="#377EB8" fill-opacity="0.8"/><circle cx="2016.3" cy="1243.19" r="6.25" fill="none" stroke="#377EB8" stroke-opacity="0.8" stroke-width="1.7"/>
<circle cx="2045.5" cy="1254.69" r="7.1" fill="#377EB8" fill-opacity="0.8"/><circle cx="2045.5" cy="1254.69" r="6.25" fill="none" stroke="#377EB8" stroke-opacity="0.8" stroke-width="1.7"/>
<circle cx="2065.7" cy="1254.69" r="7.1" fill="#377EB8" fill-opacity="0.8"/><circle cx="2065.7" cy="1254.69" r="6.25" fill="none" stroke="#377EB8" stroke-opacity="0.8" stroke-width="1.7"/>
<circle cx="1952.1" cy="1266.2" r="7.1" fill="#377EB8" fill-opacity="0.8"/><circle cx="1952.1" cy="1266.2" r="6.25" fill="none" stroke="#377EB8" stroke-opacity="0.8" stroke-width="1.7"/>
<circle cx="1989.4" cy="1266.2" r="7.1" fill="#377EB8" fill-opacity="0.8"/><circle cx="1989.4" cy="1266.2" r="6.25" fill="none" stroke="#377EB8" stroke-opacity="0.8" stroke-width="1.7"/>
<circle cx="2043.6" cy="1266.2" r="7.1" fill="#377EB8" fill-opacity="0.8"/><circle cx="2043.6" cy="1266.2" r="6.25" fill="none" stroke="#377EB8" stroke-opacity="0.8" stroke-width="1.7"/>
<circle cx="2011.1" cy="1277.7" r="7.1" fill="#377EB8" fill-opacity="0.8"/><circle cx="2011.1" cy="1277.7" r="6.25" fill="none" stroke="#377EB8" stroke-opacity="0.8" stroke-width="1.7"/>
<path d="M1818,906.5 L1822.13,913.24 L1826.26,919.98 L1830.38,926.71 L1834.51,933.42 L1838.64,940.13 L1842.77,946.83 L1846.9,953.51 L1851.03,960.19 L1855.15,966.84 L1859.28,973.49 L1863.41,980.12 L1867.54,986.73 L1871.67,993.32 L1875.8,999.89 L1879.92,1006.43 L1884.05,1012.96 L1888.18,1019.46 L1892.31,1025.92 L1896.44,1032.36 L1900.57,1038.77 L1904.69,1045.13 L1908.82,1051.46 L1912.95,1057.75 L1917.08,1063.99 L1921.21,1070.19 L1925.34,1076.34 L1929.46,1082.43 L1933.59,1088.47 L1937.72,1094.45 L1941.85,1100.37 L1945.98,1106.24 L1950.11,1112.04 L1954.23,1117.79 L1958.36,1123.47 L1962.49,1129.1 L1966.62,1134.67 L1970.75,1140.18 L1974.88,1145.64 L1979,1151.05 L1983.13,1156.42 L1987.26,1161.73 L1991.39,1167.01 L1995.52,1172.25 L1999.65,1177.45 L2003.77,1182.61 L2007.9,1187.75 L2012.03,1192.85 L2016.16,1197.93 L2020.29,1202.98 L2024.42,1208.01 L2028.54,1213.02 L2032.67,1218.01 L2036.8,1222.99 L2040.93,1227.94 L2045.06,1232.88 L2049.19,1237.81 L2053.32,1242.73 L2057.44,1247.63 L2061.57,1252.52 L2065.7,1257.4 L2065.7,1331.4 L2061.57,1324.68 L2057.44,1317.98 L2053.32,1311.28 L2049.19,1304.6 L2045.06,1297.93 L2040.93,1291.28 L2036.8,1284.64 L2032.67,1278.01 L2028.54,1271.41 L2024.42,1264.82 L2020.29,1258.25 L2016.16,1251.71 L2012.03,1245.19 L2007.9,1238.7 L2003.77,1232.24 L1999.65,1225.81 L1995.52,1219.41 L1991.39,1213.05 L1987.26,1206.73 L1983.13,1200.45 L1979,1194.22 L1974.88,1188.03 L1970.75,1181.9 L1966.62,1175.81 L1962.49,1169.79 L1958.36,1163.82 L1954.23,1157.9 L1950.11,1152.05 L1945.98,1146.26 L1941.85,1140.53 L1937.72,1134.85 L1933.59,1129.24 L1929.46,1123.68 L1925.34,1118.18 L1921.21,1112.73 L1917.08,1107.33 L1912.95,1101.97 L1908.82,1096.66 L1904.69,1091.4 L1900.57,1086.17 L1896.44,1080.98 L1892.31,1075.82 L1888.18,1070.69 L1884.05,1065.59 L1879.92,1060.52 L1875.8,1055.47 L1871.67,1050.44 L1867.54,1045.43 L1863.41,1040.45 L1859.28,1035.48 L1855.15,1030.53 L1851.03,1025.59 L1846.9,1020.66 L1842.77,1015.75 L1838.64,1010.85 L1834.51,1005.96 L1830.38,1001.08 L1826.26,996.21 L1822.13,991.35 L1818,986.5Z" fill="#E7B800" fill-opacity="0.15"/>
<line x1="1818" y1="946.5" x2="2065.7" y2="1294.4" stroke="#E7B800" stroke-width="5.2"/>
</g>
<text x="1825.6" y="854.2" font-size="32" font-style="italic" fill="#000">Adj.R = -0.72</text>
<text x="1829.1" y="899.8" font-size="32" font-style="italic" fill="#000">Adj.p = 1.3e-05</text>
<rect x="1806.22" y="817.9" width="271.9" height="569.5" fill="none" stroke="#555555" stroke-width="2.1"/>
<rect x="1806.22" y="763.5" width="271.9" height="53.4" fill="#D9D9D9" stroke="#555555" stroke-width="2.1"/>
<text transform="translate(1942.17,803.1) scale(0.926,1)" font-size="36.5" font-weight="bold" fill="#1A1A1A" text-anchor="middle">MMP9</text>
<line x1="1855.6" x2="1855.6" y1="1387.4" y2="1394.9" stroke="#262626" stroke-width="2.6"/>
<text x="1855.6" y="1415.6" font-size="22" fill="#4D4D4D" text-anchor="middle">20</text>
<line x1="1924.87" x2="1924.87" y1="1387.4" y2="1394.9" stroke="#262626" stroke-width="2.6"/>
<text x="1924.87" y="1415.6" font-size="22" fill="#4D4D4D" text-anchor="middle">25</text>
<line x1="1994.13" x2="1994.13" y1="1387.4" y2="1394.9" stroke="#262626" stroke-width="2.6"/>
<text x="1994.13" y="1415.6" font-size="22" fill="#4D4D4D" text-anchor="middle">30</text>
<line x1="2063.4" x2="2063.4" y1="1387.4" y2="1394.9" stroke="#262626" stroke-width="2.6"/>
<text x="2063.4" y="1415.6" font-size="22" fill="#4D4D4D" text-anchor="middle">35</text>
<clipPath id="cB7"><rect x="2093.09" y="817.9" width="271.9" height="569.5"/></clipPath>
<rect x="2093.09" y="817.9" width="271.9" height="569.5" fill="#fff"/>
<g clip-path="url(#cB7)">
<line x1="2093.09" x2="2364.99" y1="932.61" y2="932.61" stroke="#EBEBEB" stroke-width="2.6"/>
<line x1="2093.09" x2="2364.99" y1="1047.64" y2="1047.64" stroke="#EBEBEB" stroke-width="2.6"/>
<line x1="2093.09" x2="2364.99" y1="1162.67" y2="1162.67" stroke="#EBEBEB" stroke-width="2.6"/>
<line x1="2093.09" x2="2364.99" y1="1277.7" y2="1277.7" stroke="#EBEBEB" stroke-width="2.6"/>
<line x1="2105.4" x2="2105.4" y1="817.9" y2="1387.4" stroke="#EBEBEB" stroke-width="2.6"/>
<line x1="2172.4" x2="2172.4" y1="817.9" y2="1387.4" stroke="#EBEBEB" stroke-width="2.6"/>
<line x1="2239.4" x2="2239.4" y1="817.9" y2="1387.4" stroke="#EBEBEB" stroke-width="2.6"/>
<line x1="2306.4" x2="2306.4" y1="817.9" y2="1387.4" stroke="#EBEBEB" stroke-width="2.6"/>
<circle cx="2311.4" cy="898.1" r="7.1" fill="#E41A1C" fill-opacity="0.8"/><circle cx="2311.4" cy="898.1" r="6.25" fill="none" stroke="#E41A1C" stroke-opacity="0.8" stroke-width="1.7"/>
<circle cx="2352.7" cy="909.6" r="7.1" fill="#E41A1C" fill-opacity="0.8"/><circle cx="2352.7" cy="909.6" r="6.25" fill="none" stroke="#E41A1C" stroke-opacity="0.8" stroke-width="1.7"/>
<circle cx="2308.8" cy="921.11" r="7.1" fill="#E41A1C" fill-opacity="0.8"/><circle cx="2308.8" cy="921.11" r="6.25" fill="none" stroke="#E41A1C" stroke-opacity="0.8" stroke-width="1.7"/>
<circle cx="2335.1" cy="921.11" r="7.1" fill="#E41A1C" fill-opacity="0.8"/><circle cx="2335.1" cy="921.11" r="6.25" fill="none" stroke="#E41A1C" stroke-opacity="0.8" stroke-width="1.7"/>
<circle cx="2280.6" cy="932.61" r="7.1" fill="#E41A1C" fill-opacity="0.8"/><circle cx="2280.6" cy="932.61" r="6.25" fill="none" stroke="#E41A1C" stroke-opacity="0.8" stroke-width="1.7"/>
<circle cx="2287.7" cy="944.11" r="7.1" fill="#E41A1C" fill-opacity="0.8"/><circle cx="2287.7" cy="944.11" r="6.25" fill="none" stroke="#E41A1C" stroke-opacity="0.8" stroke-width="1.7"/>
<circle cx="2338.1" cy="955.62" r="7.1" fill="#E41A1C" fill-opacity="0.8"/><circle cx="2338.1" cy="955.62" r="6.25" fill="none" stroke="#E41A1C" stroke-opacity="0.8" stroke-width="1.7"/>
<circle cx="2286.8" cy="967.12" r="7.1" fill="#E41A1C" fill-opacity="0.8"/><circle cx="2286.8" cy="967.12" r="6.25" fill="none" stroke="#E41A1C" stroke-opacity="0.8" stroke-width="1.7"/>
<circle cx="2260.2" cy="978.62" r="7.1" fill="#E41A1C" fill-opacity="0.8"/><circle cx="2260.2" cy="978.62" r="6.25" fill="none" stroke="#E41A1C" stroke-opacity="0.8" stroke-width="1.7"/>
<circle cx="2322.8" cy="990.12" r="7.1" fill="#E41A1C" fill-opacity="0.8"/><circle cx="2322.8" cy="990.12" r="6.25" fill="none" stroke="#E41A1C" stroke-opacity="0.8" stroke-width="1.7"/>
<circle cx="2272.5" cy="1001.63" r="7.1" fill="#E41A1C" fill-opacity="0.8"/><circle cx="2272.5" cy="1001.63" r="6.25" fill="none" stroke="#E41A1C" stroke-opacity="0.8" stroke-width="1.7"/>
<circle cx="2241.7" cy="1013.13" r="7.1" fill="#E41A1C" fill-opacity="0.8"/><circle cx="2241.7" cy="1013.13" r="6.25" fill="none" stroke="#E41A1C" stroke-opacity="0.8" stroke-width="1.7"/>
<circle cx="2334.2" cy="1024.63" r="7.1" fill="#E41A1C" fill-opacity="0.8"/><circle cx="2334.2" cy="1024.63" r="6.25" fill="none" stroke="#E41A1C" stroke-opacity="0.8" stroke-width="1.7"/>
<circle cx="2270.9" cy="1036.14" r="7.1" fill="#E41A1C" fill-opacity="0.8"/><circle cx="2270.9" cy="1036.14" r="6.25" fill="none" stroke="#E41A1C" stroke-opacity="0.8" stroke-width="1.7"/>
<circle cx="2256.9" cy="1059.14" r="7.1" fill="#E41A1C" fill-opacity="0.8"/><circle cx="2256.9" cy="1059.14" r="6.25" fill="none" stroke="#E41A1C" stroke-opacity="0.8" stroke-width="1.7"/>
<circle cx="2141.7" cy="1208.68" r="7.1" fill="#377EB8" fill-opacity="0.8"/><circle cx="2141.7" cy="1208.68" r="6.25" fill="none" stroke="#377EB8" stroke-opacity="0.8" stroke-width="1.7"/>
<circle cx="2171.5" cy="1208.68" r="7.1" fill="#377EB8" fill-opacity="0.8"/><circle cx="2171.5" cy="1208.68" r="6.25" fill="none" stroke="#377EB8" stroke-opacity="0.8" stroke-width="1.7"/>
<circle cx="2104.4" cy="1220.18" r="7.1" fill="#377EB8" fill-opacity="0.8"/><circle cx="2104.4" cy="1220.18" r="6.25" fill="none" stroke="#377EB8" stroke-opacity="0.8" stroke-width="1.7"/>
<circle cx="2128.7" cy="1220.18" r="7.1" fill="#377EB8" fill-opacity="0.8"/><circle cx="2128.7" cy="1220.18" r="6.25" fill="none" stroke="#377EB8" stroke-opacity="0.8" stroke-width="1.7"/>
<circle cx="2107.6" cy="1231.69" r="7.1" fill="#377EB8" fill-opacity="0.8"/><circle cx="2107.6" cy="1231.69" r="6.25" fill="none" stroke="#377EB8" stroke-opacity="0.8" stroke-width="1.7"/>
<circle cx="2154" cy="1231.69" r="7.1" fill="#377EB8" fill-opacity="0.8"/><circle cx="2154" cy="1231.69" r="6.25" fill="none" stroke="#377EB8" stroke-opacity="0.8" stroke-width="1.7"/>
<circle cx="2167.7" cy="1231.69" r="7.1" fill="#377EB8" fill-opacity="0.8"/><circle cx="2167.7" cy="1231.69" r="6.25" fill="none" stroke="#377EB8" stroke-opacity="0.8" stroke-width="1.7"/>
<circle cx="2124.5" cy="1243.19" r="7.1" fill="#377EB8" fill-opacity="0.8"/><circle cx="2124.5" cy="1243.19" r="6.25" fill="none" stroke="#377EB8" stroke-opacity="0.8" stroke-width="1.7"/>
<circle cx="2126" cy="1243.19" r="7.1" fill="#377EB8" fill-opacity="0.8"/><circle cx="2126" cy="1243.19" r="6.25" fill="none" stroke="#377EB8" stroke-opacity="0.8" stroke-width="1.7"/>
<circle cx="2132" cy="1254.69" r="7.1" fill="#377EB8" fill-opacity="0.8"/><circle cx="2132" cy="1254.69" r="6.25" fill="none" stroke="#377EB8" stroke-opacity="0.8" stroke-width="1.7"/>
<circle cx="2138.4" cy="1254.69" r="7.1" fill="#377EB8" fill-opacity="0.8"/><circle cx="2138.4" cy="1254.69" r="6.25" fill="none" stroke="#377EB8" stroke-opacity="0.8" stroke-width="1.7"/>
<circle cx="2143.3" cy="1266.2" r="7.1" fill="#377EB8" fill-opacity="0.8"/><circle cx="2143.3" cy="1266.2" r="6.25" fill="none" stroke="#377EB8" stroke-opacity="0.8" stroke-width="1.7"/>
<circle cx="2149.8" cy="1266.2" r="7.1" fill="#377EB8" fill-opacity="0.8"/><circle cx="2149.8" cy="1266.2" r="6.25" fill="none" stroke="#377EB8" stroke-opacity="0.8" stroke-width="1.7"/>
<circle cx="2151.4" cy="1266.2" r="7.1" fill="#377EB8" fill-opacity="0.8"/><circle cx="2151.4" cy="1266.2" r="6.25" fill="none" stroke="#377EB8" stroke-opacity="0.8" stroke-width="1.7"/>
<circle cx="2119" cy="1277.7" r="7.1" fill="#377EB8" fill-opacity="0.8"/><circle cx="2119" cy="1277.7" r="6.25" fill="none" stroke="#377EB8" stroke-opacity="0.8" stroke-width="1.7"/>
<path d="M2105,1255.5 L2109.13,1249.78 L2113.26,1244.04 L2117.39,1238.31 L2121.51,1232.56 L2125.64,1226.81 L2129.77,1221.05 L2133.9,1215.28 L2138.03,1209.5 L2142.15,1203.71 L2146.28,1197.9 L2150.41,1192.08 L2154.54,1186.25 L2158.67,1180.4 L2162.8,1174.52 L2166.93,1168.63 L2171.05,1162.71 L2175.18,1156.76 L2179.31,1150.78 L2183.44,1144.77 L2187.57,1138.72 L2191.69,1132.63 L2195.82,1126.49 L2199.95,1120.3 L2204.08,1114.06 L2208.21,1107.76 L2212.34,1101.4 L2216.47,1094.98 L2220.59,1088.49 L2224.72,1081.93 L2228.85,1075.31 L2232.98,1068.63 L2237.11,1061.89 L2241.23,1055.09 L2245.36,1048.24 L2249.49,1041.33 L2253.62,1034.39 L2257.75,1027.4 L2261.88,1020.37 L2266,1013.31 L2270.13,1006.21 L2274.26,999.09 L2278.39,991.95 L2282.52,984.78 L2286.65,977.6 L2290.78,970.4 L2294.9,963.18 L2299.03,955.94 L2303.16,948.7 L2307.29,941.44 L2311.42,934.17 L2315.54,926.9 L2319.67,919.61 L2323.8,912.32 L2327.93,905.02 L2332.06,897.71 L2336.19,890.4 L2340.32,883.08 L2344.44,875.76 L2348.57,868.43 L2352.7,861.1 L2352.7,922.7 L2348.57,928.41 L2344.44,934.11 L2340.32,939.83 L2336.19,945.55 L2332.06,951.27 L2327.93,957 L2323.8,962.74 L2319.67,968.48 L2315.54,974.23 L2311.42,979.99 L2307.29,985.76 L2303.16,991.54 L2299.03,997.33 L2294.9,1003.14 L2290.78,1008.95 L2286.65,1014.79 L2282.52,1020.64 L2278.39,1026.51 L2274.26,1032.4 L2270.13,1038.32 L2266,1044.26 L2261.88,1050.24 L2257.75,1056.25 L2253.62,1062.29 L2249.49,1068.38 L2245.36,1074.52 L2241.23,1080.7 L2237.11,1086.94 L2232.98,1093.23 L2228.85,1099.59 L2224.72,1106 L2220.59,1112.49 L2216.47,1119.03 L2212.34,1125.65 L2208.21,1132.32 L2204.08,1139.06 L2199.95,1145.85 L2195.82,1152.7 L2191.69,1159.6 L2187.57,1166.55 L2183.44,1173.53 L2179.31,1180.56 L2175.18,1187.62 L2171.05,1194.71 L2166.93,1201.82 L2162.8,1208.96 L2158.67,1216.13 L2154.54,1223.31 L2150.41,1230.51 L2146.28,1237.73 L2142.15,1244.96 L2138.03,1252.21 L2133.9,1259.46 L2129.77,1266.73 L2125.64,1274.01 L2121.51,1281.29 L2117.39,1288.58 L2113.26,1295.88 L2109.13,1303.19 L2105,1310.5Z" fill="#E7B800" fill-opacity="0.15"/>
<line x1="2105" y1="1283" x2="2352.7" y2="891.9" stroke="#E7B800" stroke-width="5.2"/>
</g>
<text x="2111.8" y="854.2" font-size="32" font-style="italic" fill="#000">Adj.R = 0.84</text>
<text x="2115.2" y="899.8" font-size="32" font-style="italic" fill="#000">Adj.p = 2.3e-08</text>
<rect x="2093.09" y="817.9" width="271.9" height="569.5" fill="none" stroke="#555555" stroke-width="2.1"/>
<rect x="2093.09" y="763.5" width="271.9" height="53.4" fill="#D9D9D9" stroke="#555555" stroke-width="2.1"/>
<text transform="translate(2229.04,803.1) scale(0.926,1)" font-size="36.5" font-weight="bold" fill="#1A1A1A" text-anchor="middle">SLC4A1</text>
<line x1="2105.4" x2="2105.4" y1="1387.4" y2="1394.9" stroke="#262626" stroke-width="2.6"/>
<text x="2105.4" y="1415.6" font-size="22" fill="#4D4D4D" text-anchor="middle">5</text>
<line x1="2172.4" x2="2172.4" y1="1387.4" y2="1394.9" stroke="#262626" stroke-width="2.6"/>
<text x="2172.4" y="1415.6" font-size="22" fill="#4D4D4D" text-anchor="middle">10</text>
<line x1="2239.4" x2="2239.4" y1="1387.4" y2="1394.9" stroke="#262626" stroke-width="2.6"/>
<text x="2239.4" y="1415.6" font-size="22" fill="#4D4D4D" text-anchor="middle">15</text>
<line x1="2306.4" x2="2306.4" y1="1387.4" y2="1394.9" stroke="#262626" stroke-width="2.6"/>
<text x="2306.4" y="1415.6" font-size="22" fill="#4D4D4D" text-anchor="middle">20</text>
<line x1="77.5" x2="85" y1="932.61" y2="932.61" stroke="#262626" stroke-width="2.6"/>
<text x="71" y="939.81" font-size="22" fill="#4D4D4D" text-anchor="end">30</text>
<line x1="77.5" x2="85" y1="1047.64" y2="1047.64" stroke="#262626" stroke-width="2.6"/>
<text x="71" y="1054.84" font-size="22" fill="#4D4D4D" text-anchor="end">20</text>
<line x1="77.5" x2="85" y1="1162.67" y2="1162.67" stroke="#262626" stroke-width="2.6"/>
<text x="71" y="1169.87" font-size="22" fill="#4D4D4D" text-anchor="end">10</text>
<line x1="77.5" x2="85" y1="1277.7" y2="1277.7" stroke="#262626" stroke-width="2.6"/>
<text x="71" y="1284.9" font-size="22" fill="#4D4D4D" text-anchor="end">0</text>
<text x="1225.5" y="694" font-size="27.7" fill="#000" text-anchor="middle">mRNA Expression (TPM)</text>
<text transform="translate(21.2,366.2) rotate(-90)" font-size="27.7" fill="#000" text-anchor="middle">HAMD Score</text>
<text transform="translate(21.2,1103.4) rotate(-90)" font-size="27.7" fill="#000" text-anchor="middle">HAMD Score</text>
<text x="2392.5" y="672.6" font-size="27.7" fill="#000">group</text>
<circle cx="2413.2" cy="711" r="6.8" fill="#377EB8" fill-opacity="0.8"/><circle cx="2413.2" cy="711" r="5.95" fill="none" stroke="#377EB8" stroke-opacity="0.8" stroke-width="1.7"/>
<text x="2449.5" y="718.9" font-size="21.5" fill="#000">HC</text>
<circle cx="2413.2" cy="754" r="6.8" fill="#E41A1C" fill-opacity="0.8"/><circle cx="2413.2" cy="754" r="5.95" fill="none" stroke="#E41A1C" stroke-opacity="0.8" stroke-width="1.7"/>
<text x="2449.5" y="761.9" font-size="21.5" fill="#000">MDD</text>
</svg></body></html>
